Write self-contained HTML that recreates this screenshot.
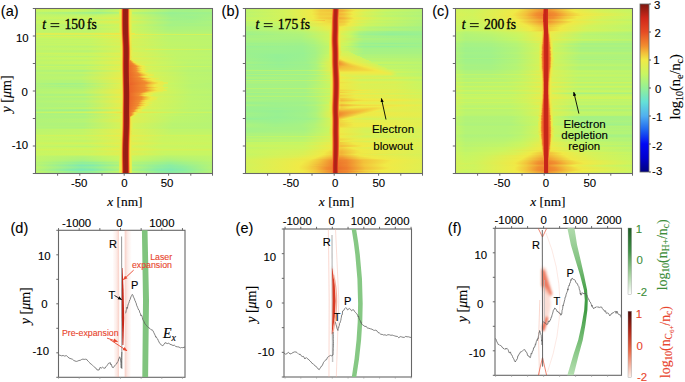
<!DOCTYPE html>
<html><head><meta charset="utf-8"><style>
html,body{margin:0;padding:0;background:#fff}
body{width:685px;height:382px;overflow:hidden;position:relative;font-family:"Liberation Sans",sans-serif}
.hm{position:absolute;width:178px;height:165px;overflow:hidden}
.hm i{position:absolute;left:0;width:178px;height:1px;display:block}
svg{position:absolute;left:0;top:0}
#cb{position:absolute;left:640px;top:4px;width:9px;height:168px;background:linear-gradient(180deg,#7d1810 0.0%,#a62015 4.2%,#d0281a 8.3%,#db3a1f 12.5%,#e64c24 16.7%,#ec6d2a 20.8%,#f18e30 25.0%,#f3c03a 29.2%,#f0ea46 33.3%,#dcf054 37.5%,#c8f662 41.7%,#aef37c 45.8%,#94f096 50.0%,#7ce8b6 54.2%,#64e1d7 58.3%,#5ac8e4 62.5%,#50aff0 66.7%,#378af0 70.8%,#1e64f0 75.0%,#0f36f2 79.2%,#0008f5 83.3%,#0004e1 87.5%,#0000cd 91.7%,#0000a6 95.8%,#000080 100.0%)}
</style></head><body>
<div class="hm" style="left:35px;top:8px"><i style="top:0px;background:linear-gradient(90deg,#c2f568 0,#bff56b 38.5px,#a5f285 66.5px,#bdf56d 83.5px,#e1ef51 84.5px,#eceb49 85.5px,#f3c23b 86.5px,#e54a23 87.5px,#9e1e14 88.5px,#961d13 90.5px,#9e1e14 92.5px,#e95d27 93.5px,#f2cf3e 94.5px,#eaec4a 95.5px,#c9f661 97.5px,#a4f286 137.5px,#aaf380 178px)"></i><i style="top:1px;background:linear-gradient(90deg,#d1f35c 0,#ccf55f 44.5px,#bcf56e 59.5px,#abf37f 60.5px,#a8f282 65.5px,#c0f56a 83.5px,#e1ef51 84.5px,#eceb48 85.5px,#f3c23a 86.5px,#e44a23 87.5px,#9d1e14 88.5px,#961d13 90.5px,#9e1e14 92.5px,#e95d27 93.5px,#f2cf3e 94.5px,#eaec4a 95.5px,#cbf560 97.5px,#a4f286 137.5px,#aaf380 178px)"></i><i style="top:2px;background:linear-gradient(90deg,#c8f662 0,#caf561 39.5px,#b6f474 66.5px,#cbf560 83.5px,#edeb48 85.5px,#f3c13a 86.5px,#e44923 87.5px,#9d1e14 88.5px,#961d13 90.5px,#9e1e14 92.5px,#e95e27 93.5px,#f2d03f 94.5px,#eaec4a 95.5px,#d2f35b 97.5px,#a5f285 138.5px,#a2f288 156.5px,#acf37e 178px)"></i><i style="top:3px;background:linear-gradient(90deg,#c4f666 0,#c4f666 37.5px,#b4f476 65.5px,#c7f663 83.5px,#e1ef51 84.5px,#edeb48 85.5px,#f3c03a 86.5px,#e44823 87.5px,#9d1e14 88.5px,#961d13 90.5px,#9e1e14 92.5px,#e95f27 93.5px,#f2d03f 94.5px,#eaec4a 95.5px,#cdf55f 97.5px,#a2f288 137.5px,#a9f281 178px)"></i><i style="top:4px;background:linear-gradient(90deg,#b9f471 0,#9df18d 63.5px,#b1f379 83.5px,#e1ee50 84.5px,#edeb48 85.5px,#f3c03a 86.5px,#e34823 87.5px,#9d1e14 88.5px,#961d13 90.5px,#9f1e14 92.5px,#e96028 93.5px,#f2d13f 94.5px,#eaec4b 95.5px,#dfef52 96.5px,#b8f472 97.5px,#99f191 134.5px,#a0f18a 178px)"></i><i style="top:5px;background:linear-gradient(90deg,#b9f471 0,#a4f286 61.5px,#b6f474 83.5px,#e1ee50 84.5px,#edeb48 85.5px,#f3bf3a 86.5px,#e34723 87.5px,#9d1e14 88.5px,#961d13 90.5px,#9f1f14 92.5px,#ea6128 93.5px,#f2d23f 94.5px,#e9ec4b 95.5px,#dfef52 96.5px,#b9f471 97.5px,#98f092 134.5px,#9ff18b 178px)"></i><i style="top:6px;background:linear-gradient(90deg,#bff56b 0,#b7f473 60.5px,#c7f663 83.5px,#e1ee50 84.5px,#edeb48 85.5px,#f3bf3a 86.5px,#e34723 87.5px,#9d1e14 88.5px,#961d13 90.5px,#a01f14 92.5px,#ea6228 93.5px,#f2d23f 94.5px,#e9ec4b 95.5px,#dfef52 96.5px,#c6f664 97.5px,#9cf18e 135.5px,#a3f287 178px)"></i><i style="top:7px;background:linear-gradient(90deg,#c1f569 0,#bff56b 57.5px,#cdf55f 83.5px,#edeb48 85.5px,#f3be3a 86.5px,#e34722 87.5px,#9d1e14 88.5px,#961d13 90.5px,#a01f14 92.5px,#ea6228 93.5px,#f2d23f 94.5px,#e9ec4b 95.5px,#caf561 97.5px,#9df18d 136.5px,#a4f286 178px)"></i><i style="top:8px;background:linear-gradient(90deg,#c3f567 0,#c4f666 55.5px,#d1f35c 83.5px,#edeb48 85.5px,#f3be3a 86.5px,#e34622 87.5px,#9d1e14 88.5px,#961d13 90.5px,#a11f14 92.5px,#ea6228 93.5px,#f2d23f 94.5px,#e9ec4b 95.5px,#cdf45e 97.5px,#9ff18b 136.5px,#9cf18e 155.5px,#a6f284 178px)"></i><i style="top:9px;background:linear-gradient(90deg,#c6f664 0,#cbf560 56.5px,#d7f258 83.5px,#edeb48 85.5px,#f3be3a 86.5px,#e24622 87.5px,#9d1e14 88.5px,#961d13 90.5px,#a11f14 92.5px,#ea6328 93.5px,#f2d33f 94.5px,#e9ec4b 95.5px,#d2f35b 97.5px,#a1f189 137.5px,#9ef18c 156.5px,#a8f282 178px)"></i><i style="top:10px;background:linear-gradient(90deg,#c8f662 0,#d1f35c 59.5px,#e1ee50 84.5px,#edeb48 85.5px,#f3be3a 86.5px,#e24622 87.5px,#9d1e14 88.5px,#961d13 90.5px,#a11f14 92.5px,#ea6328 93.5px,#f2d33f 94.5px,#e9ec4b 95.5px,#d6f258 97.5px,#a3f287 138.5px,#9ff18b 156.5px,#aaf380 178px)"></i><i style="top:11px;background:linear-gradient(90deg,#c1f569 0,#c0f56a 53.5px,#cef45d 83.5px,#edeb48 85.5px,#f3be3a 86.5px,#e24622 87.5px,#9d1e14 88.5px,#961d13 90.5px,#a11f14 92.5px,#ea6328 93.5px,#f2d33f 94.5px,#e9ec4b 95.5px,#cbf560 97.5px,#9ff18b 136.5px,#a5f285 178px)"></i><i style="top:12px;background:linear-gradient(90deg,#c3f567 0,#c4f666 53.5px,#d1f35b 83.5px,#edeb48 85.5px,#f3be3a 86.5px,#e34622 87.5px,#9d1e14 88.5px,#961d13 90.5px,#a11f14 92.5px,#ea6228 93.5px,#f2d23f 94.5px,#e9ec4b 95.5px,#cdf45e 97.5px,#a1f189 136.5px,#a7f283 178px)"></i><i style="top:13px;background:linear-gradient(90deg,#c9f661 0,#d3f35a 57.5px,#e1ee50 84.5px,#edeb48 85.5px,#f3be3a 86.5px,#e34723 87.5px,#9d1e14 88.5px,#961d13 90.5px,#a01f14 92.5px,#ea6228 93.5px,#f2d23f 94.5px,#e9ec4b 95.5px,#dfef52 96.5px,#b7f473 120.5px,#a7f283 136.5px,#a3f287 155.5px,#adf37d 178px)"></i><i style="top:14px;background:linear-gradient(90deg,#c8f662 0,#d0f45c 58.5px,#e1ee50 84.5px,#edeb48 85.5px,#f3bf3a 86.5px,#e34723 87.5px,#9d1e14 88.5px,#961d13 90.5px,#a01f14 92.5px,#ea6228 93.5px,#f2d23f 94.5px,#e9ec4b 95.5px,#d6f258 97.5px,#a6f284 138.5px,#a3f287 156.5px,#adf37d 178px)"></i><i style="top:15px;background:linear-gradient(90deg,#c5f665 0,#caf661 55.5px,#d6f258 83.5px,#edeb48 85.5px,#f3bf3a 86.5px,#e34723 87.5px,#9d1e14 88.5px,#961d13 90.5px,#9f1f14 92.5px,#ea6128 93.5px,#f2d23f 94.5px,#e9ec4b 95.5px,#d2f35b 97.5px,#a6f284 137.5px,#acf37e 178px)"></i><i style="top:16px;background:linear-gradient(90deg,#c0f56a 0,#bdf56d 53.5px,#cdf45e 83.5px,#edeb48 85.5px,#f3c03a 86.5px,#e44823 87.5px,#9d1e14 88.5px,#961d13 90.5px,#9e1e14 92.5px,#e95f28 93.5px,#f2d13f 94.5px,#eaec4a 95.5px,#cbf560 97.5px,#a5f285 134.5px,#aaf280 178px)"></i><i style="top:17px;background:linear-gradient(90deg,#bdf56d 0,#b5f475 53.5px,#c8f662 83.5px,#e1ef51 84.5px,#edeb48 85.5px,#f3c13a 86.5px,#e44923 87.5px,#9d1e14 88.5px,#961d13 90.5px,#9e1e14 92.5px,#e95e27 93.5px,#f2d03e 94.5px,#eaec4a 95.5px,#dfef52 96.5px,#c6f664 97.5px,#a4f286 133.5px,#a9f281 178px)"></i><i style="top:18px;background:linear-gradient(90deg,#c1f569 0,#c1f569 53.5px,#d0f45c 83.5px,#eceb49 85.5px,#f3c23b 86.5px,#e54a24 87.5px,#9e1e14 88.5px,#961d13 90.5px,#9e1e14 92.5px,#e95c27 93.5px,#f2ce3e 94.5px,#eaec4a 95.5px,#cef45e 97.5px,#a9f281 134.5px,#adf37d 178px)"></i><i style="top:19px;background:linear-gradient(90deg,#c2f568 0,#c1f569 53.5px,#d1f35c 83.5px,#eceb49 85.5px,#f3c43b 86.5px,#e64c24 87.5px,#9e1e14 88.5px,#961d13 90.5px,#9e1e14 92.5px,#e85a27 93.5px,#f2cd3e 94.5px,#eaec4a 95.5px,#cff45d 97.5px,#abf37f 134.5px,#aff37b 178px)"></i><i style="top:20px;background:linear-gradient(90deg,#bef56c 0,#b8f472 53.5px,#cbf560 83.5px,#eceb49 85.5px,#f3c53b 86.5px,#e64e24 87.5px,#9e1e14 88.5px,#961d13 90.5px,#9e1e14 92.5px,#e85826 93.5px,#f2cc3d 94.5px,#ebec4a 95.5px,#caf561 97.5px,#abf37f 132.5px,#aef37c 178px)"></i><i style="top:21px;background:linear-gradient(90deg,#bff56b 0,#bbf46f 53.5px,#cdf55f 83.5px,#ebeb49 85.5px,#f3c73c 86.5px,#e75025 87.5px,#9e1e14 88.5px,#961d13 90.5px,#9e1e14 92.5px,#e75526 93.5px,#f2ca3d 94.5px,#ebec4a 95.5px,#ccf55f 97.5px,#adf37d 132.5px,#b0f37a 178px)"></i><i style="top:22px;background:linear-gradient(90deg,#c1f569 0,#bff56b 53.5px,#d0f45d 83.5px,#ebeb49 85.5px,#f2c93c 86.5px,#e75325 87.5px,#9e1e14 88.5px,#961d13 90.5px,#9e1e14 92.5px,#e75225 93.5px,#f2c83c 94.5px,#ebeb49 95.5px,#cff45d 97.5px,#b0f37a 133.5px,#b2f378 178px)"></i><i style="top:23px;background:linear-gradient(90deg,#bff56b 0,#bcf56e 53.5px,#cef45e 83.5px,#ebec4a 85.5px,#f2cb3d 86.5px,#e85626 87.5px,#9e1e14 88.5px,#961d13 90.5px,#9e1e14 92.5px,#e74f25 93.5px,#f3c63c 94.5px,#eceb49 95.5px,#cdf45e 97.5px,#b1f379 132.5px,#b2f478 178px)"></i><i style="top:24px;background:linear-gradient(90deg,#c1f569 0,#c1f569 53.5px,#d2f35b 83.5px,#eaec4a 85.5px,#f2cd3e 86.5px,#e85a26 87.5px,#9e1e14 88.5px,#961d13 90.5px,#9e1e14 92.5px,#e64c24 93.5px,#f3c43b 94.5px,#eceb49 95.5px,#d1f35c 97.5px,#b4f476 133.5px,#b5f475 178px)"></i><i style="top:25px;background:linear-gradient(90deg,#e0ef51 0,#e1ee50 53.5px,#f0e645 85.5px,#f2cf3e 86.5px,#e95d27 87.5px,#9e1e14 88.5px,#961d13 90.5px,#9d1e14 92.5px,#e44923 93.5px,#f3c23a 94.5px,#f0e845 95.5px,#efea47 99.5px,#d2f35b 100.5px,#bcf56e 123.5px,#b4f476 147.5px,#b7f473 178px)"></i><i style="top:26px;background:linear-gradient(90deg,#dcf054 0,#ddf053 54.5px,#edeb48 85.5px,#f2d23f 86.5px,#ea6228 87.5px,#a01f14 88.5px,#961d13 90.5px,#9d1e14 92.5px,#e34723 93.5px,#f3bf3a 94.5px,#edeb48 95.5px,#d4f259 131.5px,#d4f35a 178px)"></i><i style="top:27px;background:linear-gradient(90deg,#c2f568 0,#c2f568 52.5px,#d4f35a 83.5px,#e9ec4b 85.5px,#f2d540 86.5px,#ea6629 87.5px,#a42015 88.5px,#961d13 90.5px,#9d1e14 92.5px,#e14422 93.5px,#f3bb39 94.5px,#eeeb48 95.5px,#d3f35a 97.5px,#b9f471 132.5px,#b9f471 178px)"></i><i style="top:28px;background:linear-gradient(90deg,#d6f258 0,#daf155 53.5px,#e8ec4b 85.5px,#f1d841 86.5px,#eb6b2a 87.5px,#a92015 88.5px,#971d13 90.5px,#9d1e14 92.5px,#df4121 93.5px,#f3b738 94.5px,#eeeb47 95.5px,#d9f156 97.5px,#bcf56e 134.5px,#bcf56e 178px)"></i><i style="top:29px;background:linear-gradient(90deg,#c7f663 0,#cdf45e 55.5px,#deef53 84.5px,#e8ec4c 85.5px,#f1da41 86.5px,#ec702b 87.5px,#ae2116 88.5px,#9b1e14 89.5px,#971d13 90.5px,#9d1e14 92.5px,#dd3e20 93.5px,#f2b337 94.5px,#efea47 95.5px,#e2ee50 96.5px,#c0f56a 132.5px,#bdf56d 178px)"></i><i style="top:30px;background:linear-gradient(90deg,#c4f666 0,#c9f661 57.5px,#ddf053 84.5px,#e7ed4c 85.5px,#f1db42 86.5px,#ed762c 87.5px,#b32216 88.5px,#9b1e14 89.5px,#971d13 90.5px,#9d1e14 92.5px,#db3b1f 93.5px,#f2af37 94.5px,#efea46 95.5px,#d8f157 97.5px,#bef56c 133.5px,#bcf56e 178px)"></i><i style="top:31px;background:linear-gradient(90deg,#c1f569 0,#c1f569 52.5px,#d4f35a 83.5px,#e7ed4c 85.5px,#f1dd42 86.5px,#ee7b2d 87.5px,#b82317 88.5px,#9b1e14 89.5px,#971d13 90.5px,#9d1e14 92.5px,#d9371e 93.5px,#f2ab36 94.5px,#f0ea46 95.5px,#d4f25a 97.5px,#bdf56d 131.5px,#bbf56f 178px)"></i><i style="top:32px;background:linear-gradient(90deg,#c4f666 0,#c7f663 54.5px,#dcf054 84.5px,#f1de43 86.5px,#ef812e 87.5px,#bd2418 88.5px,#9b1e14 89.5px,#971d13 90.5px,#9c1e14 92.5px,#d7341d 93.5px,#f2a735 94.5px,#f0e846 95.5px,#d8f157 97.5px,#bff56b 133.5px,#bdf56d 178px)"></i><i style="top:33px;background:linear-gradient(90deg,#c3f567 0,#c5f665 54.5px,#dcf054 84.5px,#f1e043 86.5px,#f0862f 87.5px,#c22518 88.5px,#9b1e14 89.5px,#971d13 90.5px,#9c1e14 92.5px,#d5311c 93.5px,#f2a334 94.5px,#f0e745 95.5px,#d7f157 97.5px,#bff56b 133.5px,#bdf56d 178px)"></i><i style="top:34px;background:linear-gradient(90deg,#c4f666 0,#c7f663 52.5px,#d9f156 84.5px,#f1e143 86.5px,#f18c30 87.5px,#c82619 88.5px,#9c1e14 89.5px,#981d13 90.5px,#9c1e14 92.5px,#d32d1b 93.5px,#f29f33 94.5px,#f0e645 95.5px,#d9f156 97.5px,#c1f569 134.5px,#bef56c 178px)"></i><i style="top:35px;background:linear-gradient(90deg,#c1f569 0,#c1f569 52.5px,#d5f259 84.5px,#f1e244 86.5px,#f19331 87.5px,#cd271a 88.5px,#9c1e14 89.5px,#981d13 90.5px,#9c1e14 92.5px,#d12a1b 93.5px,#f29b33 94.5px,#f0e444 95.5px,#d5f259 97.5px,#c0f56a 132.5px,#bcf56e 178px)"></i><i style="top:36px;background:linear-gradient(90deg,#c4f666 0,#c9f661 55.5px,#dbf055 84.5px,#f0e444 86.5px,#f19932 87.5px,#d0291a 88.5px,#9c1e14 89.5px,#981d13 91.5px,#9c1e14 92.5px,#cf281a 93.5px,#f19632 94.5px,#f1e344 95.5px,#daf055 97.5px,#c2f568 134.5px,#bff56b 178px)"></i><i style="top:37px;background:linear-gradient(90deg,#c2f568 0,#c3f567 52.5px,#d7f258 84.5px,#f0e544 86.5px,#f29c33 87.5px,#d22b1b 88.5px,#9c1e14 89.5px,#981d13 91.5px,#9c1e14 92.5px,#cb2719 93.5px,#f18f30 94.5px,#f1e244 95.5px,#d7f157 97.5px,#c1f569 133.5px,#bdf56d 178px)"></i><i style="top:38px;background:linear-gradient(90deg,#bef56c 0,#baf470 53.5px,#d0f45c 84.5px,#f0e645 86.5px,#f2a034 87.5px,#d42e1c 88.5px,#9c1e14 89.5px,#981d13 91.5px,#9c1e14 92.5px,#c72619 93.5px,#f08b2f 94.5px,#f1e143 95.5px,#d2f35b 97.5px,#bff56b 130.5px,#bbf46f 178px)"></i><i style="top:39px;background:linear-gradient(90deg,#c0f56a 0,#bff56b 52.5px,#d4f25a 84.5px,#f0e745 86.5px,#f2a234 87.5px,#d5301c 88.5px,#9c1e14 89.5px,#971d13 91.5px,#9b1e14 92.5px,#c32618 93.5px,#f0872f 94.5px,#f1e043 95.5px,#dcf054 97.5px,#d5f259 98.5px,#c2f568 128.5px,#bcf56e 178px)"></i><i style="top:40px;background:linear-gradient(90deg,#c3f567 0,#c5f665 52.5px,#d9f156 84.5px,#f0e745 86.5px,#f2a434 87.5px,#d6321d 88.5px,#9c1e14 89.5px,#971d13 91.5px,#9b1e14 92.5px,#c12518 93.5px,#ef842e 94.5px,#f1df43 95.5px,#dcf054 97.5px,#c3f567 132.5px,#bef56c 178px)"></i><i style="top:41px;background:linear-gradient(90deg,#c2f568 0,#c4f666 52.5px,#d8f157 84.5px,#f0e845 86.5px,#f2a635 87.5px,#d7331d 88.5px,#9c1e14 89.5px,#971d13 91.5px,#9b1e14 92.5px,#bf2518 93.5px,#ef822e 94.5px,#f1df43 95.5px,#dcf054 97.5px,#d1f35c 109.5px,#e0ef51 110.5px,#d2f35b 138.5px,#d0f45c 178px)"></i><i style="top:42px;background:linear-gradient(90deg,#bef56c 0,#baf470 52.5px,#d1f35b 84.5px,#f0e846 86.5px,#f2a735 87.5px,#d7341d 88.5px,#9c1e14 89.5px,#971d13 91.5px,#9b1e14 92.5px,#bd2418 93.5px,#ef802e 94.5px,#f1de43 95.5px,#e7ed4d 96.5px,#d3f35a 98.5px,#c0f56a 132.5px,#bbf46f 178px)"></i><i style="top:43px;background:linear-gradient(90deg,#bef56c 0,#b9f471 52.5px,#d1f35c 84.5px,#f0e946 86.5px,#f2a835 87.5px,#d8351e 88.5px,#9c1e14 89.5px,#971d13 91.5px,#9b1e14 92.5px,#bc2418 93.5px,#ee7f2d 94.5px,#f1de43 95.5px,#e7ed4d 96.5px,#d3f35b 98.5px,#c0f56a 132.5px,#baf470 178px)"></i><i style="top:44px;background:linear-gradient(90deg,#c1f569 0,#c2f568 52.5px,#d7f157 84.5px,#f0e946 86.5px,#f2a935 87.5px,#d8351e 88.5px,#9c1e14 89.5px,#971d13 91.5px,#9b1e14 92.5px,#bb2417 93.5px,#ee7f2d 94.5px,#f1de42 95.5px,#e7ed4d 96.5px,#ddf054 97.5px,#c3f567 132.5px,#bcf56e 178px)"></i><i style="top:45px;background:linear-gradient(90deg,#ccf55f 0,#cdf45e 54.5px,#e3ee4f 85.5px,#f0e946 86.5px,#f2a935 87.5px,#d8361e 88.5px,#9d1e14 89.5px,#971d13 91.5px,#9b1e14 92.5px,#bb2417 93.5px,#ee7e2d 94.5px,#f1de42 95.5px,#e7ed4d 96.5px,#ddf054 97.5px,#c2f568 134.5px,#bcf56e 178px)"></i><i style="top:46px;background:linear-gradient(90deg,#c3f567 0,#c9f661 57.5px,#dcf054 84.5px,#e3ee4f 85.5px,#f0e946 86.5px,#f2a935 87.5px,#d8351e 88.5px,#9c1e14 89.5px,#971d13 91.5px,#9b1e14 92.5px,#bb2417 93.5px,#ee7e2d 94.5px,#f1de42 95.5px,#e7ed4d 96.5px,#ddf054 97.5px,#c2f568 140.5px,#bef56c 178px)"></i><i style="top:47px;background:linear-gradient(90deg,#c3f567 0,#c7f663 54.5px,#dcf054 84.5px,#e3ee4f 85.5px,#f0e946 86.5px,#f2a835 87.5px,#d8351e 88.5px,#9c1e14 89.5px,#971d13 91.5px,#9b1e14 92.5px,#bc2418 93.5px,#ef7f2d 94.5px,#f1de43 95.5px,#e7ed4d 96.5px,#ddf054 97.5px,#c1f569 141.5px,#bdf56d 178px)"></i><i style="top:48px;background:linear-gradient(90deg,#bef56c 0,#baf470 51.5px,#d3f35a 84.5px,#f0e946 86.5px,#f2a835 87.5px,#d8351e 88.5px,#9c1e14 89.5px,#971d13 91.5px,#9b1e14 92.5px,#bc2418 93.5px,#ef802d 94.5px,#f1de43 95.5px,#ddf054 97.5px,#d5f259 98.5px,#c2f568 130.5px,#baf470 178px)"></i><i style="top:49px;background:linear-gradient(90deg,#c2f568 0,#c4f666 50.5px,#dbf054 84.5px,#f0e846 86.5px,#f2a735 87.5px,#d7341d 88.5px,#9c1e14 89.5px,#971d13 91.5px,#9b1e14 92.5px,#bd2418 93.5px,#ef812e 94.5px,#f1de43 95.5px,#ddf054 97.5px,#c0f56a 143.5px,#bcf56e 178px)"></i><i style="top:50px;background:linear-gradient(90deg,#c5f665 0,#cdf55f 54.5px,#e4ee4f 85.5px,#f0e845 86.5px,#f2a635 87.5px,#d7331d 88.5px,#9c1e14 89.5px,#971d13 91.5px,#9b1e14 92.5px,#be2518 93.5px,#ef822e 94.5px,#f1de43 95.5px,#e6ed4d 96.5px,#c3f567 142.5px,#bff56b 178px)"></i><i style="top:51px;background:linear-gradient(90deg,#c1f569 0,#c2f568 50.5px,#daf055 84.5px,#f0e845 86.5px,#f2a635 87.5px,#d7331d 88.5px,#9c1e14 89.5px,#971d13 91.5px,#9b1e14 92.5px,#bf2518 93.5px,#ef832e 94.5px,#f1dd42 95.5px,#dcf054 97.5px,#bff56b 144.5px,#bbf56f 178px)"></i><i style="top:52px;background:linear-gradient(90deg,#bff56b 0,#bef56c 50.5px,#d8f157 84.5px,#f0e845 86.5px,#f2a535 87.5px,#d6321d 88.5px,#9c1e14 89.5px,#971d13 91.5px,#9b1e14 92.5px,#c02518 93.5px,#ef812e 94.5px,#f29e33 95.5px,#f2ce3e 96.5px,#f0ea46 97.5px,#d9f156 99.5px,#bef56c 145.5px,#baf470 178px)"></i><i style="top:53px;background:linear-gradient(90deg,#c2f568 0,#c7f663 51.5px,#e4ee4f 85.5px,#f0e745 86.5px,#f2a434 87.5px,#d6321d 88.5px,#9c1e14 89.5px,#971d13 91.5px,#9b1e14 92.5px,#c12518 93.5px,#ee7a2c 94.5px,#f0862e 95.5px,#f0e545 98.5px,#ebeb49 99.5px,#deef52 101.5px,#cbf560 126.5px,#bdf56d 154.5px,#bdf56d 178px)"></i><i style="top:54px;background:linear-gradient(90deg,#c3f567 0,#caf661 53.5px,#e4ee4f 85.5px,#f0e745 86.5px,#f2a434 87.5px,#d6311d 88.5px,#9c1e14 89.5px,#971d13 91.5px,#9b1e14 92.5px,#c22518 93.5px,#ed782c 94.5px,#f18c30 96.5px,#f2d13f 98.5px,#f0e745 99.5px,#ebeb49 100.5px,#dfef52 102.5px,#c4f666 140.5px,#bdf56d 178px)"></i><i style="top:55px;background:linear-gradient(90deg,#c2f568 0,#c9f661 53.5px,#e4ee4e 85.5px,#f0e745 86.5px,#f2a334 87.5px,#d5311c 88.5px,#9c1e14 89.5px,#971d13 91.5px,#9b1e14 92.5px,#c22518 93.5px,#ed732b 94.5px,#f0882f 97.5px,#f2d440 100.5px,#f0e645 101.5px,#edeb48 102.5px,#def053 105.5px,#cdf55f 126.5px,#bdf56d 154.5px,#bdf56d 178px)"></i><i style="top:56px;background:linear-gradient(90deg,#bdf56d 0,#bcf56e 49.5px,#d9f156 84.5px,#f0e745 86.5px,#f2a334 87.5px,#d5311c 88.5px,#9c1e14 89.5px,#971d13 91.5px,#9b1e14 92.5px,#c22518 93.5px,#ec712b 94.5px,#f08a2f 98.5px,#f2d13f 101.5px,#efea47 103.5px,#d6f258 107.5px,#d0f45d 116.5px,#bbf56f 152.5px,#b9f471 178px)"></i><i style="top:57px;background:linear-gradient(90deg,#b9f471 0,#b3f477 49.5px,#d3f35a 84.5px,#f0e745 86.5px,#f2a334 87.5px,#d5311c 88.5px,#9c1e14 89.5px,#971d13 91.5px,#9b1e14 92.5px,#c22518 93.5px,#ec6e2a 94.5px,#ef802d 98.5px,#f19131 100.5px,#f3c13a 102.5px,#f0ea46 105.5px,#e1ef51 109.5px,#d0f45c 110.5px,#baf470 150.5px,#b7f473 178px)"></i><i style="top:58px;background:linear-gradient(90deg,#c8f662 0,#c5f665 48.5px,#e4ee4e 85.5px,#f0e745 86.5px,#f2a334 87.5px,#d6311d 88.5px,#9c1e14 89.5px,#971d13 91.5px,#9b1e14 92.5px,#c22518 93.5px,#eb6d2a 94.5px,#f18e30 101.5px,#f2ca3d 104.5px,#efea46 107.5px,#dcf054 112.5px,#d5f259 123.5px,#c5f665 178px)"></i><i style="top:59px;background:linear-gradient(90deg,#bdf56d 0,#bef56c 50.5px,#dcf054 84.5px,#e4ee4f 85.5px,#f0e745 86.5px,#f2a434 87.5px,#d6311d 88.5px,#9c1e14 89.5px,#971d13 91.5px,#9b1e14 92.5px,#c22518 93.5px,#ec6e2a 94.5px,#f18c30 100.5px,#f2ca3d 103.5px,#eeea47 106.5px,#e3ee4f 109.5px,#d7f258 110.5px,#d1f35b 117.5px,#bbf56f 153.5px,#b9f471 178px)"></i><i style="top:60px;background:linear-gradient(90deg,#bff56b 0,#c3f567 47.5px,#e4ee4f 85.5px,#f0e745 86.5px,#f2a434 87.5px,#d6321d 88.5px,#9c1e14 89.5px,#971d13 91.5px,#9b1e14 92.5px,#c12518 93.5px,#eb6d2a 94.5px,#f18f30 101.5px,#f2cb3d 104.5px,#efea47 107.5px,#d9f156 112.5px,#d0f45c 123.5px,#bcf56e 154.5px,#bbf56f 178px)"></i><i style="top:61px;background:linear-gradient(90deg,#bcf56e 0,#bcf56e 49.5px,#e4ee4f 85.5px,#f0e845 86.5px,#f2a535 87.5px,#d6331d 88.5px,#9c1e14 89.5px,#971d13 91.5px,#9b1e14 92.5px,#c02518 93.5px,#ec6d2a 94.5px,#f0892f 100.5px,#f1df43 105.5px,#eeeb48 107.5px,#d7f157 111.5px,#d1f35c 119.5px,#bbf56f 153.5px,#b9f471 178px)"></i><i style="top:62px;background:linear-gradient(90deg,#b5f475 0,#adf37d 48.5px,#d2f35b 84.5px,#f0e845 86.5px,#f2a635 87.5px,#d7341d 88.5px,#9c1e14 89.5px,#971d13 91.5px,#9b1e14 92.5px,#be2518 93.5px,#eb6c2a 94.5px,#f18c30 101.5px,#f1e043 106.5px,#eeeb48 108.5px,#e0ef51 112.5px,#cff45d 113.5px,#b9f471 152.5px,#b5f475 178px)"></i><i style="top:63px;background:linear-gradient(90deg,#b6f474 0,#b0f37a 47.5px,#d6f258 84.5px,#f0e946 86.5px,#f2a835 87.5px,#d8351e 88.5px,#9c1e14 89.5px,#971d13 91.5px,#9b1e14 92.5px,#bc2418 93.5px,#eb6d2a 94.5px,#f0882f 100.5px,#f19331 101.5px,#f3bf3a 103.5px,#f1dd42 105.5px,#eeeb47 107.5px,#e3ee4f 110.5px,#d3f35a 111.5px,#baf470 152.5px,#b6f474 178px)"></i><i style="top:64px;background:linear-gradient(90deg,#bdf56d 0,#bff56b 45.5px,#e3ee4f 85.5px,#f0e946 86.5px,#f2a935 87.5px,#d8361e 88.5px,#9d1e14 89.5px,#971d13 91.5px,#9b1e14 92.5px,#ba2417 93.5px,#eb6c2a 94.5px,#ee7d2d 99.5px,#f19131 102.5px,#f3ba39 104.5px,#f0e946 108.5px,#d9f156 114.5px,#d1f35c 124.5px,#bcf56e 155.5px,#bbf46f 178px)"></i><i style="top:65px;background:linear-gradient(90deg,#bcf56e 0,#bef56c 45.5px,#e4ee4e 85.5px,#f0ea46 86.5px,#f2ab36 87.5px,#d9371e 88.5px,#9d1e14 89.5px,#971d13 91.5px,#9b1e14 92.5px,#b82317 93.5px,#eb6a2a 94.5px,#f18e30 103.5px,#f3c43b 106.5px,#efea46 110.5px,#d8f157 116.5px,#d2f35b 124.5px,#bcf56e 155.5px,#bbf46f 178px)"></i><i style="top:66px;background:linear-gradient(90deg,#b8f472 0,#b6f474 48.5px,#e3ee4f 85.5px,#f0ea46 86.5px,#f2ad36 87.5px,#da391f 88.5px,#9d1e14 89.5px,#971d13 91.5px,#9b1e14 92.5px,#b62317 93.5px,#eb6929 94.5px,#f18c30 104.5px,#f3c73c 108.5px,#f0ea46 112.5px,#e0ef51 118.5px,#d3f35b 119.5px,#bbf46f 154.5px,#b8f472 178px)"></i><i style="top:67px;background:linear-gradient(90deg,#b8f472 0,#b7f473 46.5px,#e3ee4f 85.5px,#f0ea46 86.5px,#f2ae36 87.5px,#db3a1f 88.5px,#9d1e14 89.5px,#971d13 91.5px,#9b1e14 92.5px,#b42317 93.5px,#eb6929 94.5px,#f08a2f 104.5px,#f1d741 110.5px,#efea47 113.5px,#e2ee50 118.5px,#d4f25a 119.5px,#bbf56f 154.5px,#b9f471 178px)"></i><i style="top:68px;background:linear-gradient(90deg,#baf470 0,#baf470 44.5px,#e4ee4e 85.5px,#efea47 86.5px,#f2b037 87.5px,#dc3c1f 88.5px,#9d1e14 89.5px,#971d13 91.5px,#9b1e14 92.5px,#b22216 93.5px,#eb6b2a 94.5px,#f0892f 102.5px,#f1e043 108.5px,#eeea47 110.5px,#daf155 115.5px,#d0f45c 127.5px,#bbf56f 156.5px,#baf470 178px)"></i><i style="top:69px;background:linear-gradient(90deg,#baf470 0,#bcf56e 44.5px,#e6ed4d 85.5px,#efea47 86.5px,#f2b237 87.5px,#dd3d20 88.5px,#9d1e14 89.5px,#971d13 91.5px,#9b1e14 92.5px,#af2216 93.5px,#eb6929 94.5px,#f18d30 104.5px,#f3be3a 107.5px,#f1e043 110.5px,#efea47 112.5px,#d9f156 118.5px,#d0f35c 128.5px,#bcf56e 156.5px,#bbf46f 178px)"></i><i style="top:70px;background:linear-gradient(90deg,#baf470 0,#bef56c 46.5px,#efea47 86.5px,#f3b438 87.5px,#de3f20 88.5px,#9d1e14 89.5px,#971d13 91.5px,#9b1e14 92.5px,#ad2116 93.5px,#eb6829 94.5px,#f18d30 107.5px,#f3c23b 111.5px,#f0e946 116.5px,#e1ee50 123.5px,#d5f259 124.5px,#bdf56d 155.5px,#bbf56f 178px)"></i><i style="top:71px;background:linear-gradient(90deg,#b8f472 0,#b8f472 44.5px,#e4ee4e 85.5px,#eeea47 86.5px,#f3b638 87.5px,#df4021 88.5px,#9d1e14 89.5px,#971d13 91.5px,#aa2115 93.5px,#eb6829 94.5px,#f08a2f 105.5px,#f3bf3a 109.5px,#f0e946 114.5px,#e2ee50 120.5px,#d6f258 121.5px,#bcf56e 155.5px,#baf470 178px)"></i><i style="top:72px;background:linear-gradient(90deg,#b5f475 0,#b3f477 45.5px,#e2ee50 85.5px,#eeeb47 86.5px,#f3b838 87.5px,#e04221 88.5px,#9d1e14 89.5px,#971d13 91.5px,#a82015 93.5px,#eb6729 94.5px,#f08b2f 107.5px,#f3c43b 112.5px,#f0e946 117.5px,#e2ee50 124.5px,#d1f35c 125.5px,#bbf46f 155.5px,#b8f472 178px)"></i><i style="top:73px;background:linear-gradient(90deg,#b5f475 0,#b3f477 45.5px,#e2ee50 85.5px,#eeeb48 86.5px,#f3ba39 87.5px,#e14322 88.5px,#9d1e14 89.5px,#971d13 91.5px,#a52015 93.5px,#ea6729 94.5px,#f18d30 109.5px,#f3bd39 113.5px,#f0e846 119.5px,#e1ee50 127.5px,#cff45d 128.5px,#bbf46f 156.5px,#b9f471 178px)"></i><i style="top:74px;background:linear-gradient(90deg,#b5f475 0,#b4f476 45.5px,#e3ee4f 85.5px,#edeb48 86.5px,#f3bc39 87.5px,#e24522 88.5px,#9d1e14 89.5px,#961d13 91.5px,#a31f15 93.5px,#ea6528 94.5px,#f18b2f 111.5px,#f3c43b 117.5px,#f0e845 123.5px,#e1ee50 132.5px,#ccf55f 133.5px,#bbf46f 157.5px,#b9f471 178px)"></i><i style="top:75px;background:linear-gradient(90deg,#aef37c 0,#a2f288 26.5px,#a4f286 46.5px,#d5f259 84.5px,#edeb48 86.5px,#f3be3a 87.5px,#e34622 88.5px,#9d1e14 89.5px,#961d13 91.5px,#a11f14 93.5px,#ea6228 94.5px,#f18c30 111.5px,#f3be3a 116.5px,#f0e946 123.5px,#e1ef51 132.5px,#c7f663 133.5px,#b4f476 178px)"></i><i style="top:76px;background:linear-gradient(90deg,#b1f379 0,#a7f283 27.5px,#acf37e 47.5px,#e1ef51 85.5px,#edeb48 86.5px,#f3c03a 87.5px,#e44823 88.5px,#9d1e14 89.5px,#961d13 91.5px,#9e1e14 93.5px,#e96028 94.5px,#f08b2f 109.5px,#f3c03a 114.5px,#f0e946 120.5px,#e1ee50 128.5px,#cdf55f 129.5px,#b9f471 156.5px,#b6f474 178px)"></i><i style="top:77px;background:linear-gradient(90deg,#b2f378 0,#aef37c 46.5px,#e1ef51 85.5px,#eceb49 86.5px,#f3c23b 87.5px,#e54a23 88.5px,#9e1e14 89.5px,#961d13 91.5px,#9e1e14 93.5px,#e95d27 94.5px,#eb6929 95.5px,#f18e30 109.5px,#f3bf3a 113.5px,#f0ea46 119.5px,#e0ef51 127.5px,#cff45d 128.5px,#baf470 156.5px,#b7f473 178px)"></i><i style="top:78px;background:linear-gradient(90deg,#aff37b 0,#a5f285 27.5px,#a9f281 48.5px,#b8f472 62.5px,#e1ef51 85.5px,#eceb49 86.5px,#f3c43b 87.5px,#e64c24 88.5px,#9e1e14 89.5px,#961d13 91.5px,#9e1e14 93.5px,#e85a27 94.5px,#eb6929 95.5px,#f18e30 109.5px,#f3bf3a 113.5px,#f0e946 119.5px,#e0ef51 127.5px,#cdf55f 128.5px,#b9f471 156.5px,#b6f474 178px)"></i><i style="top:79px;background:linear-gradient(90deg,#b2f378 0,#aff37b 46.5px,#e0ef51 85.5px,#eceb49 86.5px,#f3c53c 87.5px,#e64e24 88.5px,#9e1e14 89.5px,#961d13 91.5px,#9e1e14 93.5px,#e85726 94.5px,#eb6829 95.5px,#f18c30 111.5px,#f3bf3a 116.5px,#f0ea46 123.5px,#e0ef51 132.5px,#ccf560 133.5px,#baf470 157.5px,#b8f472 178px)"></i><i style="top:80px;background:linear-gradient(90deg,#b2f378 0,#b0f37a 46.5px,#e1ee50 85.5px,#ebeb49 86.5px,#f2c73c 87.5px,#e75125 88.5px,#9e1e14 89.5px,#961d13 91.5px,#9e1e14 93.5px,#e75526 94.5px,#eb6829 95.5px,#f08b2f 109.5px,#f3c03a 114.5px,#f0e946 120.5px,#e1ee50 128.5px,#cff45d 129.5px,#bbf56f 156.5px,#b8f472 178px)"></i><i style="top:81px;background:linear-gradient(90deg,#b5f475 0,#b7f473 47.5px,#ebeb49 86.5px,#f2c93c 87.5px,#e75325 88.5px,#9e1e14 89.5px,#961d13 91.5px,#9e1e14 93.5px,#e75225 94.5px,#eb6829 95.5px,#f18c30 110.5px,#f3c13a 115.5px,#f0e946 121.5px,#e0ef51 130.5px,#d0f45d 131.5px,#bcf56e 157.5px,#baf470 178px)"></i><i style="top:82px;background:linear-gradient(90deg,#b4f476 0,#b7f473 48.5px,#ebec4a 86.5px,#f2ca3d 87.5px,#e85526 88.5px,#9e1e14 89.5px,#961d13 91.5px,#9e1e14 93.5px,#e75025 94.5px,#eb6829 95.5px,#f18d30 111.5px,#f3c23b 116.5px,#f0e846 122.5px,#e1ef51 131.5px,#cef45d 132.5px,#bcf56e 157.5px,#baf470 178px)"></i><i style="top:83px;background:linear-gradient(90deg,#b6f474 0,#bbf56f 47.5px,#ebec4a 86.5px,#f2cb3d 87.5px,#e85726 88.5px,#9e1e14 89.5px,#961d13 91.5px,#9e1e14 93.5px,#e64e24 94.5px,#eb6829 95.5px,#f18d30 109.5px,#f3be3a 113.5px,#f0e946 119.5px,#e0ef51 127.5px,#d3f35a 128.5px,#bef56c 156.5px,#bcf56e 178px)"></i><i style="top:84px;background:linear-gradient(90deg,#b8f472 0,#bff56b 46.5px,#edeb48 86.5px,#f2cc3e 87.5px,#e85926 88.5px,#9e1e14 89.5px,#961d13 91.5px,#9e1e14 93.5px,#e64c24 94.5px,#eb6a29 95.5px,#f08a2f 106.5px,#f3c73c 111.5px,#f1e244 114.5px,#efea47 116.5px,#d9f156 123.5px,#cef45e 136.5px,#bef56c 158.5px,#bdf56d 178px)"></i><i style="top:85px;background:linear-gradient(90deg,#b4f476 0,#b8f472 49.5px,#eaec4a 86.5px,#f2cd3e 87.5px,#e85a27 88.5px,#9e1e14 89.5px,#961d13 91.5px,#9e1e14 93.5px,#e64c24 94.5px,#eb6c2a 95.5px,#f18d30 104.5px,#f2ca3d 108.5px,#f1e143 110.5px,#efea47 112.5px,#daf155 118.5px,#d1f35c 129.5px,#bdf56d 157.5px,#bbf46f 178px)"></i><i style="top:86px;background:linear-gradient(90deg,#aef37c 0,#aaf380 49.5px,#dfef52 85.5px,#eaec4a 86.5px,#f2ce3e 87.5px,#e85b27 88.5px,#9e1e14 89.5px,#961d13 91.5px,#9e1e14 93.5px,#e54b24 94.5px,#eb6c2a 95.5px,#f18c30 104.5px,#f2c83c 108.5px,#efea47 112.5px,#e2ee50 117.5px,#d4f259 118.5px,#bbf46f 155.5px,#b7f473 178px)"></i><i style="top:87px;background:linear-gradient(90deg,#aef37c 0,#abf37f 49.5px,#dfef52 85.5px,#eaec4a 86.5px,#f2ce3e 87.5px,#e95b27 88.5px,#9e1e14 89.5px,#961d13 91.5px,#9e1e14 93.5px,#e54b24 94.5px,#eb6c2a 95.5px,#f18b30 103.5px,#f3bd39 106.5px,#f1e244 109.5px,#eeeb47 111.5px,#e3ee4f 115.5px,#d6f258 116.5px,#bcf56e 154.5px,#b7f473 178px)"></i><i style="top:88px;background:linear-gradient(90deg,#b6f474 0,#bdf56d 49.5px,#ebec4a 86.5px,#f2ce3e 87.5px,#e95b27 88.5px,#9e1e14 89.5px,#961d13 91.5px,#9e1e14 93.5px,#e54b24 94.5px,#eb6a2a 95.5px,#f18f30 106.5px,#f3bd39 109.5px,#f0e946 114.5px,#d9f156 121.5px,#d2f35b 130.5px,#bef56c 157.5px,#bdf56d 178px)"></i><i style="top:89px;background:linear-gradient(90deg,#b3f477 0,#b6f474 49.5px,#eaec4a 86.5px,#f2ce3e 87.5px,#e85b27 88.5px,#9e1e14 89.5px,#961d13 91.5px,#9e1e14 93.5px,#e54b24 94.5px,#eb6a29 95.5px,#f08a2f 106.5px,#f1da41 113.5px,#efea47 116.5px,#e1ee50 122.5px,#d5f259 123.5px,#bef56c 155.5px,#bbf46f 178px)"></i><i style="top:90px;background:linear-gradient(90deg,#b0f37a 0,#aff37b 49.5px,#dfef52 85.5px,#eaec4a 86.5px,#f2cd3e 87.5px,#e85a27 88.5px,#9e1e14 89.5px,#961d13 91.5px,#9e1e14 93.5px,#e64b24 94.5px,#eb6a29 95.5px,#f18c30 106.5px,#f3c13a 110.5px,#f0ea46 115.5px,#e2ee50 121.5px,#d3f35b 122.5px,#bdf56d 155.5px,#b9f471 178px)"></i><i style="top:91px;background:linear-gradient(90deg,#b1f379 0,#b3f477 49.5px,#e2ee50 85.5px,#eaec4a 86.5px,#f2cd3e 87.5px,#e85926 88.5px,#9e1e14 89.5px,#961d13 91.5px,#9e1e14 93.5px,#e64c24 94.5px,#eb6a29 95.5px,#f18d30 106.5px,#f3c33b 110.5px,#f1e143 113.5px,#efea46 115.5px,#e1ee50 121.5px,#d4f25a 122.5px,#bdf56d 155.5px,#baf470 178px)"></i><i style="top:92px;background:linear-gradient(90deg,#b2f378 0,#b6f474 49.5px,#ebec4a 86.5px,#f2cc3d 87.5px,#e85826 88.5px,#9e1e14 89.5px,#961d13 91.5px,#9e1e14 93.5px,#e64d24 94.5px,#eb6c2a 95.5px,#f18d30 104.5px,#f3bf3a 107.5px,#f1e244 110.5px,#eeea47 112.5px,#d5f259 121.5px,#bef56c 155.5px,#bbf56f 178px)"></i><i style="top:93px;background:linear-gradient(90deg,#b4f476 0,#bbf46f 49.5px,#ebec4a 86.5px,#f2cb3d 87.5px,#e85726 88.5px,#9e1e14 89.5px,#961d13 91.5px,#9e1e14 93.5px,#e64e24 94.5px,#eb6c2a 95.5px,#f18d30 104.5px,#f3c03a 107.5px,#f1e244 110.5px,#eeeb47 112.5px,#d9f156 118.5px,#d1f35b 128.5px,#bff56b 156.5px,#bdf56d 178px)"></i><i style="top:94px;background:linear-gradient(90deg,#b2f478 0,#b7f473 49.5px,#ebec4a 86.5px,#f2ca3d 87.5px,#e85526 88.5px,#9e1e14 89.5px,#961d13 91.5px,#9e1e14 93.5px,#e75025 94.5px,#ec6d2a 95.5px,#f18f30 103.5px,#f3c53c 106.5px,#f1df43 108.5px,#efea47 110.5px,#daf155 115.5px,#d3f35a 124.5px,#bff56b 155.5px,#bcf56e 178px)"></i><i style="top:95px;background:linear-gradient(90deg,#b0f37a 0,#b3f477 49.5px,#e1ef51 85.5px,#ebeb49 86.5px,#f2c93d 87.5px,#e75425 88.5px,#9e1e14 89.5px,#961d13 91.5px,#9e1e14 93.5px,#e75125 94.5px,#eb6c2a 95.5px,#f08a2f 103.5px,#f3c63c 107.5px,#efea47 111.5px,#e1ef51 116.5px,#d6f258 117.5px,#bef56c 154.5px,#bbf46f 178px)"></i><i style="top:96px;background:linear-gradient(90deg,#aff37b 0,#b0f37a 49.5px,#e0ef51 85.5px,#ebeb49 86.5px,#f2c83c 87.5px,#e75225 88.5px,#9e1e14 89.5px,#961d13 91.5px,#9e1e14 93.5px,#e75325 94.5px,#ec6e2a 95.5px,#f18b30 102.5px,#f3c13a 105.5px,#efea47 109.5px,#e3ee4f 113.5px,#d7f258 114.5px,#bef56c 153.5px,#baf470 178px)"></i><i style="top:97px;background:linear-gradient(90deg,#b0f37a 0,#b3f477 49.5px,#e0ef51 85.5px,#eceb49 86.5px,#f3c73c 87.5px,#e75025 88.5px,#9e1e14 89.5px,#961d13 91.5px,#9e1e14 93.5px,#e85526 94.5px,#eb6d2a 95.5px,#f18d30 103.5px,#f3c23a 106.5px,#f0ea46 110.5px,#d5f259 117.5px,#bff56b 153.5px,#bbf56f 178px)"></i><i style="top:98px;background:linear-gradient(90deg,#aff37b 0,#aff37b 49.5px,#e0ef51 85.5px,#eceb49 86.5px,#f3c63c 87.5px,#e64e24 88.5px,#9e1e14 89.5px,#961d13 91.5px,#9e1e14 93.5px,#e85726 94.5px,#ec6f2a 95.5px,#f18c30 101.5px,#f3c63c 104.5px,#f0ea46 107.5px,#e2ee50 111.5px,#d7f157 112.5px,#d5f259 114.5px,#bef56c 152.5px,#baf470 178px)"></i><i style="top:99px;background:linear-gradient(90deg,#b3f477 0,#bbf46f 49.5px,#eceb49 86.5px,#f3c43b 87.5px,#e64c24 88.5px,#9e1e14 89.5px,#961d13 91.5px,#9e1e14 93.5px,#e85926 94.5px,#ec702b 95.5px,#f0892f 100.5px,#f3c43b 103.5px,#f0ea46 106.5px,#ddf053 111.5px,#d1f35c 126.5px,#bff56b 155.5px,#bef56c 178px)"></i><i style="top:100px;background:linear-gradient(90deg,#b4f476 0,#bef56c 49.5px,#eceb49 86.5px,#f3c33b 87.5px,#e54b24 88.5px,#9e1e14 89.5px,#961d13 91.5px,#9e1e14 93.5px,#e85b27 94.5px,#ec702b 95.5px,#f0892f 100.5px,#f19632 101.5px,#f3c23b 103.5px,#f0e946 106.5px,#def053 111.5px,#d0f45d 128.5px,#bff56b 156.5px,#bef56c 178px)"></i><i style="top:101px;background:linear-gradient(90deg,#abf37f 0,#a6f284 49.5px,#d4f259 84.5px,#eceb49 86.5px,#f3c23b 87.5px,#e54a23 88.5px,#9e1e14 89.5px,#961d13 91.5px,#9e1e14 93.5px,#e95c27 94.5px,#ed732b 95.5px,#f18d30 99.5px,#f3c23b 101.5px,#f0e544 103.5px,#eeeb47 104.5px,#e1ef51 107.5px,#d3f35a 108.5px,#bcf56e 149.5px,#b8f472 178px)"></i><i style="top:102px;background:linear-gradient(90deg,#a8f282 0,#9ef18c 49.5px,#cff45d 84.5px,#edeb48 86.5px,#f3c13a 87.5px,#e44923 88.5px,#9d1e14 89.5px,#961d13 91.5px,#9e1e14 93.5px,#e95e27 94.5px,#ed752b 95.5px,#f0892f 98.5px,#f2d03f 101.5px,#efea47 103.5px,#e1ef51 106.5px,#cff45d 107.5px,#b5f475 178px)"></i><i style="top:103px;background:linear-gradient(90deg,#b2f478 0,#b9f471 49.5px,#e3ee4f 85.5px,#edeb48 86.5px,#f3c13a 87.5px,#e44923 88.5px,#9d1e14 89.5px,#961d13 91.5px,#9e1e14 93.5px,#e95f27 94.5px,#ed752b 95.5px,#f0892f 98.5px,#f2ce3e 101.5px,#efea47 103.5px,#ddf053 107.5px,#cef45e 125.5px,#bef56c 154.5px,#bdf56d 178px)"></i><i style="top:104px;background:linear-gradient(90deg,#c2f568 0,#cff45d 49.5px,#efea47 78.5px,#f1df43 86.5px,#f3c03a 87.5px,#e44823 88.5px,#9d1e14 89.5px,#961d13 91.5px,#9e1e14 93.5px,#e96028 94.5px,#ee7b2d 95.5px,#f29b33 97.5px,#f1da42 99.5px,#f0e545 100.5px,#cef45e 144.5px,#caf560 178px)"></i><i style="top:105px;background:linear-gradient(90deg,#aff37b 0,#b0f37a 49.5px,#e1ee50 85.5px,#edeb48 86.5px,#f3bf3a 87.5px,#e34723 88.5px,#9d1e14 89.5px,#961d13 91.5px,#9f1f14 93.5px,#ea6128 94.5px,#ee7c2d 95.5px,#f0872f 96.5px,#f1df43 99.5px,#eeeb47 100.5px,#daf155 103.5px,#cdf55f 120.5px,#bcf56e 151.5px,#baf470 178px)"></i><i style="top:106px;background:linear-gradient(90deg,#acf37e 0,#aaf380 49.5px,#d5f259 84.5px,#edeb48 86.5px,#f3bf3a 87.5px,#e34723 88.5px,#9d1e14 89.5px,#961d13 91.5px,#a01f14 93.5px,#ea6228 94.5px,#ee7d2d 95.5px,#f0882f 96.5px,#f1e244 99.5px,#edeb48 100.5px,#d5f259 103.5px,#cdf55f 115.5px,#bbf46f 149.5px,#b8f472 178px)"></i><i style="top:107px;background:linear-gradient(90deg,#b0f37a 0,#b3f477 49.5px,#e1ee50 85.5px,#edeb48 86.5px,#f3be3a 87.5px,#e34723 88.5px,#9d1e14 89.5px,#961d13 91.5px,#a01f14 93.5px,#ea6228 94.5px,#f19a32 96.5px,#f3c53c 97.5px,#f1e344 98.5px,#eceb49 99.5px,#dbf054 101.5px,#c5f665 132.5px,#baf470 178px)"></i><i style="top:108px;background:linear-gradient(90deg,#aef37c 0,#aef37c 49.5px,#d7f157 84.5px,#edeb48 86.5px,#f3be3a 87.5px,#e34622 88.5px,#9d1e14 89.5px,#961d13 91.5px,#a11f14 93.5px,#ea6228 94.5px,#f2ac36 95.5px,#f1db42 96.5px,#eceb49 97.5px,#d9f156 99.5px,#bcf56e 143.5px,#b9f471 178px)"></i><i style="top:109px;background:linear-gradient(90deg,#aef37c 0,#aef37c 49.5px,#d7f258 84.5px,#edeb48 86.5px,#f3be3a 87.5px,#e24622 88.5px,#9d1e14 89.5px,#961d13 91.5px,#a11f14 93.5px,#ea6328 94.5px,#f2d33f 95.5px,#e9ec4b 96.5px,#dfef52 97.5px,#bef56c 137.5px,#b8f472 178px)"></i><i style="top:110px;background:linear-gradient(90deg,#b0f37a 0,#b3f477 49.5px,#d9f156 84.5px,#e1ee50 85.5px,#edeb48 86.5px,#f3bd39 87.5px,#e24622 88.5px,#9d1e14 89.5px,#961d13 91.5px,#a11f14 93.5px,#ea6328 94.5px,#f2d33f 95.5px,#e9ec4b 96.5px,#dfef52 97.5px,#bef56c 139.5px,#b9f471 178px)"></i><i style="top:111px;background:linear-gradient(90deg,#b2f378 0,#b8f472 49.5px,#e1ee50 85.5px,#edeb48 86.5px,#f3bd39 87.5px,#e24622 88.5px,#9d1e14 89.5px,#961d13 91.5px,#a21f14 93.5px,#ea6428 94.5px,#f2d340 95.5px,#e9ec4b 96.5px,#dfef52 97.5px,#bdf56d 142.5px,#baf470 178px)"></i><i style="top:112px;background:linear-gradient(90deg,#b1f379 0,#b5f475 49.5px,#e1ee50 85.5px,#edeb48 86.5px,#f3bc39 87.5px,#e24522 88.5px,#9d1e14 89.5px,#961d13 91.5px,#a31f15 93.5px,#ea6528 94.5px,#f2d440 95.5px,#e9ec4b 96.5px,#dfef52 97.5px,#bdf56d 139.5px,#b9f471 178px)"></i><i style="top:113px;background:linear-gradient(90deg,#b2f378 0,#b7f473 49.5px,#e1ee50 85.5px,#eeeb48 86.5px,#f3bc39 87.5px,#e14422 88.5px,#9d1e14 89.5px,#961d13 91.5px,#a41f15 93.5px,#ea6629 94.5px,#f2d540 95.5px,#e9ec4b 96.5px,#dfef52 97.5px,#bcf56e 139.5px,#baf470 178px)"></i><i style="top:114px;background:linear-gradient(90deg,#b1f379 0,#b4f476 49.5px,#d8f157 84.5px,#eeeb48 86.5px,#f3bb39 87.5px,#e14422 88.5px,#9d1e14 89.5px,#961d13 91.5px,#a52015 93.5px,#ea6729 94.5px,#f1d540 95.5px,#e9ec4b 96.5px,#deef52 97.5px,#bcf56e 136.5px,#b8f472 178px)"></i><i style="top:115px;background:linear-gradient(90deg,#b0f37a 0,#aff37b 49.5px,#d4f25a 84.5px,#eeeb48 86.5px,#f3ba39 87.5px,#e14322 88.5px,#9d1e14 89.5px,#971d13 91.5px,#a62015 93.5px,#eb6829 94.5px,#f1d640 95.5px,#e9ec4b 96.5px,#d5f259 98.5px,#b9f471 138.5px,#b7f473 178px)"></i><i style="top:116px;background:linear-gradient(90deg,#b0f37a 0,#b0f37a 48.5px,#d4f259 84.5px,#eeeb47 86.5px,#f3b838 87.5px,#e04221 88.5px,#9d1e14 89.5px,#971d13 91.5px,#a82015 93.5px,#eb6a29 94.5px,#f1d741 95.5px,#e8ec4b 96.5px,#d5f259 98.5px,#b9f471 138.5px,#b7f473 178px)"></i><i style="top:117px;background:linear-gradient(90deg,#b1f379 0,#b0f37a 48.5px,#d3f35a 84.5px,#eeeb47 86.5px,#f3b738 87.5px,#df4121 88.5px,#9d1e14 89.5px,#971d13 91.5px,#aa2115 93.5px,#eb6c2a 94.5px,#f1d941 95.5px,#e8ec4c 96.5px,#d4f25a 98.5px,#b9f471 137.5px,#b7f473 178px)"></i><i style="top:118px;background:linear-gradient(90deg,#b3f477 0,#b3f477 47.5px,#d5f259 84.5px,#efea47 86.5px,#f3b538 87.5px,#de3f20 88.5px,#9d1e14 89.5px,#971d13 91.5px,#9b1e14 92.5px,#ac2116 93.5px,#ec6f2a 94.5px,#f1da41 95.5px,#e8ec4c 96.5px,#deef53 97.5px,#d6f258 98.5px,#bbf56f 133.5px,#b8f472 178px)"></i><i style="top:119px;background:linear-gradient(90deg,#b1f379 0,#aef37c 48.5px,#d1f35c 84.5px,#efea47 86.5px,#f2b237 87.5px,#dd3d20 88.5px,#9d1e14 89.5px,#971d13 91.5px,#9b1e14 92.5px,#af2216 93.5px,#ec722b 94.5px,#f1da42 95.5px,#e8ed4c 96.5px,#d2f35b 98.5px,#b8f472 136.5px,#b7f473 178px)"></i><i style="top:120px;background:linear-gradient(90deg,#b4f476 0,#b4f476 47.5px,#d5f259 84.5px,#efea46 86.5px,#f2b037 87.5px,#dc3b1f 88.5px,#9d1e14 89.5px,#971d13 91.5px,#9b1e14 92.5px,#b22216 93.5px,#ed752b 94.5px,#f1db42 95.5px,#e7ed4c 96.5px,#d5f259 98.5px,#baf470 137.5px,#b9f471 178px)"></i><i style="top:121px;background:linear-gradient(90deg,#bcf56e 0,#c2f568 42.5px,#e3ee4f 85.5px,#f0ea46 86.5px,#f2ad36 87.5px,#da391f 88.5px,#9d1e14 89.5px,#971d13 91.5px,#9b1e14 92.5px,#b62317 93.5px,#ed792c 94.5px,#f1dc42 95.5px,#e7ed4c 96.5px,#e0ef51 97.5px,#c0f56a 136.5px,#bff56b 178px)"></i><i style="top:122px;background:linear-gradient(90deg,#bcf56e 0,#c2f568 47.5px,#e3ee4f 85.5px,#f0ea46 86.5px,#f2ab36 87.5px,#d9371e 88.5px,#9d1e14 89.5px,#971d13 91.5px,#9b1e14 92.5px,#b92417 93.5px,#ee7c2d 94.5px,#f1dd42 95.5px,#e7ed4c 96.5px,#ddf053 97.5px,#bff56b 138.5px,#bff56b 178px)"></i><i style="top:123px;background:linear-gradient(90deg,#bdf56d 0,#c1f569 48.5px,#e3ee4f 85.5px,#f0e846 86.5px,#f2a735 87.5px,#d8341d 88.5px,#9c1e14 89.5px,#971d13 91.5px,#9b1e14 92.5px,#bd2418 93.5px,#ef802d 94.5px,#f1de43 95.5px,#ddf054 97.5px,#bff56b 138.5px,#c0f56a 178px)"></i><i style="top:124px;background:linear-gradient(90deg,#bff56b 0,#c4f666 47.5px,#e4ee4f 85.5px,#f0e745 86.5px,#f2a434 87.5px,#d6321d 88.5px,#9c1e14 89.5px,#971d13 91.5px,#9b1e14 92.5px,#c12518 93.5px,#ef852e 94.5px,#f1df43 95.5px,#e6ed4d 96.5px,#deef52 97.5px,#c3f567 134.5px,#c2f568 178px)"></i><i style="top:125px;background:linear-gradient(90deg,#bff56b 0,#c0f56a 44.5px,#dcf054 84.5px,#f0e645 86.5px,#f2a134 87.5px,#d42f1c 88.5px,#9c1e14 89.5px,#981d13 91.5px,#9b1e14 92.5px,#c52619 93.5px,#f0892f 94.5px,#f1e043 95.5px,#dcf054 97.5px,#c2f568 136.5px,#c2f568 178px)"></i><i style="top:126px;background:linear-gradient(90deg,#c1f569 0,#c4f666 49.5px,#ddf053 84.5px,#e4ed4e 85.5px,#f0e545 86.5px,#f29d33 87.5px,#d32c1b 88.5px,#9c1e14 89.5px,#981d13 91.5px,#9c1e14 92.5px,#c92719 93.5px,#f18d30 94.5px,#f1e144 95.5px,#ddf053 97.5px,#c4f666 136.5px,#c4f666 178px)"></i><i style="top:127px;background:linear-gradient(90deg,#cff45d 0,#d4f25a 49.5px,#eceb49 85.5px,#f0e444 86.5px,#f19a32 87.5px,#d1291a 88.5px,#9c1e14 89.5px,#981d13 91.5px,#9c1e14 92.5px,#ce281a 93.5px,#f19431 94.5px,#f1e344 95.5px,#ebeb49 96.5px,#d2f35b 132.5px,#d1f35c 178px)"></i><i style="top:128px;background:linear-gradient(90deg,#c6f664 0,#c9f661 50.5px,#e5ed4e 85.5px,#f1e344 86.5px,#f19431 87.5px,#cd281a 88.5px,#9c1e14 89.5px,#981d13 90.5px,#9c1e14 92.5px,#d12a1a 93.5px,#f19a32 94.5px,#f0e444 95.5px,#e5ed4e 96.5px,#caf561 129.5px,#c8f662 178px)"></i><i style="top:129px;background:linear-gradient(90deg,#c5f665 0,#c4f666 46.5px,#dcf054 84.5px,#f1e244 86.5px,#f18e30 87.5px,#c92719 88.5px,#9c1e14 89.5px,#981d13 90.5px,#9c1e14 92.5px,#d32c1b 93.5px,#f29d33 94.5px,#f0e545 95.5px,#e4ed4e 96.5px,#ddf054 97.5px,#caf560 126.5px,#c8f662 178px)"></i><i style="top:130px;background:linear-gradient(90deg,#c9f661 0,#cdf55f 50.5px,#e6ed4d 85.5px,#f1e043 86.5px,#f0892f 87.5px,#c52619 88.5px,#9b1e14 89.5px,#981d13 90.5px,#9c1e14 92.5px,#d42f1c 93.5px,#f2a134 94.5px,#f0e645 95.5px,#e4ee4e 96.5px,#ccf55f 130.5px,#cbf560 178px)"></i><i style="top:131px;background:linear-gradient(90deg,#c8f662 0,#c7f663 46.5px,#ddf053 84.5px,#f1df43 86.5px,#ef852e 87.5px,#c12518 88.5px,#9b1e14 89.5px,#971d13 90.5px,#9c1e14 92.5px,#d6321d 93.5px,#f2a434 94.5px,#f0e745 95.5px,#e4ee4f 96.5px,#ccf55f 126.5px,#caf561 178px)"></i><i style="top:132px;background:linear-gradient(90deg,#c6f664 0,#c1f569 49.5px,#ddf054 84.5px,#f1de43 86.5px,#ef802e 87.5px,#bd2418 88.5px,#9b1e14 89.5px,#971d13 90.5px,#9c1e14 92.5px,#d7341d 93.5px,#f2a735 94.5px,#f0e846 95.5px,#daf156 97.5px,#caf561 127.5px,#c9f661 178px)"></i><i style="top:133px;background:linear-gradient(90deg,#c7f663 0,#c3f567 49.5px,#ddf053 84.5px,#e7ed4c 85.5px,#f1dd42 86.5px,#ee7d2d 87.5px,#b92417 88.5px,#9b1e14 89.5px,#971d13 90.5px,#9d1e14 92.5px,#d9361e 93.5px,#f2aa36 94.5px,#f0e946 95.5px,#daf055 97.5px,#cbf560 127.5px,#caf661 178px)"></i><i style="top:134px;background:linear-gradient(90deg,#cbf560 0,#cdf45e 54.5px,#e0ef51 84.5px,#e7ed4c 85.5px,#f1dc42 86.5px,#ed792c 87.5px,#b62317 88.5px,#9b1e14 89.5px,#971d13 90.5px,#9d1e14 92.5px,#da391f 93.5px,#f2ad36 94.5px,#f0ea46 95.5px,#e3ee4f 96.5px,#cef45e 127.5px,#ccf55f 178px)"></i><i style="top:135px;background:linear-gradient(90deg,#cef45e 0,#d4f25a 51.5px,#e7ed4c 85.5px,#f1db42 86.5px,#ed752b 87.5px,#b22216 88.5px,#9b1e14 89.5px,#971d13 90.5px,#9d1e14 92.5px,#dc3b1f 93.5px,#f2b037 94.5px,#efea46 95.5px,#e7ed4d 96.5px,#d0f45c 130.5px,#cef45e 178px)"></i><i style="top:136px;background:linear-gradient(90deg,#c9f661 0,#c9f661 52.5px,#def053 84.5px,#e8ed4c 85.5px,#f1da42 86.5px,#ec722b 87.5px,#af2216 88.5px,#9b1e14 89.5px,#971d13 90.5px,#9d1e14 92.5px,#dd3d20 93.5px,#f2b337 94.5px,#efea47 95.5px,#e2ee50 96.5px,#cdf55f 125.5px,#cbf560 178px)"></i><i style="top:137px;background:linear-gradient(90deg,#c8f662 0,#c5f665 51.5px,#deef53 84.5px,#e8ec4c 85.5px,#f1da41 86.5px,#ec6f2a 87.5px,#ac2116 88.5px,#9b1e14 89.5px,#971d13 90.5px,#9d1e14 92.5px,#de3f20 93.5px,#f3b538 94.5px,#efea47 95.5px,#daf156 97.5px,#cbf560 127.5px,#caf661 178px)"></i><i style="top:138px;background:linear-gradient(90deg,#c4f566 0,#bbf56f 50.5px,#d1f35c 83.5px,#e8ec4c 85.5px,#f1d941 86.5px,#eb6c2a 87.5px,#aa2115 88.5px,#971d13 90.5px,#9d1e14 92.5px,#df4021 93.5px,#f3b738 94.5px,#eeeb47 95.5px,#d3f35a 97.5px,#c7f663 126.5px,#c7f663 178px)"></i><i style="top:139px;background:linear-gradient(90deg,#c8f662 0,#c8f662 54.5px,#deef52 84.5px,#e8ec4b 85.5px,#f1d741 86.5px,#eb6a29 87.5px,#a82015 88.5px,#971d13 90.5px,#9d1e14 92.5px,#e04221 93.5px,#f3b838 94.5px,#eeeb47 95.5px,#e2ee50 96.5px,#daf155 97.5px,#ccf560 123.5px,#c9f661 178px)"></i><i style="top:140px;background:linear-gradient(90deg,#caf560 0,#cff45d 53.5px,#e0ef51 84.5px,#e9ec4b 85.5px,#f1d640 86.5px,#eb6829 87.5px,#a62015 88.5px,#971d13 90.5px,#9d1e14 92.5px,#e14322 93.5px,#f3ba39 94.5px,#eeeb48 95.5px,#e2ee50 96.5px,#cdf55f 127.5px,#cbf560 178px)"></i><i style="top:141px;background:linear-gradient(90deg,#d3f35a 0,#d4f259 54.5px,#e9ec4b 85.5px,#f1d540 86.5px,#ea6729 87.5px,#a52015 88.5px,#961d13 90.5px,#9d1e14 92.5px,#e14422 93.5px,#f3bb39 94.5px,#eeeb48 95.5px,#e5ed4d 96.5px,#d5f259 127.5px,#d4f25a 178px)"></i><i style="top:142px;background:linear-gradient(90deg,#cdf45e 0,#ccf55f 53.5px,#dfef52 84.5px,#e9ec4b 85.5px,#f2d440 86.5px,#ea6529 87.5px,#a41f15 88.5px,#961d13 90.5px,#9d1e14 92.5px,#e14522 93.5px,#f3bc39 94.5px,#edeb48 95.5px,#e1ee50 96.5px,#cff45d 125.5px,#cef45e 178px)"></i><i style="top:143px;background:linear-gradient(90deg,#c7f663 0,#c9f661 56.5px,#d8f157 83.5px,#dfef52 84.5px,#e9ec4b 85.5px,#f2d440 86.5px,#ea6428 87.5px,#a21f15 88.5px,#961d13 90.5px,#9d1e14 92.5px,#e24522 93.5px,#f3bd39 94.5px,#edeb48 95.5px,#d8f157 97.5px,#c7f663 131.5px,#c7f663 178px)"></i><i style="top:144px;background:linear-gradient(90deg,#c8f662 0,#ccf55f 54.5px,#dfef52 84.5px,#e9ec4b 85.5px,#f2d33f 86.5px,#ea6328 87.5px,#a11f14 88.5px,#961d13 90.5px,#9d1e14 92.5px,#e24622 93.5px,#f3bd39 94.5px,#edeb48 95.5px,#e1ee50 96.5px,#daf055 97.5px,#c9f661 126.5px,#c8f662 178px)"></i><i style="top:145px;background:linear-gradient(90deg,#c9f661 0,#cef45e 53.5px,#dfef52 84.5px,#e9ec4b 85.5px,#f2d33f 86.5px,#ea6328 87.5px,#a11f14 88.5px,#961d13 90.5px,#9d1e14 92.5px,#e24622 93.5px,#f3bd39 94.5px,#edeb48 95.5px,#e1ee50 96.5px,#c7f663 131.5px,#c8f662 178px)"></i><i style="top:146px;background:linear-gradient(90deg,#caf561 0,#d0f45d 51.5px,#dfef52 84.5px,#e9ec4b 85.5px,#f2d33f 86.5px,#ea6328 87.5px,#a11f14 88.5px,#961d13 90.5px,#9d1e14 92.5px,#e24622 93.5px,#f3bd39 94.5px,#edeb48 95.5px,#e1ee50 96.5px,#c6f664 133.5px,#c8f662 178px)"></i><i style="top:147px;background:linear-gradient(90deg,#c5f665 0,#c2f568 48.5px,#d4f35a 83.5px,#e9ec4b 85.5px,#f2d33f 86.5px,#ea6328 87.5px,#a11f14 88.5px,#961d13 90.5px,#9d1e14 92.5px,#e24622 93.5px,#f3be3a 94.5px,#edeb48 95.5px,#d3f35a 97.5px,#bff56b 132.5px,#c4f666 178px)"></i><i style="top:148px;background:linear-gradient(90deg,#c0f56a 0,#b5f475 49.5px,#caf560 83.5px,#e9ec4b 85.5px,#f2d33f 86.5px,#ea6328 87.5px,#a11f14 88.5px,#961d13 90.5px,#9d1e14 92.5px,#e24622 93.5px,#f3be3a 94.5px,#edeb48 95.5px,#cbf560 97.5px,#b9f471 130.5px,#c0f56a 178px)"></i><i style="top:149px;background:linear-gradient(90deg,#c0f56a 0,#b2f378 48.5px,#c9f661 83.5px,#e9ec4b 85.5px,#f2d340 86.5px,#ea6428 87.5px,#a21f14 88.5px,#961d13 90.5px,#9d1e14 92.5px,#e24522 93.5px,#f3bd39 94.5px,#edeb48 95.5px,#caf561 97.5px,#b6f474 131.5px,#bff56b 178px)"></i><i style="top:150px;background:linear-gradient(90deg,#c0f56a 0,#b0f37a 48.5px,#c8f662 83.5px,#e9ec4b 85.5px,#f2d440 86.5px,#ea6528 87.5px,#a31f15 88.5px,#961d13 90.5px,#9d1e14 92.5px,#e24522 93.5px,#f3bc39 94.5px,#edeb48 95.5px,#e1ee50 96.5px,#c9f661 97.5px,#b2f378 132.5px,#bff56b 178px)"></i><i style="top:151px;background:linear-gradient(90deg,#c0f56a 0,#acf37e 47.5px,#c6f664 83.5px,#dfef52 84.5px,#e9ec4b 85.5px,#f2d540 86.5px,#ea6629 87.5px,#a41f15 88.5px,#961d13 90.5px,#9d1e14 92.5px,#e14422 93.5px,#f3bb39 94.5px,#eeeb48 95.5px,#e1ee50 96.5px,#c7f663 97.5px,#aef37c 133.5px,#bef56c 178px)"></i><i style="top:152px;background:linear-gradient(90deg,#bff56b 0,#a7f283 47.5px,#c3f567 83.5px,#deef52 84.5px,#e9ec4b 85.5px,#f1d540 86.5px,#eb6729 87.5px,#a52015 88.5px,#971d13 90.5px,#9d1e14 92.5px,#e14422 93.5px,#f3ba39 94.5px,#eeeb48 95.5px,#e2ee50 96.5px,#c3f567 97.5px,#a9f281 133.5px,#bcf56e 178px)"></i><i style="top:153px;background:linear-gradient(90deg,#bdf56d 0,#9df18d 47.5px,#bbf56f 83.5px,#deef52 84.5px,#e9ec4b 85.5px,#f1d640 86.5px,#eb6929 87.5px,#a62015 88.5px,#971d13 90.5px,#9d1e14 92.5px,#e04321 93.5px,#f3b939 94.5px,#eeeb47 95.5px,#e2ee50 96.5px,#bcf56e 97.5px,#a2f288 134.5px,#baf470 178px)"></i><i style="top:154px;background:linear-gradient(90deg,#b9f471 0,#90ef9b 47.5px,#95f095 59.5px,#b1f379 83.5px,#deef52 84.5px,#e8ec4b 85.5px,#f1d741 86.5px,#eb6a29 87.5px,#a82015 88.5px,#971d13 90.5px,#9d1e14 92.5px,#e04221 93.5px,#f3b838 94.5px,#eeeb47 95.5px,#e2ee50 96.5px,#b3f477 97.5px,#99f191 133.5px,#b6f474 178px)"></i><i style="top:155px;background:linear-gradient(90deg,#bcf56e 0,#94f096 46.5px,#99f191 58.5px,#b7f473 83.5px,#deef53 84.5px,#e8ec4b 85.5px,#f1d841 86.5px,#eb6c2a 87.5px,#a92115 88.5px,#971d13 90.5px,#9d1e14 92.5px,#df4121 93.5px,#f3b738 94.5px,#eeeb47 95.5px,#e2ee50 96.5px,#b8f472 97.5px,#97f093 134.5px,#b8f472 178px)"></i><i style="top:156px;background:linear-gradient(90deg,#b9f471 0,#89eda5 46.5px,#8fee9d 59.5px,#aef37c 83.5px,#deef53 84.5px,#e8ec4c 85.5px,#f1d941 86.5px,#ec6d2a 87.5px,#ab2116 88.5px,#9b1e14 89.5px,#971d13 90.5px,#9d1e14 92.5px,#df4021 93.5px,#f3b638 94.5px,#eeea47 95.5px,#e2ee50 96.5px,#b0f37a 97.5px,#90ef9c 134.5px,#b5f475 178px)"></i><i style="top:157px;background:linear-gradient(90deg,#b7f473 0,#81eab0 46.5px,#85ebab 57.5px,#a8f282 83.5px,#deef53 84.5px,#e8ec4c 85.5px,#f1da41 86.5px,#ec6f2a 87.5px,#ac2116 88.5px,#9b1e14 89.5px,#971d13 90.5px,#9d1e14 92.5px,#de3f20 93.5px,#f3b538 94.5px,#efea47 95.5px,#e2ee50 96.5px,#aaf380 97.5px,#8aeda4 134.5px,#b3f477 178px)"></i><i style="top:158px;background:linear-gradient(90deg,#bcf56e 0,#89eda5 46.5px,#90ef9b 59.5px,#b3f477 83.5px,#deef53 84.5px,#e8ec4c 85.5px,#f1da41 86.5px,#ec702b 87.5px,#ae2116 88.5px,#9b1e14 89.5px,#971d13 90.5px,#9d1e14 92.5px,#dd3e20 93.5px,#f3b438 94.5px,#efea47 95.5px,#e2ee50 96.5px,#b3f477 97.5px,#92ef99 121.5px,#8aeda3 135.5px,#92ef98 149.5px,#b6f474 178px)"></i><i style="top:159px;background:linear-gradient(90deg,#bff56b 0,#8deea0 46.5px,#94f096 58.5px,#b9f471 83.5px,#def053 84.5px,#e8ed4c 85.5px,#f1da42 86.5px,#ec722b 87.5px,#af2216 88.5px,#9b1e14 89.5px,#971d13 90.5px,#9d1e14 92.5px,#dd3d20 93.5px,#f2b237 94.5px,#efea47 95.5px,#e2ee50 96.5px,#b8f472 97.5px,#93f098 121.5px,#89eda5 135.5px,#92ef98 150.5px,#b7f473 178px)"></i><i style="top:160px;background:linear-gradient(90deg,#bcf56e 0,#85ebaa 46.5px,#8dee9f 59.5px,#b2f478 83.5px,#def053 84.5px,#e8ed4c 85.5px,#f1db42 86.5px,#ed732b 87.5px,#b12216 88.5px,#9b1e14 89.5px,#971d13 90.5px,#9d1e14 92.5px,#dc3c20 93.5px,#f2b137 94.5px,#efea47 95.5px,#e2ee4f 96.5px,#b2f378 97.5px,#8deea0 122.5px,#85ebaa 135.5px,#8eee9e 149.5px,#b5f475 178px)"></i><i style="top:161px;background:linear-gradient(90deg,#b9f471 0,#86eca8 34.5px,#7de9b5 46.5px,#82eaae 57.5px,#aaf380 83.5px,#ddf053 84.5px,#e7ed4c 85.5px,#f1db42 86.5px,#ed742b 87.5px,#b12216 88.5px,#9b1e14 89.5px,#971d13 90.5px,#9d1e14 92.5px,#dc3c20 93.5px,#f2b137 94.5px,#efea47 95.5px,#e3ee4f 96.5px,#abf37f 97.5px,#86eca9 124.5px,#81eaaf 135.5px,#8beda2 149.5px,#b2f378 178px)"></i><i style="top:162px;background:linear-gradient(90deg,#b9f471 0,#87eca7 34.5px,#7ee9b4 46.5px,#83ebad 57.5px,#acf37e 83.5px,#ddf053 84.5px,#e7ed4c 85.5px,#f1db42 86.5px,#ed742b 87.5px,#b22216 88.5px,#9b1e14 89.5px,#971d13 90.5px,#9d1e14 92.5px,#dc3c1f 93.5px,#f2b037 94.5px,#efea47 95.5px,#e3ee4f 96.5px,#acf37e 97.5px,#89eca5 122.5px,#82eaaf 135.5px,#8beda2 149.5px,#b3f477 178px)"></i><i style="top:163px;background:linear-gradient(90deg,#c2f568 0,#92ef98 46.5px,#99f191 57.5px,#c1f569 83.5px,#ddf053 84.5px,#e7ed4c 85.5px,#f1db42 86.5px,#ed752b 87.5px,#b22216 88.5px,#9b1e14 89.5px,#971d13 90.5px,#9d1e14 92.5px,#dc3b1f 93.5px,#f2b037 94.5px,#efea46 95.5px,#e3ee4f 96.5px,#bff56b 97.5px,#93f097 122.5px,#8aeda4 136.5px,#93f097 151.5px,#b9f471 178px)"></i><i style="top:164px;background:linear-gradient(90deg,#bef56c 0,#8beda2 46.5px,#93f097 59.5px,#b9f471 83.5px,#ddf053 84.5px,#e7ed4c 85.5px,#f1db42 86.5px,#ed752b 87.5px,#b22216 88.5px,#9b1e14 89.5px,#971d13 90.5px,#9d1e14 92.5px,#dc3b1f 93.5px,#f2b037 94.5px,#efea46 95.5px,#e3ee4f 96.5px,#b8f472 97.5px,#92ef99 121.5px,#89eca5 135.5px,#91ef9a 149.5px,#b6f474 178px)"></i></div><div class="hm" style="left:245px;top:8px"><i style="top:0px;background:linear-gradient(90deg,#bdf56d 0,#d1f35b 40.5px,#eeeb47 68.5px,#f2d540 75.5px,#f2cd3e 85.5px,#f2ca3d 86.5px,#f2aa36 87.5px,#e34723 88.5px,#b72317 89.5px,#b12216 90.5px,#b32217 91.5px,#d0291a 92.5px,#eb6b2a 93.5px,#f3b838 94.5px,#f0e946 107.5px,#cbf560 134.5px,#b7f473 178px)"></i><i style="top:1px;background:linear-gradient(90deg,#bcf56e 0,#d2f35b 40.5px,#edeb48 67.5px,#f2d440 75.5px,#f2ce3e 85.5px,#f2ca3d 86.5px,#f2a735 87.5px,#e24522 88.5px,#b72317 89.5px,#b12216 90.5px,#b32217 91.5px,#d12a1a 92.5px,#ec6e2a 93.5px,#f3b939 94.5px,#efea47 107.5px,#d8f157 120.5px,#c3f567 141.5px,#b5f475 178px)"></i><i style="top:2px;background:linear-gradient(90deg,#c2f568 0,#d3f35a 38.5px,#efea46 66.5px,#f2cb3d 75.5px,#f3c43b 85.5px,#f3c03a 86.5px,#f2a334 87.5px,#e04321 88.5px,#b72317 89.5px,#b02216 90.5px,#b42317 91.5px,#d22b1b 92.5px,#ec732b 93.5px,#f2ab36 94.5px,#f3b538 98.5px,#efea47 110.5px,#cdf45e 137.5px,#b9f471 178px)"></i><i style="top:3px;background:linear-gradient(90deg,#bff56b 0,#d3f35a 38.5px,#efea47 66.5px,#f2cd3e 75.5px,#f2c83c 85.5px,#f3c43b 86.5px,#f29f33 87.5px,#df4021 88.5px,#b62317 89.5px,#b02216 90.5px,#b42317 91.5px,#d32d1b 92.5px,#ed772c 93.5px,#f2b237 94.5px,#f3b738 97.5px,#f0ea46 108.5px,#d9f156 121.5px,#c4f666 142.5px,#b6f474 178px)"></i><i style="top:4px;background:linear-gradient(90deg,#bbf46f 0,#d4f259 41.5px,#efea47 67.5px,#f2d13f 75.5px,#f2cf3e 85.5px,#f2cc3d 86.5px,#f29b33 87.5px,#dd3e20 88.5px,#b62317 89.5px,#b02216 90.5px,#b42317 91.5px,#d42f1c 92.5px,#ee7d2d 93.5px,#f3bc39 94.5px,#efea47 106.5px,#d7f258 118.5px,#bef56c 140.5px,#b2f378 178px)"></i><i style="top:5px;background:linear-gradient(90deg,#bef56c 0,#d4f35a 39.5px,#efea47 66.5px,#f2ce3e 75.5px,#f2ca3d 85.5px,#f3c73c 86.5px,#f19531 87.5px,#db3b1f 88.5px,#b62317 89.5px,#af2216 90.5px,#b52317 91.5px,#d6321d 92.5px,#ef822e 93.5px,#f3b538 94.5px,#f3c33b 99.5px,#f0ea46 107.5px,#d9f156 119.5px,#c2f568 141.5px,#b4f476 178px)"></i><i style="top:6px;background:linear-gradient(90deg,#c0f56a 0,#d3f35a 38.5px,#efea47 66.5px,#f2cd3e 75.5px,#f2c83c 85.5px,#f3c53b 86.5px,#f18d30 87.5px,#da381e 88.5px,#b52317 89.5px,#af2216 90.5px,#b52317 91.5px,#d8351e 92.5px,#f0882f 93.5px,#f2b237 94.5px,#f3b838 97.5px,#efea47 108.5px,#d9f156 120.5px,#c3f567 142.5px,#b4f476 178px)"></i><i style="top:7px;background:linear-gradient(90deg,#bcf56e 0,#d4f25a 41.5px,#f0ea46 68.5px,#f2d23f 75.5px,#f2ce3e 85.5px,#f2cb3d 86.5px,#f0882f 87.5px,#d8351e 88.5px,#b52317 89.5px,#af2216 90.5px,#b52317 91.5px,#da381e 92.5px,#f18d30 93.5px,#f3ba39 94.5px,#f2c83c 99.5px,#f0ea46 106.5px,#d7f157 118.5px,#bff56b 140.5px,#b1f379 178px)"></i><i style="top:8px;background:linear-gradient(90deg,#bbf56f 0,#d2f35b 40.5px,#edeb48 67.5px,#f1d540 75.5px,#f2d03f 85.5px,#f2cd3e 86.5px,#ef822e 87.5px,#d6321d 88.5px,#b52317 89.5px,#af2216 90.5px,#b62317 91.5px,#db3a1f 92.5px,#f19431 93.5px,#f3bd39 94.5px,#f2ca3d 99.5px,#eeea47 106.5px,#d7f157 117.5px,#bff56b 139.5px,#b1f379 178px)"></i><i style="top:9px;background:linear-gradient(90deg,#c2f568 0,#d2f35b 39.5px,#f0ea46 68.5px,#f2d13f 75.5px,#f2c83c 85.5px,#f3c43b 86.5px,#ee7e2d 87.5px,#d5301c 88.5px,#b42317 89.5px,#b02216 90.5px,#b62317 91.5px,#dd3d20 92.5px,#f19a32 93.5px,#f2b037 94.5px,#f3b939 98.5px,#f0ea46 108.5px,#cdf45e 133.5px,#b5f475 178px)"></i><i style="top:10px;background:linear-gradient(90deg,#c5f665 0,#d1f35b 38.5px,#f0ea46 68.5px,#f2d13f 75.5px,#f3c53b 85.5px,#f3c13a 86.5px,#ee7a2c 87.5px,#d42e1c 88.5px,#b42317 89.5px,#b02216 90.5px,#b62317 91.5px,#de3f20 92.5px,#f29d33 93.5px,#f2ab36 94.5px,#f3b738 99.5px,#f0e946 109.5px,#d1f35c 133.5px,#b7f473 178px)"></i><i style="top:11px;background:linear-gradient(90deg,#bff56b 0,#cff45d 39.5px,#eaec4a 67.5px,#f2cf3e 85.5px,#f2cc3d 86.5px,#ed772c 87.5px,#d32c1b 88.5px,#b42317 89.5px,#b02216 90.5px,#b62317 91.5px,#df4121 92.5px,#f2a034 93.5px,#f3b939 94.5px,#f3c53b 99.5px,#efea47 107.5px,#ccf55f 131.5px,#b3f477 178px)"></i><i style="top:12px;background:linear-gradient(90deg,#caf560 0,#d7f157 36.5px,#f0ea46 65.5px,#f3c43b 79.5px,#f1dc42 80.5px,#f1d741 85.5px,#f2d13f 86.5px,#ed742b 87.5px,#d22b1b 88.5px,#b42317 89.5px,#b02216 90.5px,#b72317 91.5px,#e04221 92.5px,#f2a234 93.5px,#f3c33b 94.5px,#f2ce3e 99.5px,#efea47 105.5px,#d8f157 115.5px,#c1f569 137.5px,#b0f37a 178px)"></i><i style="top:13px;background:linear-gradient(90deg,#bef56c 0,#cbf560 37.5px,#e1ee50 64.5px,#f0e845 74.5px,#f1d540 85.5px,#f2d03e 86.5px,#ec722b 87.5px,#d22b1b 88.5px,#b42317 89.5px,#b02216 90.5px,#b72317 91.5px,#e04321 92.5px,#f2a434 93.5px,#f3bf3a 94.5px,#f2ca3d 99.5px,#efea47 106.5px,#dbf055 115.5px,#cdf55f 128.5px,#b2f378 178px)"></i><i style="top:14px;background:linear-gradient(90deg,#bef56c 0,#c5f665 29.5px,#dcf054 62.5px,#f0ea46 75.5px,#f1d841 85.5px,#f2cf3e 86.5px,#ec712b 87.5px,#d12a1b 88.5px,#b42317 89.5px,#b02216 90.5px,#b72317 91.5px,#e14422 92.5px,#f2a535 93.5px,#f3c23b 94.5px,#f2cc3d 99.5px,#f0ea46 105.5px,#cff45d 125.5px,#b2f378 178px)"></i><i style="top:15px;background:linear-gradient(90deg,#baf470 0,#ccf55f 47.5px,#f1e143 85.5px,#f2ce3e 86.5px,#ec702b 87.5px,#d12a1b 88.5px,#b42317 89.5px,#b02216 90.5px,#b72317 91.5px,#e14422 92.5px,#f2a535 93.5px,#f2cc3d 94.5px,#f1d640 99.5px,#f0ea46 103.5px,#d4f25a 115.5px,#c3f567 132.5px,#aff37b 178px)"></i><i style="top:16px;background:linear-gradient(90deg,#bbf46f 0,#cbf560 48.5px,#f1e344 85.5px,#f2ce3e 86.5px,#ec702a 87.5px,#d12a1b 88.5px,#b42317 89.5px,#b02216 90.5px,#b72317 91.5px,#e14422 92.5px,#f2a635 93.5px,#f2cd3e 94.5px,#f1d640 99.5px,#f0ea46 103.5px,#cdf55f 122.5px,#aff37b 178px)"></i><i style="top:17px;background:linear-gradient(90deg,#baf470 0,#c5f665 42.5px,#f0e745 85.5px,#f2cd3e 86.5px,#ec6f2a 87.5px,#d12a1a 88.5px,#b42317 89.5px,#b02216 90.5px,#b72317 91.5px,#e14522 92.5px,#f2a635 93.5px,#f2d03f 94.5px,#efea47 103.5px,#cdf55f 121.5px,#aff37b 178px)"></i><i style="top:18px;background:linear-gradient(90deg,#b3f477 0,#c3f567 46.5px,#eceb49 85.5px,#f2cd3e 86.5px,#ec6e2a 87.5px,#d12a1a 88.5px,#b32217 89.5px,#b12216 90.5px,#b72317 91.5px,#e24522 92.5px,#f2a735 93.5px,#f1e043 94.5px,#f0ea46 99.5px,#cbf560 114.5px,#bcf56e 127.5px,#a9f281 178px)"></i><i style="top:19px;background:linear-gradient(90deg,#aef37c 0,#c3f567 52.5px,#d1f35c 68.5px,#eceb49 85.5px,#f2cc3d 86.5px,#eb6d2a 87.5px,#d1291a 88.5px,#b32217 89.5px,#b12216 90.5px,#b72317 91.5px,#e24622 92.5px,#f2a835 93.5px,#f0e545 94.5px,#efea46 95.5px,#c2f568 115.5px,#b6f474 125.5px,#a9f281 148.5px,#a6f284 178px)"></i><i style="top:20px;background:linear-gradient(90deg,#b1f379 0,#c1f569 52.5px,#d1f35c 69.5px,#eceb49 85.5px,#f2cb3d 86.5px,#eb6b2a 87.5px,#d0291a 88.5px,#b32217 89.5px,#b12216 90.5px,#b72317 91.5px,#e34722 92.5px,#f2a935 93.5px,#f0e545 94.5px,#f0ea46 95.5px,#c4f566 115.5px,#baf470 123.5px,#a7f283 178px)"></i><i style="top:21px;background:linear-gradient(90deg,#b2f378 0,#bdf56d 49.5px,#e4ee4f 84.5px,#edeb48 85.5px,#f2c93d 86.5px,#eb6929 87.5px,#d0281a 88.5px,#b32217 89.5px,#b12216 90.5px,#b82317 91.5px,#e34823 92.5px,#f2ab36 93.5px,#f0e645 94.5px,#efea46 95.5px,#bcf56e 122.5px,#a8f282 178px)"></i><i style="top:22px;background:linear-gradient(90deg,#b0f37a 0,#bbf56f 51.5px,#e1ee50 84.5px,#edeb48 85.5px,#f2c73c 86.5px,#ea6729 87.5px,#cf281a 88.5px,#b32217 89.5px,#b12216 90.5px,#ba2417 91.5px,#e44923 92.5px,#f2ad36 93.5px,#f0e745 94.5px,#edeb48 95.5px,#c0f56a 115.5px,#b8f472 122.5px,#a6f284 178px)"></i><i style="top:23px;background:linear-gradient(90deg,#a7f283 0,#b8f472 55.5px,#d8f157 83.5px,#edeb48 85.5px,#f3c53b 86.5px,#ea6428 87.5px,#cd271a 88.5px,#b32216 89.5px,#b12216 90.5px,#bc2418 91.5px,#e54a24 92.5px,#f2b037 93.5px,#f0e845 94.5px,#e4ee4e 95.5px,#c8f662 107.5px,#b2f378 114.5px,#a9f281 122.5px,#9ef18c 146.5px,#9ff18b 178px)"></i><i style="top:24px;background:linear-gradient(90deg,#a4f286 0,#b5f475 57.5px,#d4f259 83.5px,#eeeb48 85.5px,#f3c33b 86.5px,#e96028 87.5px,#cb2719 88.5px,#b32216 89.5px,#b12216 90.5px,#be2518 91.5px,#e64c24 92.5px,#f2b237 93.5px,#f0e946 94.5px,#e4ee4e 95.5px,#c7f663 106.5px,#adf37d 114.5px,#a4f286 121.5px,#9af190 145.5px,#9df18d 178px)"></i><i style="top:25px;background:linear-gradient(90deg,#a2f288 0,#b3f477 58.5px,#d1f35c 83.5px,#eeeb47 85.5px,#f3c13a 86.5px,#e95d27 87.5px,#c92719 88.5px,#b22216 89.5px,#b22216 90.5px,#c02518 91.5px,#e74f25 92.5px,#f3b538 93.5px,#f0e946 94.5px,#dbf055 96.5px,#c9f661 104.5px,#a8f282 114.5px,#9ff18b 122.5px,#96f094 146.5px,#9bf18f 178px)"></i><i style="top:26px;background:linear-gradient(90deg,#9ff18b 0,#b0f37a 59.5px,#cef45e 83.5px,#efea47 85.5px,#f3be3a 86.5px,#e85a27 87.5px,#c72619 88.5px,#b22216 89.5px,#b22216 90.5px,#c22518 91.5px,#e75325 92.5px,#f3b838 93.5px,#f0ea46 94.5px,#d8f157 96.5px,#c9f661 103.5px,#a3f287 114.5px,#9bf18f 121.5px,#93f097 145.5px,#99f191 178px)"></i><i style="top:27px;background:linear-gradient(90deg,#a6f284 0,#aff37b 56.5px,#d1f35c 83.5px,#efea47 85.5px,#f3bc39 86.5px,#e85726 87.5px,#c52619 88.5px,#b22216 89.5px,#b22216 90.5px,#c42619 91.5px,#e85526 92.5px,#f3ba39 93.5px,#efea46 94.5px,#e3ee4f 95.5px,#c9f662 105.5px,#acf37e 114.5px,#a5f285 119.5px,#9cf18e 144.5px,#9ef18c 178px)"></i><i style="top:28px;background:linear-gradient(90deg,#a7f283 0,#adf37d 56.5px,#d0f35c 83.5px,#efea46 85.5px,#f3ba39 86.5px,#e85526 87.5px,#c42618 88.5px,#b22216 89.5px,#b22216 90.5px,#c52619 91.5px,#e85826 92.5px,#f3bc39 93.5px,#efea47 94.5px,#e3ee4f 95.5px,#caf661 105.5px,#adf37d 114.5px,#a8f282 119.5px,#9ff18b 178px)"></i><i style="top:29px;background:linear-gradient(90deg,#a5f285 0,#abf37f 56.5px,#cdf45e 83.5px,#f0ea46 85.5px,#f3b838 86.5px,#e75325 87.5px,#c22518 88.5px,#b22216 89.5px,#b22216 90.5px,#c62619 91.5px,#e85a26 92.5px,#f3be3a 93.5px,#efea47 94.5px,#daf155 96.5px,#c9f661 104.5px,#a9f281 114.5px,#a3f287 120.5px,#9ef18c 178px)"></i><i style="top:30px;background:linear-gradient(90deg,#abf37f 0,#aaf380 54.5px,#b4f476 67.5px,#d0f45c 83.5px,#f0ea46 85.5px,#f3b738 86.5px,#e75225 87.5px,#c22518 88.5px,#b22216 89.5px,#b22216 90.5px,#c72619 91.5px,#e85b27 92.5px,#f3bf3a 93.5px,#efea47 94.5px,#e3ee4f 95.5px,#adf37d 118.5px,#a2f288 178px)"></i><i style="top:31px;background:linear-gradient(90deg,#aaf380 0,#a8f282 54.5px,#b2f478 67.5px,#cff45d 83.5px,#f0ea46 85.5px,#f3b738 86.5px,#e75225 87.5px,#c12518 88.5px,#b22216 89.5px,#b22216 90.5px,#c72619 91.5px,#e85b27 92.5px,#f3bf3a 93.5px,#efea47 94.5px,#e3ee4f 95.5px,#acf37e 118.5px,#a3f287 178px)"></i><i style="top:32px;background:linear-gradient(90deg,#a8f282 0,#a6f284 55.5px,#b1f379 68.5px,#ccf55f 83.5px,#f0ea46 85.5px,#f3b838 86.5px,#e75225 87.5px,#c22518 88.5px,#b22216 89.5px,#b22216 90.5px,#c72619 91.5px,#e85a27 92.5px,#f3be3a 93.5px,#efea47 94.5px,#daf155 96.5px,#a7f283 119.5px,#a1f289 178px)"></i><i style="top:33px;background:linear-gradient(90deg,#a6f284 0,#a5f285 55.5px,#aff37b 68.5px,#caf560 83.5px,#e3ee4f 84.5px,#f0ea46 85.5px,#f3b939 86.5px,#e75425 87.5px,#c32518 88.5px,#b22216 89.5px,#b22216 90.5px,#c62619 91.5px,#e85926 92.5px,#f3bd39 93.5px,#efea47 94.5px,#d9f156 96.5px,#c9f661 104.5px,#abf37f 114.5px,#a6f284 119.5px,#a1f289 178px)"></i><i style="top:34px;background:linear-gradient(90deg,#a4f286 0,#a3f287 56.5px,#aef37c 69.5px,#c8f662 83.5px,#e3ee4f 84.5px,#efea46 85.5px,#f3ba39 86.5px,#e85626 87.5px,#c42619 88.5px,#b22216 89.5px,#b22216 90.5px,#c52619 91.5px,#e85726 92.5px,#f3bc39 93.5px,#efea47 94.5px,#d6f258 96.5px,#c9f661 103.5px,#a8f282 114.5px,#a3f287 119.5px,#a0f18a 178px)"></i><i style="top:35px;background:linear-gradient(90deg,#9df18d 0,#a0f18a 58.5px,#c2f568 83.5px,#e3ee4f 84.5px,#efea47 85.5px,#f3bd39 86.5px,#e85826 87.5px,#c62619 88.5px,#b22216 89.5px,#b22216 90.5px,#c32618 91.5px,#e75426 92.5px,#f3b939 93.5px,#f0ea46 94.5px,#d0f45c 96.5px,#c8f662 101.5px,#9ff18b 114.5px,#9af190 119.5px,#95f095 143.5px,#9cf18e 178px)"></i><i style="top:36px;background:linear-gradient(90deg,#a1f289 0,#a0f18a 56.5px,#aaf380 69.5px,#c5f665 83.5px,#e2ee4f 84.5px,#efea47 85.5px,#f3bf3a 86.5px,#e95c27 87.5px,#c82619 88.5px,#b22216 89.5px,#b22216 90.5px,#c12518 91.5px,#e75125 92.5px,#f3b738 93.5px,#f0ea46 94.5px,#d4f25a 96.5px,#caf661 102.5px,#a6f284 114.5px,#a1f289 119.5px,#a1f189 178px)"></i><i style="top:37px;background:linear-gradient(90deg,#a0f18a 0,#9ef18c 56.5px,#a9f281 69.5px,#c3f567 83.5px,#e2ee50 84.5px,#eeeb47 85.5px,#f3c23b 86.5px,#e95f28 87.5px,#ca2719 88.5px,#b32216 89.5px,#b12216 90.5px,#bf2518 91.5px,#e64d24 92.5px,#f2b337 93.5px,#f0e946 94.5px,#d3f35b 96.5px,#c8f662 102.5px,#a6f284 114.5px,#a1f189 119.5px,#a1f189 178px)"></i><i style="top:38px;background:linear-gradient(90deg,#98f092 0,#9cf18e 59.5px,#bdf56d 83.5px,#e2ee50 84.5px,#edeb48 85.5px,#f3c53b 86.5px,#ea6328 87.5px,#cd271a 88.5px,#b32216 89.5px,#b12216 90.5px,#bc2418 91.5px,#e54b24 92.5px,#f2b037 93.5px,#f0e845 94.5px,#e4ee4e 95.5px,#ccf55f 96.5px,#9cf18e 114.5px,#96f094 120.5px,#93f097 142.5px,#9df18d 178px)"></i><i style="top:39px;background:linear-gradient(90deg,#9cf18e 0,#9cf18e 57.5px,#a6f284 69.5px,#c0f56a 83.5px,#e1ee50 84.5px,#edeb48 85.5px,#f2c83c 86.5px,#eb6829 87.5px,#cf281a 88.5px,#b32217 89.5px,#b12216 90.5px,#b92417 91.5px,#e44823 92.5px,#f2ad36 93.5px,#f0e645 94.5px,#d0f45c 96.5px,#c8f662 101.5px,#a3f287 114.5px,#9ff18b 119.5px,#a1f289 178px)"></i><i style="top:40px;background:linear-gradient(90deg,#9ef18c 0,#9bf18f 56.5px,#a6f284 69.5px,#c2f568 83.5px,#e1ef51 84.5px,#eceb49 85.5px,#f2cb3d 86.5px,#eb6c2a 87.5px,#d1291a 88.5px,#b32217 89.5px,#b12216 90.5px,#b72317 91.5px,#e34622 92.5px,#f2a935 93.5px,#f0e545 94.5px,#d2f35b 96.5px,#a3f287 119.5px,#a4f286 178px)"></i><i style="top:41px;background:linear-gradient(90deg,#a0f18a 0,#9bf18f 56.5px,#a6f284 69.5px,#c3f567 83.5px,#e1ef51 84.5px,#eceb49 85.5px,#f2ce3e 86.5px,#ec6f2a 87.5px,#d12a1b 88.5px,#b42317 89.5px,#b02216 90.5px,#b72317 91.5px,#e14422 92.5px,#f2a635 93.5px,#f0e444 94.5px,#d3f35a 96.5px,#a7f283 119.5px,#a7f283 178px)"></i><i style="top:42px;background:linear-gradient(90deg,#9cf18e 0,#9af190 57.5px,#a4f286 69.5px,#c1f569 83.5px,#e0ef51 84.5px,#ebeb49 85.5px,#f2d03f 86.5px,#ec732b 87.5px,#d22b1b 88.5px,#b42317 89.5px,#b02216 90.5px,#b72317 91.5px,#e04321 92.5px,#f2a334 93.5px,#f0e344 94.5px,#d1f35c 96.5px,#a4f286 119.5px,#a6f284 178px)"></i><i style="top:43px;background:linear-gradient(90deg,#9cf18e 0,#9af190 57.5px,#a6f284 70.5px,#c2f568 83.5px,#e0ef51 84.5px,#ebec4a 85.5px,#f2d23f 86.5px,#ed762c 87.5px,#d22c1b 88.5px,#b42317 89.5px,#b02216 90.5px,#b62317 91.5px,#df4121 92.5px,#f2a134 93.5px,#f1e244 94.5px,#d1f35c 97.5px,#cef45e 103.5px,#c2f568 104.5px,#b5f475 109.5px,#a6f284 119.5px,#a7f283 178px)"></i><i style="top:44px;background:linear-gradient(90deg,#9cf18e 0,#99f191 57.5px,#a5f285 70.5px,#c3f567 83.5px,#e0ef51 84.5px,#ebec4a 85.5px,#f2d440 86.5px,#ed782c 87.5px,#d32d1b 88.5px,#b42317 89.5px,#b02216 90.5px,#b62317 91.5px,#df4021 92.5px,#f29f33 93.5px,#f1e244 94.5px,#d3f35a 97.5px,#cef45e 105.5px,#bef56c 106.5px,#a8f282 119.5px,#a9f281 178px)"></i><i style="top:45px;background:linear-gradient(90deg,#9af190 0,#98f192 58.5px,#a4f286 70.5px,#c2f568 83.5px,#e0ef51 84.5px,#eaec4a 85.5px,#f2d540 86.5px,#ee7a2c 87.5px,#d32e1c 88.5px,#b42317 89.5px,#b02216 90.5px,#b62317 91.5px,#de3f20 92.5px,#f29d33 93.5px,#f1e143 94.5px,#dcf054 96.5px,#cef45e 107.5px,#b7f473 108.5px,#a7f283 117.5px,#a9f281 178px)"></i><i style="top:46px;background:linear-gradient(90deg,#9df18d 0,#95f095 31.5px,#9af190 58.5px,#a6f284 70.5px,#c7f663 83.5px,#e0ef52 84.5px,#eaec4a 85.5px,#f1d640 86.5px,#ee7b2c 87.5px,#d42e1c 88.5px,#b42317 89.5px,#b02216 90.5px,#b62317 91.5px,#de3f20 92.5px,#f29c33 93.5px,#f1e143 94.5px,#dcf054 96.5px,#cef45e 109.5px,#b8f472 110.5px,#aef37c 117.5px,#adf37d 178px)"></i><i style="top:47px;background:linear-gradient(90deg,#9df18d 0,#95f095 31.5px,#99f191 58.5px,#a6f284 70.5px,#c9f662 83.5px,#dfef52 84.5px,#eaec4a 85.5px,#f1d640 86.5px,#ee7b2d 87.5px,#d42f1c 88.5px,#b42317 89.5px,#b02216 90.5px,#b62317 91.5px,#de3e20 92.5px,#f29c33 93.5px,#f1e143 94.5px,#deef53 96.5px,#cef45e 111.5px,#b6f474 112.5px,#b0f37a 117.5px,#aef37c 178px)"></i><i style="top:48px;background:linear-gradient(90deg,#9df18d 0,#95f095 32.5px,#9af190 59.5px,#a6f284 70.5px,#caf560 83.5px,#eaec4a 85.5px,#f1d640 86.5px,#ee7c2d 87.5px,#d42f1c 88.5px,#b42317 89.5px,#b02216 90.5px,#b62317 91.5px,#dd3e20 92.5px,#f29c33 93.5px,#f1e143 94.5px,#e7ed4d 95.5px,#cef45e 114.5px,#b3f477 115.5px,#b3f477 116.5px,#b0f37a 178px)"></i><i style="top:49px;background:linear-gradient(90deg,#9cf18e 0,#94f096 32.5px,#9af190 59.5px,#a6f284 70.5px,#ccf55f 83.5px,#eaec4a 85.5px,#f1d640 86.5px,#ee7c2d 87.5px,#d42f1c 88.5px,#b42317 89.5px,#b02216 90.5px,#b62317 91.5px,#dd3e20 92.5px,#f29b33 93.5px,#f1e143 94.5px,#eaec4a 95.5px,#cef45e 116.5px,#b2f378 117.5px,#b0f37a 178px)"></i><i style="top:50px;background:linear-gradient(90deg,#a1f189 0,#96f094 32.5px,#9bf18f 58.5px,#a9f281 70.5px,#d1f35c 83.5px,#eaec4a 85.5px,#f1d640 86.5px,#ee7c2d 87.5px,#d42f1c 88.5px,#b42317 89.5px,#b02216 90.5px,#b62317 91.5px,#dd3e20 92.5px,#f29b33 93.5px,#f1e043 94.5px,#efea47 95.5px,#cef45e 118.5px,#baf470 119.5px,#b5f475 178px)"></i><i style="top:51px;background:linear-gradient(90deg,#a0f18a 0,#96f094 32.5px,#9bf18f 59.5px,#a9f281 70.5px,#d3f35b 83.5px,#eaec4a 85.5px,#f1d740 86.5px,#ee7c2d 87.5px,#d42f1c 88.5px,#b42317 89.5px,#b02216 90.5px,#b62317 91.5px,#dd3e20 92.5px,#f29b33 93.5px,#f2d23f 94.5px,#f0ea46 97.5px,#cef45e 120.5px,#baf470 121.5px,#b6f474 178px)"></i><i style="top:52px;background:linear-gradient(90deg,#9ef18c 0,#95f095 33.5px,#9bf18f 60.5px,#aaf380 71.5px,#d3f35a 83.5px,#eaec4a 85.5px,#f1d741 86.5px,#ee7d2d 87.5px,#d52f1c 88.5px,#b42317 89.5px,#b02216 90.5px,#b62317 91.5px,#dd3d20 92.5px,#f29b33 93.5px,#f3bd39 94.5px,#f1e244 98.5px,#efea46 100.5px,#cef45e 123.5px,#b7f473 124.5px,#b5f475 178px)"></i><i style="top:53px;background:linear-gradient(90deg,#a1f289 0,#97f093 33.5px,#9df18d 60.5px,#aaf380 70.5px,#d7f157 83.5px,#eaec4a 85.5px,#f1d841 86.5px,#ee7e2d 87.5px,#d5301c 88.5px,#b42317 89.5px,#b02216 90.5px,#b62317 91.5px,#dd3d20 92.5px,#f19a32 93.5px,#f1de43 100.5px,#efea46 103.5px,#cef45e 125.5px,#bef56c 126.5px,#b9f471 178px)"></i><i style="top:54px;background:linear-gradient(90deg,#a6f284 0,#99f191 32.5px,#9ef18c 59.5px,#adf37d 70.5px,#dfef52 84.5px,#e9ec4b 85.5px,#f1d941 86.5px,#ef802d 87.5px,#d5311c 88.5px,#b52317 89.5px,#af2216 90.5px,#b62317 91.5px,#dc3c20 92.5px,#f19131 93.5px,#f1db42 102.5px,#f0ea46 106.5px,#c7f663 128.5px,#bdf56d 178px)"></i><i style="top:55px;background:linear-gradient(90deg,#a5f285 0,#99f191 33.5px,#9ff18b 60.5px,#acf37e 70.5px,#c8f662 77.5px,#dfef52 84.5px,#e9ec4b 85.5px,#f1da41 86.5px,#ef822e 87.5px,#d6321d 88.5px,#b52317 89.5px,#af2216 90.5px,#b62317 91.5px,#db3b1f 92.5px,#f18d30 93.5px,#f1d740 104.5px,#f0ea46 109.5px,#cef45e 129.5px,#c6f664 130.5px,#bdf56d 178px)"></i><i style="top:56px;background:linear-gradient(90deg,#9bf18f 0,#96f094 36.5px,#9df18d 63.5px,#adf37d 72.5px,#dfef52 84.5px,#e9ec4b 85.5px,#f1db42 86.5px,#ef842e 87.5px,#d7331d 88.5px,#b52317 89.5px,#af2216 90.5px,#b62317 91.5px,#db391f 92.5px,#f19131 93.5px,#f1d841 107.5px,#f0e946 112.5px,#cef45e 132.5px,#b8f472 133.5px,#b7f473 178px)"></i><i style="top:57px;background:linear-gradient(90deg,#a0f18a 0,#98f192 35.5px,#9ff18b 62.5px,#adf37d 71.5px,#cbf560 78.5px,#deef52 84.5px,#e8ec4b 85.5px,#f1dc42 86.5px,#f0882f 87.5px,#d8351e 88.5px,#b52317 89.5px,#af2216 90.5px,#b52317 91.5px,#da381e 92.5px,#f18d30 93.5px,#f2a334 94.5px,#f0e846 115.5px,#cef45e 134.5px,#c1f569 135.5px,#bbf56f 178px)"></i><i style="top:58px;background:linear-gradient(90deg,#a2f288 0,#99f191 34.5px,#9ff18b 61.5px,#aef37c 71.5px,#c7f663 77.5px,#deef53 84.5px,#e8ec4c 85.5px,#f1dd42 86.5px,#f18b30 87.5px,#d9371e 88.5px,#b52317 89.5px,#af2216 90.5px,#b52317 91.5px,#d8361e 92.5px,#f0892f 93.5px,#f2ae36 94.5px,#f3b939 97.5px,#f3c43b 106.5px,#f0ea46 119.5px,#cef45e 136.5px,#c4f666 137.5px,#bdf56d 178px)"></i><i style="top:59px;background:linear-gradient(90deg,#9ef18c 0,#99f191 36.5px,#a0f18a 63.5px,#acf37e 71.5px,#ddf053 84.5px,#f1de43 86.5px,#f19030 87.5px,#da391f 88.5px,#b62317 89.5px,#af2216 90.5px,#b52317 91.5px,#d7341d 92.5px,#ef852e 93.5px,#f3b438 94.5px,#f3bd39 97.5px,#f2d03e 112.5px,#eeeb47 123.5px,#cef45e 139.5px,#c0f56a 140.5px,#baf470 178px)"></i><i style="top:60px;background:linear-gradient(90deg,#9df18d 0,#9ff18b 63.5px,#aef37c 72.5px,#ddf053 84.5px,#f1df43 86.5px,#f19732 87.5px,#dc3b1f 88.5px,#b62317 89.5px,#af2216 90.5px,#b52317 91.5px,#d6311d 92.5px,#ef812e 93.5px,#f3bc39 94.5px,#f3c23a 96.5px,#f2d23f 115.5px,#f0e846 125.5px,#d3f35a 138.5px,#cef45e 141.5px,#c0f56a 142.5px,#baf470 178px)"></i><i style="top:61px;background:linear-gradient(90deg,#a2f288 0,#9bf18f 35.5px,#a1f289 62.5px,#aff37b 71.5px,#ddf054 84.5px,#f1e043 86.5px,#f29b33 87.5px,#dd3e20 88.5px,#b62317 89.5px,#b02216 90.5px,#b42317 91.5px,#d42f1c 92.5px,#ee7c2d 93.5px,#f3c63c 94.5px,#f2c83c 95.5px,#f1d640 119.5px,#f0ea46 129.5px,#c8f662 144.5px,#bef56c 178px)"></i><i style="top:62px;background:linear-gradient(90deg,#b5f475 0,#b6f474 61.5px,#c1f569 70.5px,#e6ed4d 85.5px,#f1e244 86.5px,#f29f33 87.5px,#df4021 88.5px,#b62317 89.5px,#b02216 90.5px,#b42317 91.5px,#d32d1b 92.5px,#ed782c 93.5px,#f2d03f 94.5px,#f1db42 123.5px,#f0ea46 132.5px,#cef45e 148.5px,#c4f566 149.5px,#bcf56e 178px)"></i><i style="top:63px;background:linear-gradient(90deg,#a4f286 0,#a2f288 61.5px,#aff37b 71.5px,#d8f157 84.5px,#f0e344 86.5px,#f2a334 87.5px,#e04221 88.5px,#b72317 89.5px,#b02216 90.5px,#b42317 91.5px,#d22b1b 92.5px,#ed732b 93.5px,#f2d03f 94.5px,#f1de43 95.5px,#f0e946 135.5px,#cbf560 151.5px,#c0f56a 178px)"></i><i style="top:64px;background:linear-gradient(90deg,#a6f284 0,#a3f287 60.5px,#aef37c 70.5px,#d7f157 84.5px,#f0e444 86.5px,#f2a635 87.5px,#e24522 88.5px,#b72317 89.5px,#b02216 90.5px,#b32317 91.5px,#d12a1a 92.5px,#ec6f2a 93.5px,#f2cd3e 94.5px,#f0ea46 95.5px,#efea46 138.5px,#e5ed4e 145.5px,#cef45e 151.5px,#c2f568 178px)"></i><i style="top:65px;background:linear-gradient(90deg,#9df18d 0,#a1f289 63.5px,#abf37f 71.5px,#cff45d 84.5px,#f0e645 86.5px,#f2aa36 87.5px,#e34723 88.5px,#b82317 89.5px,#b12216 90.5px,#b32217 91.5px,#d0281a 92.5px,#eb6a2a 93.5px,#f2ca3d 94.5px,#eceb48 95.5px,#eceb49 144.5px,#c3f567 152.5px,#bcf56e 178px)"></i><i style="top:66px;background:linear-gradient(90deg,#aff37b 0,#b4f476 62.5px,#bcf56e 70.5px,#dcf054 84.5px,#f0e745 86.5px,#f2ae36 87.5px,#e44923 88.5px,#ba2417 89.5px,#b12216 90.5px,#b32217 91.5px,#ce281a 92.5px,#ea6629 93.5px,#f3c73c 94.5px,#edeb48 95.5px,#e5ed4e 96.5px,#e5ed4e 145.5px,#c5f665 152.5px,#bcf56e 178px)"></i><i style="top:67px;background:linear-gradient(90deg,#9df18d 0,#a2f288 62.5px,#abf37f 71.5px,#cbf560 84.5px,#e4ee4e 85.5px,#f0e845 86.5px,#f2b137 87.5px,#e64b24 88.5px,#bd2418 89.5px,#b12216 90.5px,#b32216 91.5px,#cc2719 92.5px,#ea6228 93.5px,#f3c43b 94.5px,#eeeb48 95.5px,#e2ee50 96.5px,#d9f156 145.5px,#c7f663 151.5px,#bdf56d 178px)"></i><i style="top:68px;background:linear-gradient(90deg,#a5f285 0,#a4f286 60.5px,#aef37c 70.5px,#cff45d 84.5px,#f0e946 86.5px,#f3b438 87.5px,#e64f24 88.5px,#bf2518 89.5px,#b22216 90.5px,#b22216 91.5px,#c92719 92.5px,#e95e27 93.5px,#f3c13a 94.5px,#eeeb47 95.5px,#d8f156 109.5px,#c3f567 178px)"></i><i style="top:69px;background:linear-gradient(90deg,#aef37c 0,#a7f283 58.5px,#b1f379 69.5px,#d3f35a 84.5px,#f0ea46 86.5px,#f3b738 87.5px,#e75225 88.5px,#c22518 89.5px,#b22216 90.5px,#b22216 91.5px,#c72619 92.5px,#e85b27 93.5px,#f3bf3a 94.5px,#f0e845 95.5px,#deef52 115.5px,#daf055 149.5px,#c9f661 178px)"></i><i style="top:70px;background:linear-gradient(90deg,#adf37d 0,#a7f283 58.5px,#b1f379 69.5px,#d1f35c 84.5px,#efea46 86.5px,#f3ba39 87.5px,#e85526 88.5px,#c42619 89.5px,#b22216 90.5px,#b22216 91.5px,#c52619 92.5px,#e85726 93.5px,#f3bc39 94.5px,#f0e946 95.5px,#deef53 115.5px,#daf155 149.5px,#c9f661 178px)"></i><i style="top:71px;background:linear-gradient(90deg,#9ff18b 0,#a4f286 62.5px,#c7f663 84.5px,#e3ee4f 85.5px,#efea47 86.5px,#f3bc39 87.5px,#e85826 88.5px,#c52619 89.5px,#b22216 90.5px,#b22216 91.5px,#c32618 92.5px,#e75526 93.5px,#f3ba39 94.5px,#f0ea46 95.5px,#e6ed4d 96.5px,#cff45d 116.5px,#c0f56a 178px)"></i><i style="top:72px;background:linear-gradient(90deg,#b6f474 0,#b9f471 60.5px,#d7f157 84.5px,#efea47 86.5px,#f3be3a 87.5px,#e85a27 88.5px,#c72619 89.5px,#b22216 90.5px,#b22216 91.5px,#c22518 92.5px,#e75225 93.5px,#f3b838 94.5px,#f0ea46 95.5px,#d2f35b 115.5px,#d0f45d 149.5px,#c2f568 178px)"></i><i style="top:73px;background:linear-gradient(90deg,#aaf380 0,#a7f283 59.5px,#b1f379 70.5px,#ccf55f 84.5px,#eeea47 86.5px,#f3c03a 87.5px,#e95c27 88.5px,#c82619 89.5px,#b22216 90.5px,#b22216 91.5px,#c12518 92.5px,#e75125 93.5px,#f3b638 94.5px,#f0e946 95.5px,#ddf054 116.5px,#daf156 149.5px,#c9f661 178px)"></i><i style="top:74px;background:linear-gradient(90deg,#aef37c 0,#a8f282 57.5px,#b2f378 69.5px,#cff45d 84.5px,#eeeb47 86.5px,#f3c13a 87.5px,#e95d27 88.5px,#c92719 89.5px,#b22216 90.5px,#b22216 91.5px,#c02518 92.5px,#e75025 93.5px,#f3b538 94.5px,#f1e043 95.5px,#e6ed4d 110.5px,#dfef52 149.5px,#ccf55f 178px)"></i><i style="top:75px;background:linear-gradient(90deg,#a9f281 0,#a7f283 59.5px,#b1f379 70.5px,#cbf560 84.5px,#eeeb47 86.5px,#f3c13a 87.5px,#e95e27 88.5px,#c92719 89.5px,#b22216 90.5px,#b22216 91.5px,#c02518 92.5px,#e64f25 93.5px,#f3b538 94.5px,#f0e745 95.5px,#def053 116.5px,#dbf055 149.5px,#caf561 178px)"></i><i style="top:76px;background:linear-gradient(90deg,#a4f286 0,#a6f284 60.5px,#c7f663 84.5px,#e2ee50 85.5px,#eeeb47 86.5px,#f3c13a 87.5px,#e95e27 88.5px,#c92719 89.5px,#b22216 90.5px,#b22216 91.5px,#c02518 92.5px,#e64f25 93.5px,#f3b538 94.5px,#f0e946 95.5px,#d9f156 116.5px,#d6f258 149.5px,#c8f662 178px)"></i><i style="top:77px;background:linear-gradient(90deg,#a6f284 0,#a7f283 60.5px,#c8f662 84.5px,#e2ee50 85.5px,#eeeb47 86.5px,#f3c13a 87.5px,#e95e27 88.5px,#c92719 89.5px,#b22216 90.5px,#b22216 91.5px,#c02518 92.5px,#e74f25 93.5px,#f3b538 94.5px,#f0e946 95.5px,#dcf054 116.5px,#daf156 149.5px,#caf561 178px)"></i><i style="top:78px;background:linear-gradient(90deg,#a6f284 0,#a7f283 60.5px,#c8f662 84.5px,#e2ee50 85.5px,#eeea47 86.5px,#f3c13a 87.5px,#e95d27 88.5px,#c92719 89.5px,#b22216 90.5px,#b22216 91.5px,#c02518 92.5px,#e75025 93.5px,#f3b538 94.5px,#f0e745 95.5px,#ddf053 117.5px,#dbf055 149.5px,#cbf560 178px)"></i><i style="top:79px;background:linear-gradient(90deg,#a4f286 0,#a6f284 60.5px,#c6f664 84.5px,#e2ee4f 85.5px,#eeea47 86.5px,#f3c03a 87.5px,#e95c27 88.5px,#c82619 89.5px,#b22216 90.5px,#b22216 91.5px,#c12518 92.5px,#e75125 93.5px,#f3b638 94.5px,#f0e846 95.5px,#dcf054 117.5px,#daf156 149.5px,#cbf560 178px)"></i><i style="top:80px;background:linear-gradient(90deg,#b8f472 0,#baf470 59.5px,#d6f258 84.5px,#efea47 86.5px,#f3bf3a 87.5px,#e95b27 88.5px,#c72619 89.5px,#b22216 90.5px,#b22216 91.5px,#c12518 92.5px,#e75225 93.5px,#f3b738 94.5px,#f0e845 95.5px,#dcf054 117.5px,#daf156 149.5px,#cbf560 178px)"></i><i style="top:81px;background:linear-gradient(90deg,#a7f283 0,#a7f283 59.5px,#c9f662 84.5px,#e3ee4f 85.5px,#efea47 86.5px,#f3be3a 87.5px,#e85a27 88.5px,#c72619 89.5px,#b22216 90.5px,#b22216 91.5px,#c22518 92.5px,#e75325 93.5px,#f3b838 94.5px,#f1df43 95.5px,#e5ed4e 111.5px,#dfef52 149.5px,#cff45d 178px)"></i><i style="top:82px;background:linear-gradient(90deg,#a7f283 0,#a7f283 59.5px,#c9f661 84.5px,#e3ee4f 85.5px,#efea47 86.5px,#f3bd39 87.5px,#e85826 88.5px,#c62619 89.5px,#b22216 90.5px,#b22216 91.5px,#c32618 92.5px,#e75426 93.5px,#f3b939 94.5px,#f2d540 95.5px,#f0ea46 115.5px,#e1ef51 132.5px,#e1ef51 149.5px,#d0f45c 178px)"></i><i style="top:83px;background:linear-gradient(90deg,#a5f285 0,#a6f284 60.5px,#c7f663 84.5px,#e3ee4f 85.5px,#efea47 86.5px,#f3bb39 87.5px,#e85726 88.5px,#c52619 89.5px,#b22216 90.5px,#b22216 91.5px,#c42619 92.5px,#e85626 93.5px,#f3bb39 94.5px,#f1dd42 95.5px,#e5ed4d 111.5px,#dfef52 149.5px,#d0f45c 178px)"></i><i style="top:84px;background:linear-gradient(90deg,#aef37c 0,#b1f379 60.5px,#cff45d 84.5px,#f0ea46 86.5px,#f3ba39 87.5px,#e75526 88.5px,#c32618 89.5px,#b22216 90.5px,#b22216 91.5px,#c52619 92.5px,#e85826 93.5px,#f3bc39 94.5px,#f2cd3e 95.5px,#f0ea46 108.5px,#d9f156 178px)"></i><i style="top:85px;background:linear-gradient(90deg,#9ef18c 0,#a4f286 61.5px,#c2f568 84.5px,#e3ee4f 85.5px,#f0ea46 86.5px,#f3b838 87.5px,#e75325 88.5px,#c22518 89.5px,#b22216 90.5px,#b22216 91.5px,#c72619 92.5px,#e85a27 93.5px,#f3be3a 94.5px,#f0e545 95.5px,#dcf054 118.5px,#cff45d 178px)"></i><i style="top:86px;background:linear-gradient(90deg,#a2f288 0,#a5f285 60.5px,#c5f665 84.5px,#e4ee4f 85.5px,#f0ea46 86.5px,#f3b638 87.5px,#e75025 88.5px,#c02518 89.5px,#b22216 90.5px,#b22216 91.5px,#c82719 92.5px,#e95d27 93.5px,#f3c03a 94.5px,#f1dc42 95.5px,#e6ed4d 111.5px,#d3f35b 178px)"></i><i style="top:87px;background:linear-gradient(90deg,#a8f282 0,#a6f284 58.5px,#aff37b 69.5px,#caf560 84.5px,#e4ee4e 85.5px,#f0e946 86.5px,#f2b337 87.5px,#e64d24 88.5px,#bf2518 89.5px,#b12216 90.5px,#b32216 91.5px,#ca2719 92.5px,#e95f28 93.5px,#f3c23b 94.5px,#f2cf3e 95.5px,#efea46 109.5px,#e7ed4c 149.5px,#d7f157 178px)"></i><i style="top:88px;background:linear-gradient(90deg,#b5f475 0,#b6f474 58.5px,#d5f259 84.5px,#f0e845 86.5px,#f2b137 87.5px,#e54b24 88.5px,#bd2418 89.5px,#b12216 90.5px,#b32216 91.5px,#cc271a 92.5px,#ea6328 93.5px,#f3c43b 94.5px,#f1d741 95.5px,#ebec4a 109.5px,#d6f258 178px)"></i><i style="top:89px;background:linear-gradient(90deg,#9ff18b 0,#a3f287 60.5px,#c4f566 84.5px,#e5ed4e 85.5px,#f0e745 86.5px,#f2ae36 87.5px,#e44923 88.5px,#ba2417 89.5px,#b12216 90.5px,#b32217 91.5px,#ce281a 92.5px,#ea6629 93.5px,#f3c73c 94.5px,#f1dc42 95.5px,#e6ed4d 111.5px,#d5f259 178px)"></i><i style="top:90px;background:linear-gradient(90deg,#a7f283 0,#a4f286 57.5px,#aef37c 69.5px,#cbf560 84.5px,#e5ed4e 85.5px,#f0e645 86.5px,#f2aa36 87.5px,#e34723 88.5px,#b82317 89.5px,#b12216 90.5px,#b32217 91.5px,#d0281a 92.5px,#eb6a29 93.5px,#f2ca3d 94.5px,#f2c83c 97.5px,#f0ea46 111.5px,#dbf055 178px)"></i><i style="top:91px;background:linear-gradient(90deg,#aaf380 0,#a5f285 56.5px,#b0f37a 69.5px,#cdf45e 84.5px,#e5ed4e 85.5px,#f0e544 86.5px,#f2a735 87.5px,#e24522 88.5px,#b72317 89.5px,#b12216 90.5px,#b32217 91.5px,#d12a1a 92.5px,#ec6e2a 93.5px,#f2cd3e 94.5px,#f3c03a 96.5px,#f1e043 110.5px,#f0ea46 119.5px,#eeeb48 149.5px,#deef53 178px)"></i><i style="top:92px;background:linear-gradient(90deg,#acf37e 0,#a2f288 30.5px,#a5f285 55.5px,#aff37b 68.5px,#cff45d 84.5px,#f0e344 86.5px,#f2a334 87.5px,#e04321 88.5px,#b72317 89.5px,#b02216 90.5px,#b42317 91.5px,#d22b1b 92.5px,#ec722b 93.5px,#f2c83c 94.5px,#f3b939 96.5px,#f1e244 118.5px,#f0e946 150.5px,#e1ef51 178px)"></i><i style="top:93px;background:linear-gradient(90deg,#a4f286 0,#a2f288 57.5px,#acf37e 69.5px,#c9f661 83.5px,#f1e244 86.5px,#f2a034 87.5px,#df4121 88.5px,#b62317 89.5px,#b02216 90.5px,#b42317 91.5px,#d32c1b 92.5px,#ed772c 93.5px,#f2d33f 94.5px,#f3c73c 96.5px,#efea46 111.5px,#ddf053 178px)"></i><i style="top:94px;background:linear-gradient(90deg,#9df18d 0,#a1f189 60.5px,#abf37f 71.5px,#c5f665 83.5px,#ddf054 84.5px,#f1e143 86.5px,#f29c33 87.5px,#de3e20 88.5px,#b62317 89.5px,#b02216 90.5px,#b42317 91.5px,#d42e1c 92.5px,#ee7b2d 93.5px,#f1d640 94.5px,#eaec4a 109.5px,#dbf055 178px)"></i><i style="top:95px;background:linear-gradient(90deg,#9bf18f 0,#a0f18a 60.5px,#abf37f 71.5px,#c6f664 83.5px,#ddf053 84.5px,#f1e043 86.5px,#f19932 87.5px,#dc3c20 88.5px,#b62317 89.5px,#af2216 90.5px,#b42317 91.5px,#d5301c 92.5px,#ee7f2d 93.5px,#f1d841 94.5px,#f2d440 96.5px,#f0ea46 104.5px,#e8ed4c 111.5px,#dbf055 178px)"></i><i style="top:96px;background:linear-gradient(90deg,#a7f283 0,#9ef18c 30.5px,#a2f288 56.5px,#aef37c 69.5px,#d0f45d 83.5px,#e7ed4c 85.5px,#f1df43 86.5px,#f19431 87.5px,#db3a1f 88.5px,#b62317 89.5px,#af2216 90.5px,#b52317 91.5px,#d6321d 92.5px,#ef822e 93.5px,#f2ca3d 94.5px,#f3bc39 96.5px,#f1dd42 110.5px,#f0e845 120.5px,#e3ee4f 178px)"></i><i style="top:97px;background:linear-gradient(90deg,#abf37f 0,#9ff18b 30.5px,#a3f287 55.5px,#b1f379 69.5px,#d4f25a 83.5px,#e8ed4c 85.5px,#f1de42 86.5px,#f19030 87.5px,#da391f 88.5px,#b52317 89.5px,#af2216 90.5px,#b52317 91.5px,#d7341d 92.5px,#f0852e 93.5px,#f3c13a 94.5px,#f2b137 96.5px,#f2cf3e 108.5px,#f1db42 117.5px,#f0e946 155.5px,#e6ed4d 178px)"></i><i style="top:98px;background:linear-gradient(90deg,#9ef18c 0,#a0f18a 59.5px,#abf37f 70.5px,#cef45e 83.5px,#e8ec4c 85.5px,#f1dd42 86.5px,#f18d30 87.5px,#da381e 88.5px,#b52317 89.5px,#af2216 90.5px,#b52317 91.5px,#d8351e 92.5px,#f0882f 93.5px,#f1d640 94.5px,#f2ca3d 96.5px,#eeeb48 110.5px,#efea47 141.5px,#e0ef51 178px)"></i><i style="top:99px;background:linear-gradient(90deg,#9bf18f 0,#9ff18b 60.5px,#acf37e 71.5px,#cef45e 83.5px,#e8ec4c 85.5px,#f1dc42 86.5px,#f08b2f 87.5px,#d9371e 88.5px,#b52317 89.5px,#af2216 90.5px,#b52317 91.5px,#d9361e 92.5px,#f08a2f 93.5px,#f1da42 94.5px,#f2cf3e 96.5px,#f0e946 105.5px,#f1de43 130.5px,#f0ea46 141.5px,#e5ed4e 147.5px,#dfef52 178px)"></i><i style="top:100px;background:linear-gradient(90deg,#9ef18c 0,#99f191 31.5px,#a0f18a 60.5px,#acf37e 70.5px,#d2f35b 83.5px,#e8ec4c 85.5px,#f1dc42 86.5px,#f08a2f 87.5px,#d9361e 88.5px,#b52317 89.5px,#af2216 90.5px,#b52317 91.5px,#d9361e 92.5px,#f08a2f 93.5px,#f2d440 94.5px,#f2c93c 96.5px,#f1d841 102.5px,#f2d440 127.5px,#e8ed4c 142.5px,#e1ee50 178px)"></i><i style="top:101px;background:linear-gradient(90deg,#9bf18f 0,#9ff18b 61.5px,#acf37e 71.5px,#d1f35b 83.5px,#e8ec4c 85.5px,#f1dc42 86.5px,#f08a2f 87.5px,#d9361e 88.5px,#b52317 89.5px,#af2216 90.5px,#b52317 91.5px,#d9361e 92.5px,#f08a2f 93.5px,#f3c43b 94.5px,#f2c93d 121.5px,#f0e845 134.5px,#e3ee4f 140.5px,#e0ef51 178px)"></i><i style="top:102px;background:linear-gradient(90deg,#9bf18f 0,#97f093 32.5px,#9ff18b 61.5px,#acf37e 71.5px,#d3f35a 83.5px,#e8ec4c 85.5px,#f1dd42 86.5px,#f18b2f 87.5px,#d9371e 88.5px,#b52317 89.5px,#af2216 90.5px,#b52317 91.5px,#d9361e 92.5px,#f0892f 93.5px,#f2b037 94.5px,#f3c33b 118.5px,#f0ea46 131.5px,#e3ee4f 137.5px,#e0ef51 178px)"></i><i style="top:103px;background:linear-gradient(90deg,#9cf18e 0,#97f093 32.5px,#9ff18b 61.5px,#adf37d 71.5px,#d6f258 83.5px,#e8ec4c 85.5px,#f1dd42 86.5px,#f18d30 87.5px,#da381e 88.5px,#b52317 89.5px,#af2216 90.5px,#b52317 91.5px,#d8351e 92.5px,#f0882f 93.5px,#f29e33 94.5px,#f2a134 95.5px,#f3b939 113.5px,#eeeb47 128.5px,#e5ed4e 132.5px,#e1ee50 178px)"></i><i style="top:104px;background:linear-gradient(90deg,#a0f18a 0,#98f092 32.5px,#a1f189 61.5px,#b0f37a 71.5px,#def053 84.5px,#f1de42 86.5px,#f19030 87.5px,#da391f 88.5px,#b52317 89.5px,#af2216 90.5px,#b52317 91.5px,#d7341d 92.5px,#f0852e 93.5px,#f19131 94.5px,#f3b538 110.5px,#efea47 124.5px,#e3ee4f 178px)"></i><i style="top:105px;background:linear-gradient(90deg,#a3f287 0,#99f191 31.5px,#a1f189 59.5px,#aff37b 70.5px,#ddf053 84.5px,#f1df43 86.5px,#f19431 87.5px,#db3b1f 88.5px,#b62317 89.5px,#af2216 90.5px,#b52317 91.5px,#d6321d 92.5px,#ef822e 93.5px,#f18b2f 94.5px,#f3b438 107.5px,#f0ea46 120.5px,#e5ed4e 178px)"></i><i style="top:106px;background:linear-gradient(90deg,#a1f189 0,#99f191 32.5px,#a1f189 60.5px,#aef37c 70.5px,#ddf053 84.5px,#f1e043 86.5px,#f19932 87.5px,#dc3c20 88.5px,#b62317 89.5px,#b02216 90.5px,#b42317 91.5px,#d5301c 92.5px,#ee7f2d 93.5px,#f08a2f 94.5px,#f0e946 116.5px,#e4ee4e 178px)"></i><i style="top:107px;background:linear-gradient(90deg,#a1f289 0,#99f191 32.5px,#a1f289 60.5px,#aef37c 70.5px,#ddf054 84.5px,#f1e143 86.5px,#f29c33 87.5px,#de3e20 88.5px,#b62317 89.5px,#b02216 90.5px,#b42317 91.5px,#d42f1c 92.5px,#ee7b2d 93.5px,#f18f30 94.5px,#efea47 113.5px,#e4ee4e 178px)"></i><i style="top:108px;background:linear-gradient(90deg,#9ef18c 0,#98f092 32.5px,#a1f189 61.5px,#aff37b 71.5px,#dcf054 84.5px,#f1e244 86.5px,#f29f33 87.5px,#df4021 88.5px,#b62317 89.5px,#b02216 90.5px,#b42317 91.5px,#d32d1b 92.5px,#ed772c 93.5px,#f29b33 94.5px,#efea46 109.5px,#e5ed4e 121.5px,#e2ee50 178px)"></i><i style="top:109px;background:linear-gradient(90deg,#9cf18e 0,#97f093 32.5px,#a0f18a 61.5px,#adf37d 71.5px,#d6f258 84.5px,#f1e344 86.5px,#f2a234 87.5px,#e04221 88.5px,#b72317 89.5px,#b02216 90.5px,#b42317 91.5px,#d22b1b 92.5px,#ed742b 93.5px,#f2ab36 94.5px,#f0ea46 105.5px,#e1ee50 121.5px,#e0ef51 178px)"></i><i style="top:110px;background:linear-gradient(90deg,#94f097 0,#9ef18c 63.5px,#a8f282 71.5px,#cef45e 84.5px,#e6ed4d 85.5px,#f0e444 86.5px,#f2a434 87.5px,#e14322 88.5px,#b72317 89.5px,#b02216 90.5px,#b42317 91.5px,#d12a1b 92.5px,#ec712b 93.5px,#f3c03a 94.5px,#efea47 102.5px,#def053 110.5px,#d7f258 121.5px,#dbf055 178px)"></i><i style="top:111px;background:linear-gradient(90deg,#97f093 0,#9ff18b 62.5px,#aaf380 71.5px,#cff45d 84.5px,#f0e444 86.5px,#f2a635 87.5px,#e24522 88.5px,#b72317 89.5px,#b02216 90.5px,#b42317 91.5px,#d12a1a 92.5px,#ec6f2a 93.5px,#f2cd3e 94.5px,#f0e946 98.5px,#d9f156 121.5px,#dcf054 178px)"></i><i style="top:112px;background:linear-gradient(90deg,#a0f18a 0,#9af190 31.5px,#a1f289 59.5px,#adf37d 70.5px,#d3f35a 84.5px,#f0e545 86.5px,#f2a835 87.5px,#e24522 88.5px,#b72317 89.5px,#b12216 90.5px,#b32217 91.5px,#d1291a 92.5px,#ec6d2a 93.5px,#f2cc3d 94.5px,#f1d740 95.5px,#f0ea46 104.5px,#e9ec4b 110.5px,#e1ef51 178px)"></i><i style="top:113px;background:linear-gradient(90deg,#a0f18a 0,#9bf18f 31.5px,#a2f288 59.5px,#adf37d 70.5px,#d1f35c 84.5px,#f0e545 86.5px,#f2a835 87.5px,#e24622 88.5px,#b72317 89.5px,#b12216 90.5px,#b32217 91.5px,#d1291a 92.5px,#eb6d2a 93.5px,#f2cc3d 94.5px,#f1d941 95.5px,#f0ea46 103.5px,#e7ed4d 111.5px,#e0ef51 178px)"></i><i style="top:114px;background:linear-gradient(90deg,#a4f286 0,#9df18d 30.5px,#a3f287 58.5px,#b0f37a 70.5px,#d2f35b 84.5px,#f0e545 86.5px,#f2a835 87.5px,#e24622 88.5px,#b72317 89.5px,#b12216 90.5px,#b32217 91.5px,#d1291a 92.5px,#eb6d2a 93.5px,#f2cb3d 94.5px,#f1d540 95.5px,#ebeb49 109.5px,#e1ee50 178px)"></i><i style="top:115px;background:linear-gradient(90deg,#a7f283 0,#9ff18b 30.5px,#a4f286 56.5px,#b0f37a 69.5px,#d2f35b 84.5px,#f0e545 86.5px,#f2a835 87.5px,#e24622 88.5px,#b72317 89.5px,#b12216 90.5px,#b32217 91.5px,#d1291a 92.5px,#ec6d2a 93.5px,#f2cc3d 94.5px,#f2d23f 95.5px,#f0ea46 107.5px,#e2ee50 178px)"></i><i style="top:116px;background:linear-gradient(90deg,#abf37f 0,#a1f289 29.5px,#a5f285 55.5px,#b1f379 68.5px,#d3f35a 84.5px,#f0e444 86.5px,#f2a735 87.5px,#e24522 88.5px,#b72317 89.5px,#b12216 90.5px,#b32217 91.5px,#d12a1a 92.5px,#ec6e2a 93.5px,#f2cd3e 94.5px,#f0ea46 109.5px,#e3ee4f 178px)"></i><i style="top:117px;background:linear-gradient(90deg,#abf37f 0,#a2f288 29.5px,#a6f284 55.5px,#b1f379 68.5px,#d2f35b 84.5px,#f0e444 86.5px,#f2a535 87.5px,#e14422 88.5px,#b72317 89.5px,#b02216 90.5px,#b42317 91.5px,#d12a1b 92.5px,#ec702b 93.5px,#f2ce3e 94.5px,#f2d13f 95.5px,#f0ea46 108.5px,#e2ee50 178px)"></i><i style="top:118px;background:linear-gradient(90deg,#abf37f 0,#a2f288 30.5px,#a7f283 56.5px,#b3f477 69.5px,#d1f35c 84.5px,#f0e444 86.5px,#f2a434 87.5px,#e14322 88.5px,#b72317 89.5px,#b02216 90.5px,#b42317 91.5px,#d22b1b 92.5px,#ec722b 93.5px,#f2cf3e 94.5px,#f1d640 95.5px,#edeb48 108.5px,#e1ef51 178px)"></i><i style="top:119px;background:linear-gradient(90deg,#a6f284 0,#a7f283 57.5px,#b1f379 69.5px,#cdf45e 84.5px,#e6ed4d 85.5px,#f0e344 86.5px,#f2a334 87.5px,#e04221 88.5px,#b72317 89.5px,#b02216 90.5px,#b42317 91.5px,#d22b1b 92.5px,#ed732b 93.5px,#f2d03f 94.5px,#f1e143 95.5px,#dfef52 120.5px,#ddf053 178px)"></i><i style="top:120px;background:linear-gradient(90deg,#a3f287 0,#a7f283 59.5px,#c9f661 83.5px,#f1e344 86.5px,#f2a134 87.5px,#e04221 88.5px,#b72317 89.5px,#b02216 90.5px,#b42317 91.5px,#d22b1b 92.5px,#ed752b 93.5px,#f2d13f 94.5px,#f0ea46 95.5px,#d9f156 120.5px,#daf155 178px)"></i><i style="top:121px;background:linear-gradient(90deg,#a3f287 0,#a8f282 59.5px,#c9f661 83.5px,#f1e244 86.5px,#f2a034 87.5px,#df4121 88.5px,#b62317 89.5px,#b02216 90.5px,#b42317 91.5px,#d22c1b 92.5px,#ed762c 93.5px,#f2d23f 94.5px,#efea47 95.5px,#d8f157 120.5px,#d9f156 178px)"></i><i style="top:122px;background:linear-gradient(90deg,#a4f286 0,#aaf280 59.5px,#caf561 83.5px,#f1e244 86.5px,#f2a034 87.5px,#df4121 88.5px,#b62317 89.5px,#b02216 90.5px,#b42317 91.5px,#d32c1b 92.5px,#ed772c 93.5px,#f2d33f 94.5px,#efea47 95.5px,#d7f157 120.5px,#d9f156 178px)"></i><i style="top:123px;background:linear-gradient(90deg,#a4f286 0,#abf37f 60.5px,#c9f661 83.5px,#f1e244 86.5px,#f2a034 87.5px,#df4121 88.5px,#b62317 89.5px,#b02216 90.5px,#b42317 91.5px,#d32c1b 92.5px,#ed772c 93.5px,#f2d33f 94.5px,#edeb48 95.5px,#d5f259 121.5px,#d7f157 178px)"></i><i style="top:124px;background:linear-gradient(90deg,#a8f282 0,#adf37d 59.5px,#ccf55f 83.5px,#f1e244 86.5px,#f2a034 87.5px,#df4121 88.5px,#b62317 89.5px,#b02216 90.5px,#b42317 91.5px,#d22c1b 92.5px,#ed762c 93.5px,#f2d23f 94.5px,#efea47 95.5px,#d8f157 120.5px,#d8f157 178px)"></i><i style="top:125px;background:linear-gradient(90deg,#adf37d 0,#aff37b 58.5px,#cff45d 83.5px,#f1e244 86.5px,#f2a134 87.5px,#df4121 88.5px,#b62317 89.5px,#b02216 90.5px,#b42317 91.5px,#d22c1b 92.5px,#ed752c 93.5px,#f2d23f 94.5px,#f0e645 95.5px,#dbf054 120.5px,#daf156 178px)"></i><i style="top:126px;background:linear-gradient(90deg,#aff37b 0,#b1f379 58.5px,#d2f35b 84.5px,#f1e344 86.5px,#f2a234 87.5px,#e04221 88.5px,#b72317 89.5px,#b02216 90.5px,#b42317 91.5px,#d22b1b 92.5px,#ed742b 93.5px,#f2d13f 94.5px,#f0e444 95.5px,#ddf054 120.5px,#daf156 178px)"></i><i style="top:127px;background:linear-gradient(90deg,#acf37e 0,#b2f378 60.5px,#d0f45c 84.5px,#f0e344 86.5px,#f2a334 87.5px,#e04321 88.5px,#b72317 89.5px,#b02216 90.5px,#b42317 91.5px,#d22b1b 92.5px,#ec732b 93.5px,#f2d03e 94.5px,#efea47 95.5px,#d7f157 120.5px,#d7f258 178px)"></i><i style="top:128px;background:linear-gradient(90deg,#bbf56f 0,#c5f665 60.5px,#ddf054 84.5px,#f0e444 86.5px,#f2a535 87.5px,#e14422 88.5px,#b72317 89.5px,#b02216 90.5px,#b42317 91.5px,#d12a1b 92.5px,#ec712b 93.5px,#f2ce3e 94.5px,#eceb49 95.5px,#d1f35c 121.5px,#d4f25a 178px)"></i><i style="top:129px;background:linear-gradient(90deg,#b0f37a 0,#b6f474 59.5px,#d4f35a 84.5px,#f0e444 86.5px,#f2a635 87.5px,#e24522 88.5px,#b72317 89.5px,#b02216 90.5px,#b32317 91.5px,#d12a1a 92.5px,#ec6f2a 93.5px,#f2cd3e 94.5px,#f0e946 95.5px,#d9f156 120.5px,#d7f258 178px)"></i><i style="top:130px;background:linear-gradient(90deg,#b7f473 0,#b9f471 57.5px,#d9f156 84.5px,#f0e545 86.5px,#f2a835 87.5px,#e24622 88.5px,#b72317 89.5px,#b12216 90.5px,#b32217 91.5px,#d1291a 92.5px,#eb6d2a 93.5px,#f2cc3d 94.5px,#f1de43 95.5px,#e3ee4f 113.5px,#daf156 178px)"></i><i style="top:131px;background:linear-gradient(90deg,#bcf56e 0,#bcf56e 56.5px,#dcf054 84.5px,#f0e545 86.5px,#f2a935 87.5px,#e34722 88.5px,#b72317 89.5px,#b12216 90.5px,#b32217 91.5px,#d0291a 92.5px,#eb6b2a 93.5px,#f2cb3d 94.5px,#f1d741 95.5px,#eaec4a 109.5px,#dbf054 178px)"></i><i style="top:132px;background:linear-gradient(90deg,#baf470 0,#bdf56d 57.5px,#dcf054 84.5px,#f0e645 86.5px,#f2ab36 87.5px,#e34723 88.5px,#b82317 89.5px,#b12216 90.5px,#b32217 91.5px,#d0281a 92.5px,#eb6a29 93.5px,#f2ca3d 94.5px,#f1db42 95.5px,#efea47 103.5px,#e6ed4d 111.5px,#daf156 178px)"></i><i style="top:133px;background:linear-gradient(90deg,#b5f475 0,#bef56c 59.5px,#daf156 84.5px,#f0e645 86.5px,#f2ac36 87.5px,#e34823 88.5px,#b92317 89.5px,#b12216 90.5px,#b32217 91.5px,#d0281a 92.5px,#eb6929 93.5px,#f2c93d 94.5px,#f0e444 95.5px,#d9f156 121.5px,#d6f258 178px)"></i><i style="top:134px;background:linear-gradient(90deg,#c5f665 0,#ccf55f 60.5px,#e7ed4c 85.5px,#f0e645 86.5px,#f2ac36 87.5px,#e44823 88.5px,#b92417 89.5px,#b12216 90.5px,#b32217 91.5px,#d0281a 92.5px,#eb6829 93.5px,#f2c83c 94.5px,#f0e946 107.5px,#e5ed4e 124.5px,#e1ef51 178px)"></i><i style="top:135px;background:linear-gradient(90deg,#c4f666 0,#c5f665 55.5px,#e6ed4d 85.5px,#f0e645 86.5px,#f2ac36 87.5px,#e44823 88.5px,#b92417 89.5px,#b12216 90.5px,#b32217 91.5px,#d0281a 92.5px,#eb6829 93.5px,#f2c83c 94.5px,#f2cb3d 95.5px,#f0ea46 109.5px,#dcf054 178px)"></i><i style="top:136px;background:linear-gradient(90deg,#c6f664 0,#c7f663 54.5px,#d0f45d 68.5px,#e9ec4b 85.5px,#f0e645 86.5px,#f2ac36 87.5px,#e44823 88.5px,#b92417 89.5px,#b12216 90.5px,#b32217 91.5px,#d0281a 92.5px,#eb6829 93.5px,#f2c83c 94.5px,#efea46 111.5px,#ddf053 178px)"></i><i style="top:137px;background:linear-gradient(90deg,#caf561 0,#cbf560 57.5px,#edeb48 85.5px,#f0e645 86.5px,#f2ac36 87.5px,#e44823 88.5px,#b92417 89.5px,#b12216 90.5px,#b32217 91.5px,#d0281a 92.5px,#eb6829 93.5px,#f3c23b 94.5px,#f3be3a 96.5px,#f0ea46 117.5px,#dfef52 178px)"></i><i style="top:138px;background:linear-gradient(90deg,#caf561 0,#cdf55f 57.5px,#eeeb47 85.5px,#f0e645 86.5px,#f2ab36 87.5px,#e34823 88.5px,#b82317 89.5px,#b12216 90.5px,#b32217 91.5px,#d0281a 92.5px,#eb6929 93.5px,#f3c23b 94.5px,#f3be3a 96.5px,#f0ea46 116.5px,#deef53 178px)"></i><i style="top:139px;background:linear-gradient(90deg,#c1f569 0,#cdf55f 60.5px,#e9ec4b 85.5px,#f0e645 86.5px,#f2aa36 87.5px,#e34723 88.5px,#b82317 89.5px,#b12216 90.5px,#b32217 91.5px,#d0291a 92.5px,#eb6a2a 93.5px,#f2ca3d 94.5px,#f0e845 105.5px,#e2ee50 123.5px,#d8f157 178px)"></i><i style="top:140px;background:linear-gradient(90deg,#c3f567 0,#cff45d 60.5px,#eceb49 85.5px,#f0e545 86.5px,#f2a935 87.5px,#e24622 88.5px,#b72317 89.5px,#b12216 90.5px,#b32217 91.5px,#d1291a 92.5px,#eb6c2a 93.5px,#f2cb3d 94.5px,#f2cb3d 97.5px,#efea47 108.5px,#e3ee4f 124.5px,#d9f156 178px)"></i><i style="top:141px;background:linear-gradient(90deg,#c7f663 0,#d2f35b 59.5px,#f0e946 85.5px,#f0e544 86.5px,#f2a835 87.5px,#e24522 88.5px,#b72317 89.5px,#b12216 90.5px,#b32217 91.5px,#d1291a 92.5px,#ec6d2a 93.5px,#f3c33b 94.5px,#f3c33b 97.5px,#f0ea46 111.5px,#daf155 178px)"></i><i style="top:142px;background:linear-gradient(90deg,#c9f661 0,#d4f25a 58.5px,#f0ea46 82.5px,#f1de43 86.5px,#f2a635 87.5px,#e14422 88.5px,#b72317 89.5px,#b02216 90.5px,#b42317 91.5px,#d12a1b 92.5px,#ec6f2a 93.5px,#f3bd39 94.5px,#f3ba39 96.5px,#efea46 114.5px,#dbf055 178px)"></i><i style="top:143px;background:linear-gradient(90deg,#caf661 0,#d6f258 57.5px,#f0e845 81.5px,#f1d841 86.5px,#f2a434 87.5px,#e14322 88.5px,#b72317 89.5px,#b02216 90.5px,#b42317 91.5px,#d12a1b 92.5px,#ec712b 93.5px,#f3b838 94.5px,#f3b538 96.5px,#f1e244 111.5px,#efea47 116.5px,#dbf055 178px)"></i><i style="top:144px;background:linear-gradient(90deg,#caf661 0,#d7f157 56.5px,#f0ea46 79.5px,#f2d440 86.5px,#f2a234 87.5px,#e04221 88.5px,#b72317 89.5px,#b02216 90.5px,#b42317 91.5px,#d22b1b 92.5px,#ed742b 93.5px,#f3b538 94.5px,#f2b337 96.5px,#f0e344 112.5px,#eeeb47 118.5px,#dbf055 178px)"></i><i style="top:145px;background:linear-gradient(90deg,#c8f662 0,#d9f156 57.5px,#efea46 78.5px,#f2d33f 86.5px,#f2a034 87.5px,#df4121 88.5px,#b62317 89.5px,#b02216 90.5px,#b42317 91.5px,#d22c1b 92.5px,#ed762c 93.5px,#f3b538 94.5px,#f2b337 96.5px,#f0e645 112.5px,#daf156 178px)"></i><i style="top:146px;background:linear-gradient(90deg,#c5f665 0,#dbf054 59.5px,#f0ea46 78.5px,#f2d440 86.5px,#f29e33 87.5px,#de3f20 88.5px,#b62317 89.5px,#b02216 90.5px,#b42317 91.5px,#d32d1c 92.5px,#ed792c 93.5px,#f3b939 94.5px,#f3b838 96.5px,#f0e845 110.5px,#dfef52 135.5px,#d7f157 178px)"></i><i style="top:147px;background:linear-gradient(90deg,#c8f662 0,#ddf054 55.5px,#f0ea46 75.5px,#f2c93d 86.5px,#f29b33 87.5px,#dd3e20 88.5px,#b62317 89.5px,#b02216 90.5px,#b42317 91.5px,#d42f1c 92.5px,#ee7c2d 93.5px,#f2ac36 94.5px,#f2ac36 96.5px,#f0e745 114.5px,#d9f156 178px)"></i><i style="top:148px;background:linear-gradient(90deg,#caf560 0,#deef53 52.5px,#f0ea46 73.5px,#f3c13a 86.5px,#f19932 87.5px,#dc3c20 88.5px,#b62317 89.5px,#af2216 90.5px,#b52317 91.5px,#d5311c 92.5px,#ef7f2d 93.5px,#f2a334 94.5px,#f2a535 97.5px,#f1e043 114.5px,#f0ea46 119.5px,#dbf055 178px)"></i><i style="top:149px;background:linear-gradient(90deg,#cdf45e 0,#dcf054 44.5px,#f0ea46 70.5px,#f3b438 86.5px,#f19431 87.5px,#db3a1f 88.5px,#b62317 89.5px,#af2216 90.5px,#b52317 91.5px,#d6331d 92.5px,#ef832e 93.5px,#f19732 94.5px,#f19932 97.5px,#f1d640 114.5px,#f0ea46 126.5px,#ddf054 178px)"></i><i style="top:150px;background:linear-gradient(90deg,#cff45d 0,#f0e946 68.5px,#f2ab36 86.5px,#f18e30 87.5px,#da381f 88.5px,#b52317 89.5px,#af2216 90.5px,#b52317 91.5px,#d8341d 92.5px,#f0862f 93.5px,#f18e30 94.5px,#f19131 97.5px,#f2d23f 115.5px,#f0ea46 130.5px,#deef53 178px)"></i><i style="top:151px;background:linear-gradient(90deg,#d3f35a 0,#f0e745 65.5px,#f29c33 86.5px,#f08a2f 87.5px,#d9361e 88.5px,#b52317 89.5px,#af2216 90.5px,#b52317 91.5px,#d9361e 92.5px,#ef842e 93.5px,#f18f30 101.5px,#f3c33b 115.5px,#f0ea46 141.5px,#e1ef51 178px)"></i><i style="top:152px;background:linear-gradient(90deg,#d5f259 0,#eceb49 56.5px,#f1e344 64.5px,#f3c43b 74.5px,#f19131 86.5px,#f0862f 87.5px,#d8341d 88.5px,#b52317 89.5px,#af2216 90.5px,#b52317 91.5px,#da381f 92.5px,#ee7d2d 93.5px,#f0872f 101.5px,#f3c13a 118.5px,#f0ea46 147.5px,#e2ee4f 178px)"></i><i style="top:153px;background:linear-gradient(90deg,#d5f259 0,#efea47 58.5px,#f1e144 63.5px,#f3c43b 73.5px,#f18d30 86.5px,#ef822e 87.5px,#d6321d 88.5px,#b52317 89.5px,#af2216 90.5px,#b62317 91.5px,#db3b1f 92.5px,#ee7c2d 93.5px,#f0862f 101.5px,#f3c13a 118.5px,#f0ea46 145.5px,#e2ee50 178px)"></i><i style="top:154px;background:linear-gradient(90deg,#d5f259 0,#f0ea46 57.5px,#f1de43 63.5px,#f3c03a 73.5px,#f08b2f 86.5px,#ee7e2d 87.5px,#d5301c 88.5px,#b42317 89.5px,#b02216 90.5px,#b62317 91.5px,#dd3d20 92.5px,#ee792c 93.5px,#ef842e 101.5px,#f3c03a 118.5px,#f0ea46 144.5px,#e2ee50 178px)"></i><i style="top:155px;background:linear-gradient(90deg,#d4f25a 0,#f0ea46 56.5px,#f1dc42 63.5px,#f3c13a 72.5px,#f0892f 86.5px,#ee7b2c 87.5px,#d42e1c 88.5px,#b42317 89.5px,#b02216 90.5px,#b62317 91.5px,#de3e20 92.5px,#ed782c 93.5px,#ef842e 101.5px,#f3c23a 118.5px,#f0ea46 142.5px,#e1ee50 178px)"></i><i style="top:156px;background:linear-gradient(90deg,#d2f35b 0,#f0ea46 55.5px,#f1db42 63.5px,#f0892f 86.5px,#ed772c 87.5px,#d32d1b 88.5px,#b42317 89.5px,#b02216 90.5px,#b62317 91.5px,#df4021 92.5px,#ed792c 93.5px,#f0882f 102.5px,#f3c53b 118.5px,#f0ea46 139.5px,#e0ef51 178px)"></i><i style="top:157px;background:linear-gradient(90deg,#d3f35b 0,#f0ea46 54.5px,#f1db42 62.5px,#f3c13a 71.5px,#f0872f 86.5px,#ed752b 87.5px,#d22b1b 88.5px,#b42317 89.5px,#b02216 90.5px,#b72317 91.5px,#e04221 92.5px,#ed772c 93.5px,#ef842e 101.5px,#f3c63c 119.5px,#f0ea46 139.5px,#e0ef51 178px)"></i><i style="top:158px;background:linear-gradient(90deg,#d3f35a 0,#efea46 53.5px,#f1d941 62.5px,#ef852e 86.5px,#ec732b 87.5px,#d22b1b 88.5px,#b42317 89.5px,#b02216 90.5px,#b72317 91.5px,#e04321 92.5px,#ed752b 93.5px,#ef822e 101.5px,#f3c43b 119.5px,#f0ea46 140.5px,#e0ef51 178px)"></i><i style="top:159px;background:linear-gradient(90deg,#d5f259 0,#f0ea46 53.5px,#f1d941 61.5px,#f3c03a 70.5px,#f18d30 81.5px,#ef812e 86.5px,#ec712b 87.5px,#d22a1b 88.5px,#b42317 89.5px,#b02216 90.5px,#b72317 91.5px,#e14322 92.5px,#ec712b 93.5px,#ee7d2d 101.5px,#f3c03a 120.5px,#f0ea46 144.5px,#e1ef51 178px)"></i><i style="top:160px;background:linear-gradient(90deg,#d5f259 0,#f0ea46 53.5px,#f1dc42 60.5px,#f3c03a 70.5px,#f18d30 81.5px,#ef802d 86.5px,#ec712b 87.5px,#d12a1b 88.5px,#b42317 89.5px,#b02216 90.5px,#b72317 91.5px,#e14322 92.5px,#ec702b 93.5px,#ee7d2d 101.5px,#f3c03a 120.5px,#f0ea46 144.5px,#e0ef51 178px)"></i><i style="top:161px;background:linear-gradient(90deg,#d3f35a 0,#f0ea46 54.5px,#f1de43 60.5px,#f3c23b 70.5px,#f18f30 81.5px,#ef822e 86.5px,#ec722b 87.5px,#d22b1b 88.5px,#b42317 89.5px,#b02216 90.5px,#b72317 91.5px,#e14322 92.5px,#ec732b 93.5px,#ef7f2d 101.5px,#f3c43b 120.5px,#f0ea46 141.5px,#dfef52 178px)"></i><i style="top:162px;background:linear-gradient(90deg,#cff45d 0,#efea46 56.5px,#f1df43 62.5px,#f3c13a 72.5px,#f0892f 86.5px,#ed742b 87.5px,#d22b1b 88.5px,#b42317 89.5px,#b02216 90.5px,#b72317 91.5px,#e04221 92.5px,#ee7b2c 93.5px,#f18b30 102.5px,#f3bc39 113.5px,#f2d13f 120.5px,#f0ea46 133.5px,#dcf054 178px)"></i><i style="top:163px;background:linear-gradient(90deg,#d1f35c 0,#f0ea46 57.5px,#f1e144 61.5px,#f3c43b 71.5px,#f0872f 86.5px,#ed762c 87.5px,#d22c1b 88.5px,#b42317 89.5px,#b02216 90.5px,#b62317 91.5px,#df4121 92.5px,#ed782c 93.5px,#f0872f 102.5px,#f2ca3d 120.5px,#f0ea46 137.5px,#ddf054 178px)"></i><i style="top:164px;background:linear-gradient(90deg,#cdf55f 0,#f0e645 62.5px,#f2c83c 72.5px,#f18f30 86.5px,#ee7a2c 87.5px,#d32e1c 88.5px,#b42317 89.5px,#b02216 90.5px,#b62317 91.5px,#de3f20 92.5px,#ef802e 93.5px,#f18e30 101.5px,#f3c13a 112.5px,#f1d741 120.5px,#efea47 130.5px,#d9f156 178px)"></i></div><div class="hm" style="left:455px;top:8px"><i style="top:0px;background:linear-gradient(90deg,#d6f258 0,#cdf45e 10.5px,#d1f35c 21.5px,#f0e946 62.5px,#f18e30 87.5px,#eb6829 88.5px,#c72619 89.5px,#c42619 90.5px,#cf281a 92.5px,#f18c30 93.5px,#f19732 98.5px,#f2c83c 110.5px,#f0e845 121.5px,#cdf55f 178px)"></i><i style="top:1px;background:linear-gradient(90deg,#d4f25a 0,#d0f45d 19.5px,#f0e946 62.5px,#f19030 87.5px,#e96028 88.5px,#c72619 89.5px,#c42618 90.5px,#d0291a 92.5px,#f18f30 93.5px,#f0ea46 119.5px,#d7f157 146.5px,#c9f661 178px)"></i><i style="top:2px;background:linear-gradient(90deg,#d2f35b 0,#cef45e 17.5px,#f0e946 62.5px,#f19331 87.5px,#e85726 88.5px,#c62619 89.5px,#c32618 90.5px,#d12a1b 92.5px,#f19331 93.5px,#f0e846 116.5px,#d4f259 144.5px,#c5f665 178px)"></i><i style="top:3px;background:linear-gradient(90deg,#d4f35a 0,#cff45d 17.5px,#f0ea46 60.5px,#f18c30 87.5px,#e75025 88.5px,#c62619 89.5px,#c32618 90.5px,#d22b1b 92.5px,#f18c30 93.5px,#f19832 98.5px,#f0ea46 119.5px,#d6f258 146.5px,#c8f662 178px)"></i><i style="top:4px;background:linear-gradient(90deg,#d5f259 0,#d0f45c 17.5px,#f0e946 59.5px,#f3c33b 71.5px,#f18f30 83.5px,#f0882f 87.5px,#e54a23 88.5px,#c62619 89.5px,#c32618 90.5px,#d22c1b 92.5px,#f0872f 93.5px,#f19030 98.5px,#f3c53b 110.5px,#f0e946 121.5px,#d8f157 148.5px,#caf561 178px)"></i><i style="top:5px;background:linear-gradient(90deg,#d7f258 0,#d1f35b 17.5px,#f0ea46 57.5px,#f3c23b 70.5px,#f18f30 81.5px,#ef822e 87.5px,#e34622 88.5px,#c62619 89.5px,#c32618 90.5px,#d32d1b 92.5px,#ef812e 93.5px,#f18e30 100.5px,#f3c33b 112.5px,#f0e946 125.5px,#cdf45e 178px)"></i><i style="top:6px;background:linear-gradient(90deg,#d7f258 0,#d2f35b 17.5px,#f0e946 57.5px,#f3c13a 70.5px,#f18d30 81.5px,#ef812e 87.5px,#d6331d 88.5px,#c62619 89.5px,#c32518 90.5px,#d32d1b 92.5px,#ef802d 93.5px,#f18c30 100.5px,#f3c23a 112.5px,#f0e745 125.5px,#cef45e 178px)"></i><i style="top:7px;background:linear-gradient(90deg,#d8f157 0,#d2f35b 17.5px,#f0e845 57.5px,#f3c33b 69.5px,#f18f30 80.5px,#ee7f2d 87.5px,#d6321d 88.5px,#c62619 89.5px,#c32518 90.5px,#d42e1c 92.5px,#ee7d2d 93.5px,#f18d30 101.5px,#f3c13a 113.5px,#f1e143 124.5px,#f0ea46 128.5px,#cff45d 178px)"></i><i style="top:8px;background:linear-gradient(90deg,#d4f259 0,#d0f45d 16.5px,#f0e846 59.5px,#f3c33b 71.5px,#f18f30 83.5px,#f0882f 87.5px,#d6321d 88.5px,#c62619 89.5px,#c32518 90.5px,#d42e1c 92.5px,#f0872f 93.5px,#f19030 98.5px,#f3c63c 110.5px,#f0ea46 121.5px,#d7f157 147.5px,#c9f661 178px)"></i><i style="top:9px;background:linear-gradient(90deg,#d5f259 0,#d0f45c 17.5px,#f0e846 59.5px,#f3c23b 71.5px,#f18e30 83.5px,#f0872f 87.5px,#d6311d 88.5px,#c62619 89.5px,#c32518 90.5px,#d42e1c 92.5px,#f0862f 93.5px,#f18e30 98.5px,#f3c43b 110.5px,#f0ea46 122.5px,#d8f157 148.5px,#cbf560 178px)"></i><i style="top:10px;background:linear-gradient(90deg,#d5f259 0,#d0f45d 17.5px,#f0e845 60.5px,#f0892f 87.5px,#d6311d 88.5px,#c62619 89.5px,#c32518 90.5px,#d42e1c 92.5px,#f0892f 93.5px,#f19231 98.5px,#f3c73c 110.5px,#f0ea46 121.5px,#d8f157 147.5px,#caf561 178px)"></i><i style="top:11px;background:linear-gradient(90deg,#d1f35c 0,#cdf45e 17.5px,#f0e846 63.5px,#f19732 87.5px,#d6321d 88.5px,#c62619 89.5px,#c32518 90.5px,#d42e1c 92.5px,#f19832 93.5px,#f0ea46 115.5px,#d3f35b 142.5px,#c2f568 178px)"></i><i style="top:12px;background:linear-gradient(90deg,#d0f45c 0,#cdf45e 19.5px,#f0e946 64.5px,#f29d33 87.5px,#d6321d 88.5px,#c62619 89.5px,#c32518 90.5px,#d42e1c 92.5px,#f29d33 93.5px,#f0e845 113.5px,#d2f35b 141.5px,#c1f569 178px)"></i><i style="top:13px;background:linear-gradient(90deg,#d4f25a 0,#cbf560 10.5px,#d0f45c 22.5px,#f0e845 63.5px,#f19231 87.5px,#d6321d 88.5px,#c62619 89.5px,#c32518 90.5px,#d32d1b 92.5px,#f19131 93.5px,#f0e845 118.5px,#d8f157 146.5px,#caf560 178px)"></i><i style="top:14px;background:linear-gradient(90deg,#d3f35a 0,#cbf560 10.5px,#d0f45c 24.5px,#f0ea46 64.5px,#f19932 87.5px,#e34723 88.5px,#c62619 89.5px,#c32618 90.5px,#d32d1b 92.5px,#f19732 93.5px,#f0e946 117.5px,#d7f157 145.5px,#caf661 178px)"></i><i style="top:15px;background:linear-gradient(90deg,#d1f35c 0,#c9f662 10.5px,#cff45d 26.5px,#f0e846 67.5px,#f2a535 87.5px,#e54a23 88.5px,#c62619 89.5px,#c32618 90.5px,#d22c1b 92.5px,#f2a434 93.5px,#f0e946 113.5px,#d5f259 141.5px,#c6f664 178px)"></i><i style="top:16px;background:linear-gradient(90deg,#d0f45d 0,#c7f663 10.5px,#cff45d 29.5px,#f0e845 69.5px,#f2ad36 87.5px,#e75125 88.5px,#c62619 89.5px,#c32618 90.5px,#d22b1b 92.5px,#f2ad36 93.5px,#f0e946 111.5px,#d4f25a 139.5px,#c4f666 178px)"></i><i style="top:17px;background:linear-gradient(90deg,#cdf45e 0,#c4f666 10.5px,#cff45d 34.5px,#f0ea46 71.5px,#f3ba39 87.5px,#e95b27 88.5px,#c72619 89.5px,#c32618 90.5px,#d1291a 92.5px,#f3ba39 93.5px,#f0ea46 108.5px,#d1f35b 135.5px,#c0f56a 178px)"></i><i style="top:18px;background:linear-gradient(90deg,#cdf55f 0,#c3f567 10.5px,#cdf45e 34.5px,#f0e845 73.5px,#f3c03a 87.5px,#ea6529 88.5px,#c72619 89.5px,#c42619 90.5px,#d0281a 92.5px,#f3ba39 93.5px,#f0ea46 107.5px,#d1f35b 134.5px,#c0f56a 178px)"></i><i style="top:19px;background:linear-gradient(90deg,#cbf560 0,#c1f569 10.5px,#ccf55f 35.5px,#f0e946 75.5px,#f2c93d 87.5px,#ec6f2a 88.5px,#c72619 89.5px,#c42619 90.5px,#cd271a 92.5px,#f3b738 93.5px,#f2ca3d 94.5px,#f0e845 104.5px,#d0f45c 131.5px,#bdf56d 178px)"></i><i style="top:20px;background:linear-gradient(90deg,#ccf55f 0,#c1f569 10.5px,#cbf560 35.5px,#dbf054 60.5px,#efea46 75.5px,#f2cb3d 87.5px,#ed792c 88.5px,#c72619 89.5px,#c42619 90.5px,#ca2719 92.5px,#f2b137 93.5px,#f2cb3d 94.5px,#f0ea46 105.5px,#d2f35b 131.5px,#c0f56a 178px)"></i><i style="top:21px;background:linear-gradient(90deg,#ccf55f 0,#c1f569 10.5px,#caf661 35.5px,#daf156 60.5px,#f0ea46 76.5px,#f2cd3e 87.5px,#ef842e 88.5px,#c72619 89.5px,#c42619 90.5px,#c82619 92.5px,#f2a935 93.5px,#f2cd3e 94.5px,#f0e846 104.5px,#d4f25a 130.5px,#c2f568 178px)"></i><i style="top:22px;background:linear-gradient(90deg,#d0f45d 0,#c6f664 10.5px,#cdf45e 35.5px,#dcf054 60.5px,#f0ea46 75.5px,#f2cb3d 87.5px,#f19131 88.5px,#c72619 89.5px,#c42619 90.5px,#c82619 92.5px,#f2a234 93.5px,#f2cc3d 94.5px,#f0ea46 105.5px,#d4f35a 131.5px,#c6f664 178px)"></i><i style="top:23px;background:linear-gradient(90deg,#c8f662 0,#bcf56e 10.5px,#c3f567 34.5px,#ddf053 69.5px,#f1e043 86.5px,#f1d741 87.5px,#f19a32 88.5px,#c72619 89.5px,#c42619 90.5px,#c72619 92.5px,#f19a32 93.5px,#f1d740 94.5px,#f1e143 95.5px,#f0ea46 99.5px,#cef45e 127.5px,#bdf56d 178px)"></i><i style="top:24px;background:linear-gradient(90deg,#c3f567 0,#b7f473 10.5px,#c0f56a 35.5px,#d1f35c 63.5px,#edeb48 86.5px,#f1d640 87.5px,#f19a32 88.5px,#c82619 89.5px,#c42619 91.5px,#c72619 92.5px,#f19231 93.5px,#f2d440 94.5px,#eceb49 95.5px,#c0f56a 132.5px,#b5f475 178px)"></i><i style="top:25px;background:linear-gradient(90deg,#c1f569 0,#b5f475 10.5px,#bdf56d 35.5px,#cff45d 64.5px,#ebec4a 86.5px,#f1d640 87.5px,#f19932 88.5px,#c82619 89.5px,#c42619 91.5px,#c72619 92.5px,#ef822e 93.5px,#f2d13f 94.5px,#eceb49 95.5px,#bdf56d 129.5px,#b2f378 178px)"></i><i style="top:26px;background:linear-gradient(90deg,#bef56c 0,#b2f378 10.5px,#baf470 35.5px,#cdf55f 65.5px,#ebeb49 86.5px,#f2d440 87.5px,#f19131 88.5px,#c82619 89.5px,#c42619 91.5px,#c72619 92.5px,#eb6c2a 93.5px,#f2c93d 94.5px,#eeeb47 95.5px,#e5ed4e 96.5px,#b8f472 129.5px,#aff37b 178px)"></i><i style="top:27px;background:linear-gradient(90deg,#bff56b 0,#b2f478 10.5px,#b9f471 35.5px,#ccf55f 65.5px,#eceb49 86.5px,#f2d23f 87.5px,#f0882f 88.5px,#ca2719 89.5px,#c42619 91.5px,#c72619 92.5px,#ea6228 93.5px,#f3c33b 94.5px,#f0ea46 95.5px,#e6ed4d 96.5px,#bcf56e 129.5px,#b3f477 178px)"></i><i style="top:28px;background:linear-gradient(90deg,#bff56b 0,#b2f378 10.5px,#b7f473 35.5px,#ccf55f 66.5px,#eceb49 86.5px,#f2d13f 87.5px,#ef832e 88.5px,#cb2719 89.5px,#c42619 91.5px,#c72619 92.5px,#e95d27 93.5px,#f3c03a 94.5px,#f0e946 95.5px,#e6ed4d 96.5px,#bef56c 128.5px,#b5f475 178px)"></i><i style="top:29px;background:linear-gradient(90deg,#bdf56d 0,#b0f37a 10.5px,#b5f475 35.5px,#c5f665 61.5px,#e5ed4e 85.5px,#edeb48 86.5px,#f2cd3e 87.5px,#ee7a2c 88.5px,#cc271a 89.5px,#c42619 91.5px,#c72619 92.5px,#e85726 93.5px,#f3b838 94.5px,#f0e545 95.5px,#e7ed4c 96.5px,#cff45d 108.5px,#bcf56e 126.5px,#b3f477 178px)"></i><i style="top:30px;background:linear-gradient(90deg,#bdf56d 0,#aff37b 10.5px,#b3f477 35.5px,#c3f567 61.5px,#e5ed4e 85.5px,#eeea47 86.5px,#f2c83c 87.5px,#ed732b 88.5px,#cd271a 89.5px,#c42619 91.5px,#c72619 92.5px,#e75325 93.5px,#f2b037 94.5px,#f1e144 95.5px,#e0ef51 97.5px,#bcf56e 128.5px,#b4f476 178px)"></i><i style="top:31px;background:linear-gradient(90deg,#c0f56a 0,#b1f379 10.5px,#b3f477 35.5px,#c4f666 60.5px,#e6ed4d 85.5px,#f0ea46 86.5px,#f3c33b 87.5px,#ec6e2a 88.5px,#cd281a 89.5px,#c42619 91.5px,#c72619 92.5px,#e75025 93.5px,#f2aa36 94.5px,#f1de43 95.5px,#e9ec4b 96.5px,#c7f663 125.5px,#bcf56e 178px)"></i><i style="top:32px;background:linear-gradient(90deg,#bef56c 0,#aff37b 10.5px,#b1f379 35.5px,#c2f568 61.5px,#e6ed4d 85.5px,#f0e845 86.5px,#f3be3a 87.5px,#eb6a29 88.5px,#ce281a 89.5px,#c42619 91.5px,#c72619 92.5px,#e64e24 93.5px,#f2a434 94.5px,#f1db42 95.5px,#eaec4b 96.5px,#e2ee50 97.5px,#d2f35b 108.5px,#c4f566 124.5px,#baf470 178px)"></i><i style="top:33px;background:linear-gradient(90deg,#b8f472 0,#aaf380 10.5px,#adf37d 35.5px,#bcf56e 61.5px,#daf156 84.5px,#f0e745 86.5px,#f3bd39 87.5px,#eb6929 88.5px,#ce281a 89.5px,#c42619 91.5px,#c72619 92.5px,#e64e24 93.5px,#f2a034 94.5px,#f1db42 95.5px,#eaec4a 96.5px,#d7f157 98.5px,#b3f477 128.5px,#aff37b 178px)"></i><i style="top:34px;background:linear-gradient(90deg,#b8f472 0,#a9f281 10.5px,#acf37e 35.5px,#bcf56e 62.5px,#e0ef51 84.5px,#f1e244 86.5px,#f2b037 87.5px,#ea6328 88.5px,#ce281a 89.5px,#c42619 91.5px,#c72619 92.5px,#e64c24 93.5px,#f0892f 94.5px,#f2d440 95.5px,#ebeb49 96.5px,#d7f157 98.5px,#b5f475 127.5px,#b1f379 178px)"></i><i style="top:35px;background:linear-gradient(90deg,#b1f379 0,#a4f286 10.5px,#a8f282 35.5px,#b6f474 61.5px,#d3f35a 84.5px,#f0e444 86.5px,#f3b538 87.5px,#ea6529 88.5px,#ce281a 89.5px,#c42619 91.5px,#c72619 92.5px,#e64c24 93.5px,#f1d740 95.5px,#ebec4a 96.5px,#cff45d 98.5px,#a8f282 127.5px,#a7f283 178px)"></i><i style="top:36px;background:linear-gradient(90deg,#b1f379 0,#a4f286 10.5px,#a7f283 35.5px,#b5f475 61.5px,#d2f35b 83.5px,#e9ec4b 85.5px,#f1dd42 86.5px,#e95e27 88.5px,#ce281a 89.5px,#c42619 91.5px,#c72619 92.5px,#e54b24 93.5px,#ef802d 94.5px,#f2d03e 95.5px,#eceb49 96.5px,#e4ee4e 97.5px,#cff45d 98.5px,#b3f477 114.5px,#a8f282 127.5px,#a8f282 178px)"></i><i style="top:37px;background:linear-gradient(90deg,#b3f477 0,#a5f285 10.5px,#a7f283 35.5px,#b6f474 61.5px,#d4f25a 83.5px,#eaec4a 85.5px,#f1db42 86.5px,#f19531 87.5px,#e95d27 88.5px,#cd271a 89.5px,#c42619 91.5px,#c72619 92.5px,#e54b24 93.5px,#ee7d2d 94.5px,#f2cc3e 95.5px,#edeb48 96.5px,#d2f35b 98.5px,#aef37c 127.5px,#acf37e 178px)"></i><i style="top:38px;background:linear-gradient(90deg,#b2f378 0,#a4f286 10.5px,#a6f284 35.5px,#b5f475 61.5px,#d3f35a 83.5px,#eaec4a 85.5px,#f1d841 86.5px,#f18c30 87.5px,#e85b27 88.5px,#cd271a 89.5px,#c42619 91.5px,#c72619 92.5px,#e54a24 93.5px,#ed792c 94.5px,#f2c73c 95.5px,#efea47 96.5px,#d1f35b 98.5px,#aef37c 126.5px,#adf37d 178px)"></i><i style="top:39px;background:linear-gradient(90deg,#aff37b 0,#a1f289 10.5px,#a3f287 35.5px,#b2f378 61.5px,#d0f45d 83.5px,#ebeb49 85.5px,#f2d440 86.5px,#f0852e 87.5px,#e85826 88.5px,#cd271a 89.5px,#c42619 91.5px,#c72619 92.5px,#e54a23 93.5px,#ed742b 94.5px,#f0e946 96.5px,#e6ed4d 97.5px,#cdf55f 98.5px,#b2f378 114.5px,#a7f283 127.5px,#a7f283 178px)"></i><i style="top:40px;background:linear-gradient(90deg,#aef37c 0,#a1f189 10.5px,#a3f287 35.5px,#b2f378 61.5px,#d0f45d 83.5px,#eceb49 85.5px,#f2d33f 86.5px,#ef842e 87.5px,#e85826 88.5px,#cd271a 89.5px,#c42619 91.5px,#c72619 92.5px,#e54a23 93.5px,#ed732b 94.5px,#f0e845 96.5px,#e7ed4d 97.5px,#cdf45e 98.5px,#a8f282 126.5px,#a8f282 178px)"></i><i style="top:41px;background:linear-gradient(90deg,#b0f37a 0,#a1f289 10.5px,#a3f287 35.5px,#b2f478 61.5px,#d1f35c 83.5px,#eaec4a 85.5px,#f1d741 86.5px,#f18c30 87.5px,#e85b27 88.5px,#cd271a 89.5px,#c42619 91.5px,#c72619 92.5px,#e54a24 93.5px,#ed792c 94.5px,#f3c73c 95.5px,#efea47 96.5px,#e5ed4d 97.5px,#cff45d 98.5px,#acf37e 126.5px,#acf37e 178px)"></i><i style="top:42px;background:linear-gradient(90deg,#aef37c 0,#a0f18a 10.5px,#a1f289 35.5px,#b1f379 61.5px,#cff45d 83.5px,#eaec4a 85.5px,#f1d741 86.5px,#f18c30 87.5px,#e85b27 88.5px,#cd281a 89.5px,#c42619 91.5px,#c72619 92.5px,#e54a24 93.5px,#ed782c 94.5px,#f3c63c 95.5px,#efea47 96.5px,#e5ed4d 97.5px,#cdf45e 98.5px,#a9f281 126.5px,#a9f281 178px)"></i><i style="top:43px;background:linear-gradient(90deg,#aef37c 0,#a0f18a 10.5px,#a1f289 35.5px,#b1f379 61.5px,#d0f45d 83.5px,#e4ed4e 84.5px,#edeb48 85.5px,#f2ce3e 86.5px,#ef7f2d 87.5px,#e85726 88.5px,#ce281a 89.5px,#c42619 91.5px,#c72619 92.5px,#e44923 93.5px,#ec6f2a 94.5px,#f2a334 95.5px,#f0e444 96.5px,#e7ed4c 97.5px,#cef45e 98.5px,#abf37f 126.5px,#abf37f 178px)"></i><i style="top:44px;background:linear-gradient(90deg,#b2f378 0,#a3f287 10.5px,#a3f287 35.5px,#b4f476 61.5px,#d4f25a 83.5px,#eceb49 85.5px,#f2d33f 86.5px,#ef842e 87.5px,#e85826 88.5px,#ce281a 89.5px,#c42619 91.5px,#c72619 92.5px,#e54a23 93.5px,#ec722b 94.5px,#f0e745 96.5px,#d4f35a 98.5px,#b5f475 125.5px,#b2f378 178px)"></i><i style="top:45px;background:linear-gradient(90deg,#b3f477 0,#a3f287 10.5px,#a3f287 35.5px,#b5f475 61.5px,#d5f259 83.5px,#edeb48 85.5px,#f2cd3e 86.5px,#ee7e2d 87.5px,#e85726 88.5px,#cf281a 89.5px,#c42619 91.5px,#c72619 92.5px,#e44923 93.5px,#ec6e2a 94.5px,#f29f33 95.5px,#f1e244 96.5px,#d5f259 98.5px,#b8f472 125.5px,#b5f475 178px)"></i><i style="top:46px;background:linear-gradient(90deg,#b0f37a 0,#a1f289 10.5px,#a2f288 35.5px,#b2f378 61.5px,#d2f35b 83.5px,#efea47 85.5px,#ee7a2c 87.5px,#e85526 88.5px,#cf281a 89.5px,#c42619 91.5px,#c72619 92.5px,#e44923 93.5px,#eb6b2a 94.5px,#f19431 95.5px,#f1de43 96.5px,#e9ec4b 97.5px,#d0f45c 99.5px,#b2f378 125.5px,#b0f37a 178px)"></i><i style="top:47px;background:linear-gradient(90deg,#aff37b 0,#a1f189 10.5px,#a1f289 35.5px,#b1f379 61.5px,#d1f35c 83.5px,#eceb49 85.5px,#f2d03f 86.5px,#ef802e 87.5px,#e85826 88.5px,#cf281a 89.5px,#c42619 91.5px,#c72619 92.5px,#e44923 93.5px,#ec6f2a 94.5px,#f2a334 95.5px,#f0e344 96.5px,#e8ed4c 97.5px,#d0f45c 98.5px,#b0f37a 125.5px,#aff37b 178px)"></i><i style="top:48px;background:linear-gradient(90deg,#aff37b 0,#a0f18a 10.5px,#a1f189 35.5px,#b1f379 61.5px,#d1f35c 83.5px,#eceb49 85.5px,#f2d23f 86.5px,#ef822e 87.5px,#e85926 88.5px,#d0281a 89.5px,#c42619 91.5px,#c72619 92.5px,#e44923 93.5px,#ec6f2a 94.5px,#f0e444 96.5px,#e7ed4c 97.5px,#cff45d 98.5px,#aef37c 125.5px,#aef37c 178px)"></i><i style="top:49px;background:linear-gradient(90deg,#aef37c 0,#9ff18b 10.5px,#a0f18a 35.5px,#b0f37a 61.5px,#cff45d 83.5px,#e5ed4e 84.5px,#efea47 85.5px,#ee7b2d 87.5px,#e85626 88.5px,#d0281a 89.5px,#c42618 91.5px,#c72619 92.5px,#e44823 93.5px,#eb6a29 94.5px,#f19331 95.5px,#f1dd42 96.5px,#e9ec4b 97.5px,#e1ee50 98.5px,#ccf55f 99.5px,#abf37f 125.5px,#acf37e 178px)"></i><i style="top:50px;background:linear-gradient(90deg,#b5f475 0,#a7f283 10.5px,#a8f282 35.5px,#b7f473 61.5px,#d4f259 83.5px,#eeeb48 85.5px,#f2cb3d 86.5px,#ee7d2d 87.5px,#e85726 88.5px,#d0291a 89.5px,#c42618 91.5px,#c72619 92.5px,#e44823 93.5px,#eb6a29 94.5px,#f19531 95.5px,#f1de43 96.5px,#e9ec4b 97.5px,#d1f35c 99.5px,#b1f379 126.5px,#b2f378 178px)"></i><i style="top:51px;background:linear-gradient(90deg,#adf37d 0,#9ff18b 10.5px,#a0f18a 35.5px,#b0f37a 62.5px,#cef45e 83.5px,#e4ed4e 84.5px,#edeb48 85.5px,#f2ce3e 86.5px,#ee7f2d 87.5px,#e85826 88.5px,#d1291a 89.5px,#c32618 91.5px,#c72619 92.5px,#e34823 93.5px,#eb6b2a 94.5px,#f19832 95.5px,#f1df43 96.5px,#e1ef51 98.5px,#cbf560 99.5px,#a9f281 125.5px,#aaf380 178px)"></i><i style="top:52px;background:linear-gradient(90deg,#b1f379 0,#a2f288 10.5px,#a2f288 35.5px,#b2f478 61.5px,#d2f35b 83.5px,#edeb48 85.5px,#f2ce3e 86.5px,#ee7f2d 87.5px,#e85826 88.5px,#d1291a 89.5px,#c32618 91.5px,#c72619 92.5px,#e34823 93.5px,#eb6a2a 94.5px,#f19732 95.5px,#f1df43 96.5px,#e9ec4b 97.5px,#d0f45c 99.5px,#b3f477 125.5px,#b2f378 178px)"></i><i style="top:53px;background:linear-gradient(90deg,#b1f379 0,#a2f288 10.5px,#a3f287 35.5px,#b2f478 61.5px,#d2f35b 83.5px,#eceb49 85.5px,#f2d23f 86.5px,#ef832e 87.5px,#e85a27 88.5px,#d1291a 89.5px,#c32618 91.5px,#c72619 92.5px,#e34823 93.5px,#ec6d2a 94.5px,#f2a034 95.5px,#f1e244 96.5px,#d0f45d 99.5px,#b2f378 125.5px,#b1f379 178px)"></i><i style="top:54px;background:linear-gradient(90deg,#b1f379 0,#a3f287 10.5px,#a3f287 35.5px,#b2f378 61.5px,#d1f35b 83.5px,#ebec4a 85.5px,#f1d540 86.5px,#f0872f 87.5px,#e95b27 88.5px,#d1291a 89.5px,#c32618 91.5px,#c72619 92.5px,#e34823 93.5px,#ec6f2a 94.5px,#f0e544 96.5px,#e7ed4c 97.5px,#d1f35c 98.5px,#b2f378 124.5px,#b1f379 178px)"></i><i style="top:55px;background:linear-gradient(90deg,#b3f477 0,#a4f286 10.5px,#a4f286 35.5px,#b4f476 61.5px,#d3f35a 83.5px,#eceb49 85.5px,#f2d23f 86.5px,#ef822e 87.5px,#e85a26 88.5px,#d1291a 89.5px,#c32618 91.5px,#c72619 92.5px,#e34823 93.5px,#eb6d2a 94.5px,#f29f33 95.5px,#f1e244 96.5px,#d1f35b 99.5px,#b5f475 124.5px,#b4f476 178px)"></i><i style="top:56px;background:linear-gradient(90deg,#b6f474 0,#a7f283 10.5px,#a6f284 35.5px,#b6f474 61.5px,#d6f258 83.5px,#ebeb49 85.5px,#f2d440 86.5px,#f0862f 87.5px,#e85b27 88.5px,#d0291a 89.5px,#c32618 91.5px,#c72619 92.5px,#e44823 93.5px,#ec702a 94.5px,#f0e545 96.5px,#d6f258 98.5px,#bbf56f 124.5px,#b8f472 178px)"></i><i style="top:57px;background:linear-gradient(90deg,#b8f472 0,#a9f281 10.5px,#a8f282 35.5px,#b6f474 60.5px,#d7f157 83.5px,#ebec4a 85.5px,#f1d640 86.5px,#f0892f 87.5px,#e95b27 88.5px,#d0281a 89.5px,#c42618 91.5px,#c72619 92.5px,#e44923 93.5px,#ec732b 94.5px,#f0e845 96.5px,#d8f157 98.5px,#bff56b 123.5px,#bbf56f 178px)"></i><i style="top:58px;background:linear-gradient(90deg,#b5f475 0,#a6f284 10.5px,#a6f284 35.5px,#b5f475 61.5px,#d3f35a 83.5px,#eceb49 85.5px,#f2d23f 86.5px,#ef822e 87.5px,#e85926 88.5px,#d0281a 89.5px,#c42619 91.5px,#c72619 92.5px,#e44923 93.5px,#ec6f2a 94.5px,#f0e444 96.5px,#d2f35b 98.5px,#b5f475 124.5px,#b4f476 178px)"></i><i style="top:59px;background:linear-gradient(90deg,#b5f475 0,#a6f284 10.5px,#a7f283 35.5px,#b4f476 61.5px,#d2f35b 83.5px,#ebec4a 85.5px,#f1d640 86.5px,#f0892f 87.5px,#e85a27 88.5px,#cf281a 89.5px,#c42619 91.5px,#c72619 92.5px,#e44a23 93.5px,#ed752b 94.5px,#f3b638 95.5px,#f0e946 96.5px,#d1f35c 98.5px,#b2f378 124.5px,#b2f378 178px)"></i><i style="top:60px;background:linear-gradient(90deg,#b6f474 0,#a7f283 10.5px,#a8f282 35.5px,#b5f475 61.5px,#d3f35b 83.5px,#ebec4a 85.5px,#f1d741 86.5px,#f18b2f 87.5px,#e85b27 88.5px,#ce281a 89.5px,#c42619 91.5px,#c72619 92.5px,#e54a23 93.5px,#ed772c 94.5px,#f3c53b 95.5px,#efea47 96.5px,#d2f35b 98.5px,#b4f476 124.5px,#b3f477 178px)"></i><i style="top:61px;background:linear-gradient(90deg,#b7f473 0,#a8f282 10.5px,#a9f281 35.5px,#b6f474 61.5px,#d3f35a 83.5px,#e9ec4b 85.5px,#f1dc42 86.5px,#e95e27 88.5px,#cd271a 89.5px,#c42619 91.5px,#c72619 92.5px,#e64b24 93.5px,#ef812e 94.5px,#f2d13f 95.5px,#eceb49 96.5px,#d2f35b 98.5px,#b4f476 124.5px,#b4f476 178px)"></i><i style="top:62px;background:linear-gradient(90deg,#bdf56d 0,#adf37d 10.5px,#acf37e 35.5px,#baf470 61.5px,#d8f157 83.5px,#e9ec4b 85.5px,#f1de43 86.5px,#e95e27 88.5px,#cb2719 89.5px,#c42619 91.5px,#c72619 92.5px,#e64d24 93.5px,#f0862f 94.5px,#f2d340 95.5px,#ebeb49 96.5px,#d9f156 98.5px,#c1f569 123.5px,#bdf56d 178px)"></i><i style="top:63px;background:linear-gradient(90deg,#bff56b 0,#aff37b 10.5px,#b0f37a 41.5px,#bef56c 63.5px,#e0ef51 84.5px,#f1e143 86.5px,#f2af37 87.5px,#e96028 88.5px,#ca2719 89.5px,#c42619 91.5px,#c72619 92.5px,#e64f25 93.5px,#f1d741 95.5px,#eaec4a 96.5px,#dbf055 98.5px,#c5f665 120.5px,#c0f56a 178px)"></i><i style="top:64px;background:linear-gradient(90deg,#bff56b 0,#aff37b 10.5px,#aef37c 35.5px,#bbf46f 61.5px,#d9f156 84.5px,#f1e344 86.5px,#f3b438 87.5px,#ea6228 88.5px,#c92719 89.5px,#c42619 91.5px,#c72619 92.5px,#e75125 93.5px,#f29d33 94.5px,#f1db42 95.5px,#eaec4a 96.5px,#d9f156 98.5px,#c0f56a 123.5px,#bdf56d 178px)"></i><i style="top:65px;background:linear-gradient(90deg,#bef56c 0,#aff37b 10.5px,#aff37b 35.5px,#baf470 61.5px,#d8f157 84.5px,#f0e444 86.5px,#f3b538 87.5px,#ea6228 88.5px,#c92719 89.5px,#c42619 91.5px,#c72619 92.5px,#e75325 93.5px,#f2a434 94.5px,#f1dc42 95.5px,#e9ec4b 96.5px,#d7f258 98.5px,#bdf56d 123.5px,#bbf46f 178px)"></i><i style="top:66px;background:linear-gradient(90deg,#ccf55f 0,#bef56c 10.5px,#bef56c 35.5px,#cbf560 64.5px,#e7ed4d 85.5px,#f0e745 86.5px,#f3bd39 87.5px,#ea6629 88.5px,#c82619 89.5px,#c42619 91.5px,#c72619 92.5px,#e85626 93.5px,#f2af37 94.5px,#f1e043 95.5px,#e8ec4b 96.5px,#daf155 98.5px,#c4f566 120.5px,#bff56b 178px)"></i><i style="top:67px;background:linear-gradient(90deg,#c4f666 0,#b4f476 10.5px,#b3f477 35.5px,#bef56c 61.5px,#dcf054 84.5px,#f0e745 86.5px,#f3bd39 87.5px,#ea6629 88.5px,#c82619 89.5px,#c42619 91.5px,#c72619 92.5px,#e85826 93.5px,#f2b037 94.5px,#f1e144 95.5px,#e8ec4c 96.5px,#dcf054 98.5px,#c7f663 120.5px,#c2f568 178px)"></i><i style="top:68px;background:linear-gradient(90deg,#c3f567 0,#b4f476 10.5px,#b4f476 37.5px,#bef56c 61.5px,#daf155 84.5px,#f0e946 86.5px,#f3c03a 87.5px,#eb6829 88.5px,#c82619 89.5px,#c42619 91.5px,#c72619 92.5px,#e95b27 93.5px,#f3b638 94.5px,#f0e444 95.5px,#dbf055 97.5px,#c2f568 123.5px,#bff56b 178px)"></i><i style="top:69px;background:linear-gradient(90deg,#c0f56a 0,#b2f378 10.5px,#b5f475 46.5px,#bdf56d 63.5px,#d6f258 84.5px,#f0e946 86.5px,#f3c03a 87.5px,#eb6829 88.5px,#c82619 89.5px,#c42619 91.5px,#c72619 92.5px,#e95c27 93.5px,#f3b738 94.5px,#f0e544 95.5px,#d5f259 97.5px,#b8f472 123.5px,#b8f472 178px)"></i><i style="top:70px;background:linear-gradient(90deg,#cbf560 0,#bef56c 10.5px,#c3f567 54.5px,#cef45e 70.5px,#e5ed4e 85.5px,#eeeb47 86.5px,#f2ca3d 87.5px,#ec732b 88.5px,#c82619 89.5px,#c42619 91.5px,#c72619 92.5px,#ea6629 93.5px,#f3c33b 94.5px,#f0ea46 95.5px,#dcf054 97.5px,#bff56b 125.5px,#c1f569 178px)"></i><i style="top:71px;background:linear-gradient(90deg,#c5f665 0,#b6f474 10.5px,#b8f472 45.5px,#c0f56a 63.5px,#daf155 84.5px,#eeeb47 86.5px,#f2c93c 87.5px,#ec712b 88.5px,#c82619 89.5px,#c42619 91.5px,#c72619 92.5px,#eb6829 93.5px,#f3c43b 94.5px,#f0ea46 95.5px,#daf155 97.5px,#c0f56a 123.5px,#bef56c 178px)"></i><i style="top:72px;background:linear-gradient(90deg,#c5f665 0,#b6f474 10.5px,#b9f471 48.5px,#c1f569 64.5px,#d9f156 84.5px,#edeb48 86.5px,#f2cd3e 87.5px,#ed792c 88.5px,#c72619 89.5px,#c42619 91.5px,#c72619 92.5px,#ec702b 93.5px,#f2ca3d 94.5px,#eeeb47 95.5px,#d8f157 97.5px,#bdf56d 123.5px,#bcf56e 178px)"></i><i style="top:73px;background:linear-gradient(90deg,#c5f665 0,#b7f473 10.5px,#baf470 50.5px,#d8f157 84.5px,#eceb49 86.5px,#f2d03f 87.5px,#ef802d 88.5px,#c72619 89.5px,#c42619 91.5px,#c72619 92.5px,#ed782c 93.5px,#f2cd3e 94.5px,#edeb48 95.5px,#d7f157 97.5px,#bbf56f 123.5px,#bbf46f 178px)"></i><i style="top:74px;background:linear-gradient(90deg,#d3f35a 0,#c7f663 10.5px,#cbf560 54.5px,#d3f35b 68.5px,#eceb49 86.5px,#f2d23f 87.5px,#f18b30 88.5px,#c72619 89.5px,#c42619 91.5px,#c72619 92.5px,#f0852e 93.5px,#f2d23f 94.5px,#eceb49 95.5px,#d1f35c 120.5px,#cef45e 178px)"></i><i style="top:75px;background:linear-gradient(90deg,#c9f661 0,#bbf46f 10.5px,#bdf56d 49.5px,#c4f666 64.5px,#dcf054 84.5px,#eceb49 86.5px,#f2d23f 87.5px,#f0872f 88.5px,#c72619 89.5px,#c42619 91.5px,#c72619 92.5px,#f0862f 93.5px,#f2d23f 94.5px,#eceb49 95.5px,#dcf054 97.5px,#c2f568 123.5px,#c0f56a 178px)"></i><i style="top:76px;background:linear-gradient(90deg,#c6f664 0,#b9f471 10.5px,#bcf56e 52.5px,#d7f157 84.5px,#eceb49 86.5px,#f2d13f 87.5px,#ef832e 88.5px,#c72619 89.5px,#c42619 90.5px,#c72619 92.5px,#f0862f 93.5px,#f2d23f 94.5px,#eceb49 95.5px,#d6f258 97.5px,#b8f472 124.5px,#b9f471 178px)"></i><i style="top:77px;background:linear-gradient(90deg,#c9f661 0,#bbf46f 10.5px,#bef56c 52.5px,#daf156 84.5px,#eceb49 86.5px,#f2d23f 87.5px,#f0872f 88.5px,#c72619 89.5px,#c42619 90.5px,#c72619 92.5px,#f18f30 93.5px,#f2d33f 94.5px,#eceb49 95.5px,#d9f156 97.5px,#bdf56d 123.5px,#bdf56d 178px)"></i><i style="top:78px;background:linear-gradient(90deg,#d3f35a 0,#c8f662 10.5px,#cbf560 57.5px,#d4f259 71.5px,#eceb49 86.5px,#f2d23f 87.5px,#f0892f 88.5px,#c72619 89.5px,#c42619 90.5px,#c72619 92.5px,#f19331 93.5px,#f2d340 94.5px,#ebeb49 95.5px,#cdf55f 120.5px,#cbf560 178px)"></i><i style="top:79px;background:linear-gradient(90deg,#ccf55f 0,#bff56b 10.5px,#c2f568 54.5px,#ccf55f 70.5px,#e4ee4f 85.5px,#eceb49 86.5px,#f2d23f 87.5px,#f08b2f 88.5px,#c72619 89.5px,#c42619 90.5px,#c72619 92.5px,#f19531 93.5px,#f2d440 94.5px,#ebeb49 95.5px,#e3ee4f 96.5px,#c5f665 122.5px,#c3f567 178px)"></i><i style="top:80px;background:linear-gradient(90deg,#c9f662 0,#bbf56f 10.5px,#bef56c 54.5px,#d7f157 84.5px,#eceb49 86.5px,#f2d23f 87.5px,#f0862f 88.5px,#c72619 89.5px,#c42619 90.5px,#c82619 92.5px,#f19531 93.5px,#f2d440 94.5px,#ebeb49 95.5px,#d6f258 97.5px,#b7f473 124.5px,#b9f471 178px)"></i><i style="top:81px;background:linear-gradient(90deg,#cbf560 0,#bdf56d 10.5px,#c0f56a 53.5px,#daf156 84.5px,#eceb49 86.5px,#f2d23f 87.5px,#f18c30 88.5px,#c72619 89.5px,#c42619 90.5px,#c82619 92.5px,#f19832 93.5px,#f1d640 94.5px,#ebec4a 95.5px,#d8f157 97.5px,#bcf56e 124.5px,#bcf56e 178px)"></i><i style="top:82px;background:linear-gradient(90deg,#d7f157 0,#ccf55f 10.5px,#cdf45e 51.5px,#e3ee4f 85.5px,#ebeb49 86.5px,#f2d33f 87.5px,#f18e30 88.5px,#c72619 89.5px,#c42619 90.5px,#c82619 92.5px,#f19a32 93.5px,#f1d740 94.5px,#ebec4a 95.5px,#e3ee4f 96.5px,#c6f664 122.5px,#c3f567 178px)"></i><i style="top:83px;background:linear-gradient(90deg,#d0f45c 0,#c3f567 10.5px,#c4f666 53.5px,#cef45e 69.5px,#e4ee4e 85.5px,#eceb49 86.5px,#f2d13f 87.5px,#ef842e 88.5px,#c72619 89.5px,#c42619 90.5px,#c82619 92.5px,#f19832 93.5px,#f1d540 94.5px,#ebec4a 95.5px,#e3ee4f 96.5px,#cbf560 121.5px,#c8f662 178px)"></i><i style="top:84px;background:linear-gradient(90deg,#caf560 0,#bdf56d 10.5px,#c0f56a 55.5px,#d8f157 84.5px,#eceb49 86.5px,#f2d13f 87.5px,#ef832e 88.5px,#c72619 89.5px,#c42619 90.5px,#c82619 92.5px,#f19832 93.5px,#f1d540 94.5px,#ebec4a 95.5px,#d6f258 97.5px,#b8f472 124.5px,#b9f471 178px)"></i><i style="top:85px;background:linear-gradient(90deg,#c5f665 0,#b9f471 10.5px,#bcf56e 58.5px,#d1f35c 84.5px,#eceb49 86.5px,#f2d13f 87.5px,#ef842e 88.5px,#c72619 89.5px,#c42619 90.5px,#c82619 92.5px,#f19832 93.5px,#f1d540 94.5px,#ebec4a 95.5px,#e3ee4f 96.5px,#cdf45e 97.5px,#b2f378 113.5px,#a8f282 125.5px,#aef37c 178px)"></i><i style="top:86px;background:linear-gradient(90deg,#d3f35b 0,#c8f662 10.5px,#cbf560 59.5px,#e5ed4e 85.5px,#edeb48 86.5px,#f2cd3e 87.5px,#ed752b 88.5px,#c72619 89.5px,#c42619 90.5px,#c82619 92.5px,#f18e30 93.5px,#f2d33f 94.5px,#ebeb49 95.5px,#e3ee4f 96.5px,#c0f56a 123.5px,#c2f568 178px)"></i><i style="top:87px;background:linear-gradient(90deg,#cff45d 0,#c2f568 10.5px,#c3f567 53.5px,#ddf053 84.5px,#eeeb47 86.5px,#f2c93d 87.5px,#ec6e2a 88.5px,#c72619 89.5px,#c42619 90.5px,#c82619 92.5px,#ef812e 93.5px,#f2d13f 94.5px,#eceb49 95.5px,#e4ee4e 96.5px,#c4f666 122.5px,#c2f568 178px)"></i><i style="top:88px;background:linear-gradient(90deg,#d2f35b 0,#c5f665 10.5px,#c5f665 52.5px,#cef45e 68.5px,#e5ed4e 85.5px,#eeeb47 86.5px,#f2c93d 87.5px,#ec6e2a 88.5px,#c72619 89.5px,#c42619 90.5px,#c82619 92.5px,#ef822e 93.5px,#f2d13f 94.5px,#eceb49 95.5px,#e4ee4e 96.5px,#cdf45e 121.5px,#caf561 178px)"></i><i style="top:89px;background:linear-gradient(90deg,#d3f35a 0,#c6f664 10.5px,#c6f664 51.5px,#cef45e 67.5px,#e5ed4e 85.5px,#eeeb47 86.5px,#f2c93d 87.5px,#ec6e2a 88.5px,#c72619 89.5px,#c42619 90.5px,#c82619 92.5px,#ef832e 93.5px,#f2d13f 94.5px,#eceb49 95.5px,#d1f35c 119.5px,#ccf55f 178px)"></i><i style="top:90px;background:linear-gradient(90deg,#daf156 0,#cef45e 10.5px,#cff45d 57.5px,#d8f157 71.5px,#efea47 86.5px,#f3c63c 87.5px,#eb6829 88.5px,#c72619 89.5px,#c42619 90.5px,#c82619 92.5px,#ee7d2d 93.5px,#f2cf3e 94.5px,#eceb48 95.5px,#d2f35b 121.5px,#d0f45d 178px)"></i><i style="top:91px;background:linear-gradient(90deg,#cdf45e 0,#c0f56a 10.5px,#c2f568 54.5px,#dbf055 84.5px,#f0e745 86.5px,#f3bd39 87.5px,#e95f27 88.5px,#c72619 89.5px,#c42619 90.5px,#c82619 92.5px,#ec712b 93.5px,#f2c83c 94.5px,#eeea47 95.5px,#dbf055 97.5px,#c0f56a 124.5px,#bff56b 178px)"></i><i style="top:92px;background:linear-gradient(90deg,#cff45d 0,#c2f568 10.5px,#c3f567 53.5px,#def053 84.5px,#f0e645 86.5px,#f3ba39 87.5px,#e95c27 88.5px,#c72619 89.5px,#c42619 90.5px,#c82619 92.5px,#ec6f2a 93.5px,#f3c63c 94.5px,#efea47 95.5px,#e5ed4d 96.5px,#deef53 97.5px,#c7f663 121.5px,#c3f567 178px)"></i><i style="top:93px;background:linear-gradient(90deg,#cef45e 0,#c1f569 10.5px,#c2f568 53.5px,#dcf054 84.5px,#f0e344 86.5px,#f3b538 87.5px,#e85a26 88.5px,#c72619 89.5px,#c42619 90.5px,#c82619 92.5px,#eb6b2a 93.5px,#f3c23b 94.5px,#f0ea46 95.5px,#dcf054 97.5px,#c3f567 123.5px,#c1f569 178px)"></i><i style="top:94px;background:linear-gradient(90deg,#d5f259 0,#c9f661 10.5px,#cbf560 57.5px,#d3f35a 71.5px,#e8ec4c 85.5px,#f1e143 86.5px,#f2b037 87.5px,#e85726 88.5px,#c72619 89.5px,#c42619 90.5px,#c82619 92.5px,#eb6829 93.5px,#f3be3a 94.5px,#f0e845 95.5px,#daf155 97.5px,#bff56b 124.5px,#bef56c 178px)"></i><i style="top:95px;background:linear-gradient(90deg,#cef45e 0,#c0f56a 10.5px,#c1f569 55.5px,#ccf55f 71.5px,#e1ef51 84.5px,#f1de43 86.5px,#f2aa36 87.5px,#e75426 88.5px,#c72619 89.5px,#c42619 90.5px,#c82719 92.5px,#ea6528 93.5px,#f3ba39 94.5px,#f0e645 95.5px,#dcf054 97.5px,#c2f568 123.5px,#c0f56a 178px)"></i><i style="top:96px;background:linear-gradient(90deg,#cff45d 0,#c1f569 10.5px,#c1f569 54.5px,#cbf560 70.5px,#e2ee50 84.5px,#eaec4a 85.5px,#f1db42 86.5px,#f29d33 87.5px,#e75225 88.5px,#c72619 89.5px,#c42619 90.5px,#c92719 92.5px,#e96128 93.5px,#f2b237 94.5px,#f1e244 95.5px,#def053 97.5px,#c5f665 123.5px,#c2f568 178px)"></i><i style="top:97px;background:linear-gradient(90deg,#caf561 0,#bcf56e 10.5px,#bdf56d 54.5px,#d6f258 83.5px,#eaec4a 85.5px,#f1d941 86.5px,#e75125 88.5px,#c72619 89.5px,#c42619 90.5px,#c92719 92.5px,#e95f27 93.5px,#f2ae36 94.5px,#f1e043 95.5px,#e8ec4b 96.5px,#d5f259 98.5px,#b8f472 124.5px,#b8f472 178px)"></i><i style="top:98px;background:linear-gradient(90deg,#c8f662 0,#baf470 10.5px,#bcf56e 55.5px,#d4f35a 83.5px,#ebec4a 85.5px,#f1d741 86.5px,#e75025 88.5px,#c72619 89.5px,#c42619 90.5px,#c92719 92.5px,#e95e27 93.5px,#f2a635 94.5px,#f1df43 95.5px,#e9ec4b 96.5px,#d2f35b 98.5px,#b3f477 124.5px,#b4f476 178px)"></i><i style="top:99px;background:linear-gradient(90deg,#caf561 0,#bcf56e 10.5px,#bdf56d 54.5px,#d6f258 83.5px,#ebec4a 85.5px,#f1d741 86.5px,#e75025 88.5px,#c72619 89.5px,#c42619 90.5px,#c92719 92.5px,#e95e27 93.5px,#f2a735 94.5px,#f1df43 95.5px,#e9ec4b 96.5px,#d5f259 98.5px,#b9f471 124.5px,#b8f472 178px)"></i><i style="top:100px;background:linear-gradient(90deg,#d2f35b 0,#c6f664 10.5px,#c7f663 56.5px,#cff45d 71.5px,#e4ee4f 84.5px,#eceb49 85.5px,#f2d13f 86.5px,#ef822e 87.5px,#e64e24 88.5px,#c72619 89.5px,#c42619 90.5px,#c92719 92.5px,#e85a27 93.5px,#f19331 94.5px,#f1d941 95.5px,#eaec4a 96.5px,#e2ee50 97.5px,#c3f567 123.5px,#c2f568 178px)"></i><i style="top:101px;background:linear-gradient(90deg,#c7f663 0,#b9f471 10.5px,#baf470 55.5px,#d3f35b 83.5px,#eceb49 85.5px,#f2d23f 86.5px,#ef832e 87.5px,#e64e24 88.5px,#c72619 89.5px,#c42619 90.5px,#c92719 92.5px,#e85a27 93.5px,#f1da41 95.5px,#eaec4a 96.5px,#d1f35c 98.5px,#b2f378 124.5px,#b3f477 178px)"></i><i style="top:102px;background:linear-gradient(90deg,#c7f663 0,#b9f471 10.5px,#baf470 55.5px,#d3f35b 83.5px,#eeeb47 85.5px,#f2c83c 86.5px,#ee7a2c 87.5px,#e64c24 88.5px,#c72619 89.5px,#c42619 90.5px,#c92719 92.5px,#e85726 93.5px,#f0872f 94.5px,#f2d440 95.5px,#ebeb49 96.5px,#d1f35c 98.5px,#b2f378 124.5px,#b3f477 178px)"></i><i style="top:103px;background:linear-gradient(90deg,#caf560 0,#bcf56e 10.5px,#bbf56f 52.5px,#c1f569 65.5px,#d7f258 83.5px,#edeb48 85.5px,#f2ce3e 86.5px,#ee7f2d 87.5px,#e64c24 88.5px,#c72619 89.5px,#c42619 90.5px,#ca2719 92.5px,#e85926 93.5px,#f18e30 94.5px,#f1d841 95.5px,#eaec4a 96.5px,#d7f157 98.5px,#bdf56d 124.5px,#bbf46f 178px)"></i><i style="top:104px;background:linear-gradient(90deg,#cdf55f 0,#bef56c 10.5px,#bdf56d 51.5px,#c3f567 65.5px,#daf155 83.5px,#efea47 85.5px,#f3c63c 86.5px,#ed782c 87.5px,#e64b24 88.5px,#c72619 89.5px,#c42619 90.5px,#ca2719 92.5px,#e85726 93.5px,#f0852e 94.5px,#f2d440 95.5px,#ebeb49 96.5px,#e3ee4f 97.5px,#dcf054 98.5px,#c5f665 121.5px,#c0f56a 178px)"></i><i style="top:105px;background:linear-gradient(90deg,#cbf560 0,#bcf56e 10.5px,#bcf56e 51.5px,#c2f568 65.5px,#d9f156 83.5px,#f0ea46 85.5px,#ed762c 87.5px,#e54b24 88.5px,#c72619 89.5px,#c42619 90.5px,#ca2719 92.5px,#e85626 93.5px,#ef822e 94.5px,#f2d13f 95.5px,#eceb49 96.5px,#daf155 98.5px,#c2f568 123.5px,#bef56c 178px)"></i><i style="top:106px;background:linear-gradient(90deg,#cbf560 0,#bbf56f 10.5px,#bbf46f 51.5px,#c1f569 65.5px,#d8f157 83.5px,#efea46 85.5px,#f3c43b 86.5px,#ed772c 87.5px,#e64b24 88.5px,#c72619 89.5px,#c42619 90.5px,#ca2719 92.5px,#e85726 93.5px,#ef842e 94.5px,#f2d33f 95.5px,#eceb49 96.5px,#d9f156 98.5px,#c0f56a 124.5px,#bdf56d 178px)"></i><i style="top:107px;background:linear-gradient(90deg,#c9f661 0,#b9f471 10.5px,#b9f471 51.5px,#bff56b 65.5px,#d5f259 82.5px,#f1e143 85.5px,#f29b33 86.5px,#ec6e2a 87.5px,#e54a23 88.5px,#c72619 89.5px,#c42619 90.5px,#ca2719 92.5px,#e75325 93.5px,#ed782c 94.5px,#f0ea46 96.5px,#d6f258 98.5px,#bbf56f 124.5px,#b9f471 178px)"></i><i style="top:108px;background:linear-gradient(90deg,#c0f56a 0,#b2f478 10.5px,#b3f477 56.5px,#cbf560 82.5px,#e0ef51 83.5px,#f1e043 85.5px,#f19732 86.5px,#eb6d2a 87.5px,#e54a23 88.5px,#c72619 89.5px,#c42619 90.5px,#ca2719 92.5px,#e75225 93.5px,#ed772c 94.5px,#f2a935 95.5px,#f0e946 96.5px,#e6ed4d 97.5px,#caf661 98.5px,#b0f37a 113.5px,#a6f284 125.5px,#a9f281 178px)"></i><i style="top:109px;background:linear-gradient(90deg,#bef56c 0,#b1f379 10.5px,#b2f378 57.5px,#cbf560 83.5px,#e8ed4c 84.5px,#f0e344 85.5px,#f2a134 86.5px,#e54a24 88.5px,#c72619 89.5px,#c42619 90.5px,#ca2719 92.5px,#e75325 93.5px,#ee7a2c 94.5px,#efea47 96.5px,#e5ed4d 97.5px,#c7f663 98.5px,#acf37e 113.5px,#a2f288 125.5px,#a6f284 178px)"></i><i style="top:110px;background:linear-gradient(90deg,#c0f56a 0,#b2f378 10.5px,#b3f477 55.5px,#ccf560 82.5px,#e1ef51 83.5px,#e9ec4b 84.5px,#f1de42 85.5px,#f19231 86.5px,#eb6b2a 87.5px,#e54a23 88.5px,#c72619 89.5px,#c42619 90.5px,#ca2719 92.5px,#e75225 93.5px,#f2a434 95.5px,#f0e745 96.5px,#e7ed4c 97.5px,#caf560 98.5px,#a7f283 125.5px,#a9f281 178px)"></i><i style="top:111px;background:linear-gradient(90deg,#bff56b 0,#b1f379 10.5px,#b2f378 56.5px,#cbf560 82.5px,#e1ee50 83.5px,#e9ec4b 84.5px,#f1dd42 85.5px,#f19030 86.5px,#eb6b2a 87.5px,#e54a23 88.5px,#c72619 89.5px,#c42619 90.5px,#ca2719 92.5px,#e75125 93.5px,#f2a234 95.5px,#f0e645 96.5px,#e7ed4c 97.5px,#caf661 98.5px,#a6f284 125.5px,#a8f282 178px)"></i><i style="top:112px;background:linear-gradient(90deg,#c0f56a 0,#b2f378 10.5px,#b3f477 55.5px,#cdf55f 83.5px,#e7ed4c 84.5px,#f0e545 85.5px,#ec712b 87.5px,#e54a24 88.5px,#c72619 89.5px,#c42619 90.5px,#ca2719 92.5px,#e75426 93.5px,#ee7c2d 94.5px,#f2ca3d 95.5px,#eeeb48 96.5px,#e5ed4e 97.5px,#cbf560 98.5px,#a8f282 125.5px,#aaf380 178px)"></i><i style="top:113px;background:linear-gradient(90deg,#c2f568 0,#b3f477 10.5px,#b3f477 54.5px,#cef45e 82.5px,#e9ec4b 84.5px,#f1dc42 85.5px,#f18e30 86.5px,#e54a23 88.5px,#c72619 89.5px,#c42619 90.5px,#cb2719 92.5px,#e75125 93.5px,#f2a034 95.5px,#f0e545 96.5px,#e7ed4c 97.5px,#cdf45e 98.5px,#acf37e 125.5px,#adf37d 178px)"></i><i style="top:114px;background:linear-gradient(90deg,#bff56b 0,#b1f379 10.5px,#b2f378 55.5px,#cbf560 82.5px,#e1ee50 83.5px,#e9ec4b 84.5px,#f1dc42 85.5px,#f19030 86.5px,#eb6a29 87.5px,#e54a23 88.5px,#c72619 89.5px,#c42619 90.5px,#ca2719 92.5px,#e75125 93.5px,#f2a134 95.5px,#f0e645 96.5px,#e7ed4c 97.5px,#caf560 98.5px,#a7f283 125.5px,#a9f281 178px)"></i><i style="top:115px;background:linear-gradient(90deg,#bef56c 0,#b0f37a 10.5px,#b1f379 55.5px,#caf560 82.5px,#e1ee50 83.5px,#e9ec4b 84.5px,#f1dc42 85.5px,#f18e30 86.5px,#e54a23 88.5px,#c72619 89.5px,#c42619 90.5px,#ca2719 92.5px,#e75125 93.5px,#f29f33 95.5px,#f0e545 96.5px,#e7ed4c 97.5px,#c9f661 98.5px,#a5f285 125.5px,#a7f283 178px)"></i><i style="top:116px;background:linear-gradient(90deg,#bbf56f 0,#aef37c 10.5px,#aff37b 56.5px,#c7f663 82.5px,#e0ef51 83.5px,#f1e043 85.5px,#f19732 86.5px,#eb6d2a 87.5px,#e54a23 88.5px,#c72619 89.5px,#c42619 90.5px,#c92719 92.5px,#e75225 93.5px,#ed762c 94.5px,#f2a735 95.5px,#f0e845 96.5px,#e6ed4d 97.5px,#c5f665 98.5px,#a9f281 113.5px,#9ef18c 126.5px,#a2f288 178px)"></i><i style="top:117px;background:linear-gradient(90deg,#bff56b 0,#b0f37a 10.5px,#b1f379 54.5px,#b7f473 67.5px,#cbf560 82.5px,#e1ee50 83.5px,#e9ec4b 84.5px,#f1dd42 85.5px,#f19131 86.5px,#eb6b2a 87.5px,#e54a23 88.5px,#c72619 89.5px,#c42619 90.5px,#c92719 92.5px,#e75025 93.5px,#f29f33 95.5px,#f0e545 96.5px,#e7ed4c 97.5px,#cbf560 98.5px,#a8f282 125.5px,#a9f281 178px)"></i><i style="top:118px;background:linear-gradient(90deg,#c5f665 0,#b5f475 10.5px,#b4f476 51.5px,#bbf46f 65.5px,#d2f35b 82.5px,#e9ec4b 84.5px,#f1dd42 85.5px,#f19030 86.5px,#eb6b2a 87.5px,#e54a24 88.5px,#c72619 89.5px,#c42619 90.5px,#c82619 92.5px,#e75025 93.5px,#f29d33 95.5px,#f0e444 96.5px,#d3f35a 98.5px,#b6f474 125.5px,#b4f476 178px)"></i><i style="top:119px;background:linear-gradient(90deg,#c2f568 0,#b3f477 10.5px,#b3f477 52.5px,#baf470 66.5px,#cff45d 82.5px,#eaec4a 84.5px,#f1d941 85.5px,#f08a2f 86.5px,#e54a24 88.5px,#c72619 89.5px,#c42619 90.5px,#c82619 92.5px,#e64e24 93.5px,#f19231 95.5px,#f1de43 96.5px,#e9ec4b 97.5px,#cff45d 99.5px,#b1f379 125.5px,#b0f37a 178px)"></i><i style="top:120px;background:linear-gradient(90deg,#c3f567 0,#b4f476 10.5px,#b3f477 51.5px,#b9f471 65.5px,#d1f35c 82.5px,#e9ec4b 84.5px,#f1dc42 85.5px,#f18e30 86.5px,#e54b24 88.5px,#c72619 89.5px,#c42619 90.5px,#c82619 92.5px,#e64e24 93.5px,#f19632 95.5px,#f1e043 96.5px,#d1f35c 99.5px,#b4f476 125.5px,#b2f378 178px)"></i><i style="top:121px;background:linear-gradient(90deg,#c4f666 0,#b4f476 10.5px,#b3f477 50.5px,#baf470 65.5px,#d2f35b 82.5px,#e9ec4b 84.5px,#f1dd42 85.5px,#f19131 86.5px,#eb6c2a 87.5px,#e64b24 88.5px,#c72619 89.5px,#c42619 90.5px,#c82619 92.5px,#e64e24 93.5px,#f19732 95.5px,#f1e143 96.5px,#d2f35b 99.5px,#b6f474 125.5px,#b3f477 178px)"></i><i style="top:122px;background:linear-gradient(90deg,#c2f568 0,#b2f478 10.5px,#b3f477 52.5px,#baf470 66.5px,#d0f45d 82.5px,#eaec4a 84.5px,#f1d941 85.5px,#f0892f 86.5px,#e54b24 88.5px,#c72619 89.5px,#c42619 90.5px,#c72619 92.5px,#e64c24 93.5px,#f18b30 95.5px,#f1db42 96.5px,#eaec4a 97.5px,#cff45d 99.5px,#b1f379 125.5px,#aff37b 178px)"></i><i style="top:123px;background:linear-gradient(90deg,#c4f566 0,#b4f476 10.5px,#b3f477 50.5px,#baf470 65.5px,#d2f35b 82.5px,#f1e043 85.5px,#f19632 86.5px,#ec6e2a 87.5px,#e64c24 88.5px,#c72619 89.5px,#c42619 90.5px,#c72619 92.5px,#e64d24 93.5px,#f19732 95.5px,#f1e143 96.5px,#d2f35b 99.5px,#b5f475 125.5px,#b2f478 178px)"></i><i style="top:124px;background:linear-gradient(90deg,#c4f666 0,#b4f476 10.5px,#b4f476 50.5px,#bbf56f 65.5px,#d3f35b 82.5px,#f1e143 85.5px,#f19832 86.5px,#e64d24 88.5px,#c72619 89.5px,#c42619 91.5px,#c72619 92.5px,#e64c24 93.5px,#ec6e2a 94.5px,#f19632 95.5px,#f1e043 96.5px,#e8ec4b 97.5px,#d3f35a 99.5px,#b7f473 125.5px,#b3f477 178px)"></i><i style="top:125px;background:linear-gradient(90deg,#c4f666 0,#b4f476 10.5px,#b4f476 50.5px,#bbf56f 65.5px,#d4f25a 83.5px,#f0e845 85.5px,#ed752b 87.5px,#e74f25 88.5px,#c72619 89.5px,#c42619 91.5px,#c72619 92.5px,#e64d24 93.5px,#ec722b 94.5px,#f2a434 95.5px,#f0e545 96.5px,#d4f259 98.5px,#b6f474 125.5px,#b3f477 178px)"></i><i style="top:126px;background:linear-gradient(90deg,#c0f56a 0,#b1f379 10.5px,#b2f478 52.5px,#b9f471 66.5px,#cff45d 82.5px,#e1ef51 83.5px,#f1df43 85.5px,#f19431 86.5px,#e64e24 88.5px,#c82619 89.5px,#c42619 91.5px,#c72619 92.5px,#e54b24 93.5px,#f18d30 95.5px,#f1dc42 96.5px,#e9ec4b 97.5px,#cef45e 99.5px,#acf37e 126.5px,#abf37f 178px)"></i><i style="top:127px;background:linear-gradient(90deg,#bdf56d 0,#aff37b 10.5px,#b1f379 55.5px,#cdf45e 83.5px,#e8ed4c 84.5px,#f0e444 85.5px,#f29d33 86.5px,#e74f25 88.5px,#c82619 89.5px,#c42619 91.5px,#c72619 92.5px,#e54b24 93.5px,#eb6d2a 94.5px,#f19431 95.5px,#f1df43 96.5px,#e1ef51 98.5px,#caf561 99.5px,#aff37b 114.5px,#a5f285 127.5px,#a6f284 178px)"></i><i style="top:128px;background:linear-gradient(90deg,#bef56c 0,#b0f37a 10.5px,#b3f477 54.5px,#cff45d 83.5px,#e7ed4c 84.5px,#f0e645 85.5px,#f2a334 86.5px,#e75025 88.5px,#c82619 89.5px,#c42619 91.5px,#c72619 92.5px,#e54b24 93.5px,#ec6e2a 94.5px,#f19832 95.5px,#f1e043 96.5px,#e0ef51 98.5px,#ccf55f 99.5px,#b3f477 114.5px,#a8f282 127.5px,#a8f282 178px)"></i><i style="top:129px;background:linear-gradient(90deg,#c1f569 0,#b2f378 10.5px,#b5f475 52.5px,#bcf56e 66.5px,#d3f35a 83.5px,#f0e946 85.5px,#ed762c 87.5px,#e75125 88.5px,#c82619 89.5px,#c42619 91.5px,#c72619 92.5px,#e54b24 93.5px,#ec6f2a 94.5px,#f29d33 95.5px,#f1e244 96.5px,#d6f258 98.5px,#b1f379 125.5px,#aef37c 178px)"></i><i style="top:130px;background:linear-gradient(90deg,#c4f666 0,#b5f475 10.5px,#b7f473 49.5px,#bef56c 64.5px,#d7f157 83.5px,#efea47 85.5px,#ee7a2c 87.5px,#e75325 88.5px,#c82719 89.5px,#c42619 91.5px,#c72619 92.5px,#e54b24 93.5px,#ec712b 94.5px,#f2a535 95.5px,#f0e545 96.5px,#d8f157 98.5px,#b9f471 126.5px,#b4f476 178px)"></i><i style="top:131px;background:linear-gradient(90deg,#c4f566 0,#b5f475 10.5px,#b8f472 50.5px,#c0f56a 65.5px,#d7f157 83.5px,#eeeb48 85.5px,#f2ca3d 86.5px,#ee7c2d 87.5px,#e75425 88.5px,#c92719 89.5px,#c42619 91.5px,#c72619 92.5px,#e54b24 93.5px,#ec722b 94.5px,#f0e645 96.5px,#d7f157 98.5px,#b8f472 126.5px,#b2f378 178px)"></i><i style="top:132px;background:linear-gradient(90deg,#c3f567 0,#b4f476 10.5px,#b9f471 50.5px,#c0f56a 64.5px,#d8f157 83.5px,#eceb49 85.5px,#f2d03e 86.5px,#ef802d 87.5px,#e85626 88.5px,#ca2719 89.5px,#c42619 91.5px,#c72619 92.5px,#e54b24 93.5px,#ed742b 94.5px,#f0e946 96.5px,#d8f157 98.5px,#b7f473 127.5px,#b1f379 178px)"></i><i style="top:133px;background:linear-gradient(90deg,#c5f665 0,#b6f474 10.5px,#baf470 48.5px,#c3f567 64.5px,#dbf054 83.5px,#eceb49 85.5px,#f2d23f 86.5px,#ef832e 87.5px,#e85726 88.5px,#cb2719 89.5px,#c42619 91.5px,#c72619 92.5px,#e54b24 93.5px,#ed762c 94.5px,#f0ea46 96.5px,#dcf054 98.5px,#bdf56d 127.5px,#b5f475 178px)"></i><i style="top:134px;background:linear-gradient(90deg,#c8f662 0,#b9f471 10.5px,#bdf56d 48.5px,#caf561 67.5px,#e3ee4f 84.5px,#ebeb49 85.5px,#f2d440 86.5px,#f0852e 87.5px,#e85726 88.5px,#cb2719 89.5px,#c42619 91.5px,#c72619 92.5px,#e54b24 93.5px,#ed772c 94.5px,#f3c53b 95.5px,#efea46 96.5px,#e6ed4d 97.5px,#c5f665 125.5px,#baf470 178px)"></i><i style="top:135px;background:linear-gradient(90deg,#c8f662 0,#b9f471 10.5px,#bef56c 48.5px,#cbf560 67.5px,#e3ee4f 84.5px,#ebeb49 85.5px,#f2d340 86.5px,#ef852e 87.5px,#e85726 88.5px,#cb2719 89.5px,#c42619 91.5px,#c72619 92.5px,#e54b24 93.5px,#ed772c 94.5px,#f3c43b 95.5px,#f0ea46 96.5px,#e6ed4d 97.5px,#c4f666 125.5px,#b9f471 178px)"></i><i style="top:136px;background:linear-gradient(90deg,#caf661 0,#bbf46f 10.5px,#c1f569 48.5px,#cff45d 68.5px,#eaec4a 85.5px,#f1d941 86.5px,#f18f30 87.5px,#e85a27 88.5px,#cb2719 89.5px,#c42619 91.5px,#c72619 92.5px,#e64c24 93.5px,#ee7d2d 94.5px,#f2cd3e 95.5px,#edeb48 96.5px,#ccf55f 121.5px,#bdf56d 178px)"></i><i style="top:137px;background:linear-gradient(90deg,#c6f664 0,#b8f472 10.5px,#c1f569 51.5px,#cff45d 70.5px,#e9ec4b 85.5px,#f1dd42 86.5px,#e95d27 88.5px,#cb2719 89.5px,#c42619 91.5px,#c72619 92.5px,#e64d24 93.5px,#ef852e 94.5px,#f2d33f 95.5px,#eceb49 96.5px,#e4ee4f 97.5px,#bff56b 127.5px,#b4f476 178px)"></i><i style="top:138px;background:linear-gradient(90deg,#c7f663 0,#baf470 10.5px,#c2f568 47.5px,#cff45d 67.5px,#e8ec4b 85.5px,#f1e143 86.5px,#f2af37 87.5px,#e96028 88.5px,#cb2719 89.5px,#c42619 91.5px,#c72619 92.5px,#e64e24 93.5px,#f1d741 95.5px,#ebec4a 96.5px,#d1f35b 111.5px,#c3f567 127.5px,#b6f474 178px)"></i><i style="top:139px;background:linear-gradient(90deg,#cbf560 0,#bef56c 10.5px,#c5f665 42.5px,#d1f35b 64.5px,#eeeb48 85.5px,#f0e344 86.5px,#f3b538 87.5px,#ea6328 88.5px,#cb2719 89.5px,#c42619 91.5px,#c72619 92.5px,#e75025 93.5px,#f29b33 94.5px,#f1da41 95.5px,#efea47 96.5px,#d1f35c 123.5px,#c0f56a 178px)"></i><i style="top:140px;background:linear-gradient(90deg,#ccf560 0,#bff56b 10.5px,#caf561 49.5px,#d5f259 66.5px,#f0ea46 85.5px,#f1e344 86.5px,#f2b337 87.5px,#ea6228 88.5px,#ca2719 89.5px,#c42619 91.5px,#c72619 92.5px,#e75025 93.5px,#f1d941 95.5px,#f0e946 96.5px,#d1f35c 124.5px,#bff56b 178px)"></i><i style="top:141px;background:linear-gradient(90deg,#caf661 0,#bdf56d 10.5px,#cbf560 50.5px,#efea47 85.5px,#f0e745 86.5px,#f3bd39 87.5px,#eb6829 88.5px,#ca2719 89.5px,#c42619 91.5px,#c72619 92.5px,#e75325 93.5px,#f2aa36 94.5px,#f1de43 95.5px,#efea47 96.5px,#cdf55f 124.5px,#baf470 178px)"></i><i style="top:142px;background:linear-gradient(90deg,#caf560 0,#bff56b 10.5px,#ccf560 47.5px,#f0e344 86.5px,#f3c23b 87.5px,#eb6c2a 88.5px,#c92719 89.5px,#c42619 91.5px,#c72619 92.5px,#e85626 93.5px,#f2b137 94.5px,#f1e244 95.5px,#f0e545 96.5px,#cff45d 125.5px,#bcf56e 178px)"></i><i style="top:143px;background:linear-gradient(90deg,#ccf55f 0,#c0f56a 10.5px,#ccf55f 44.5px,#d9f156 64.5px,#f0ea46 80.5px,#f1db42 86.5px,#f3c63c 87.5px,#ec702b 88.5px,#c92719 89.5px,#c42619 91.5px,#c72619 92.5px,#e85926 93.5px,#f3b738 94.5px,#f1db42 95.5px,#f0ea46 101.5px,#d2f35b 126.5px,#bef56c 178px)"></i><i style="top:144px;background:linear-gradient(90deg,#cff45d 0,#c4f666 10.5px,#cdf55f 37.5px,#dbf055 60.5px,#f0ea46 76.5px,#f2c93d 87.5px,#ed772c 88.5px,#c92719 89.5px,#c42619 91.5px,#c72619 92.5px,#e95d27 93.5px,#f3bd39 94.5px,#f2c93d 95.5px,#f0ea46 107.5px,#d8f157 131.5px,#c6f664 178px)"></i><i style="top:145px;background:linear-gradient(90deg,#d0f45d 0,#c5f665 10.5px,#cdf55f 34.5px,#dbf055 58.5px,#efea46 74.5px,#f3c43b 87.5px,#ed792c 88.5px,#c92719 89.5px,#c42619 91.5px,#c72619 92.5px,#e95f27 93.5px,#f3bf3a 94.5px,#f0e946 108.5px,#d8f157 133.5px,#c6f664 178px)"></i><i style="top:146px;background:linear-gradient(90deg,#cef45e 0,#c4f666 10.5px,#cdf45e 34.5px,#ddf053 59.5px,#f0ea46 74.5px,#f3c33b 87.5px,#ee7c2d 88.5px,#c92719 89.5px,#c42619 91.5px,#c72619 92.5px,#e96128 93.5px,#f3c13a 94.5px,#f0e946 107.5px,#d5f259 133.5px,#c2f568 178px)"></i><i style="top:147px;background:linear-gradient(90deg,#d0f45c 0,#c6f664 10.5px,#cdf45e 30.5px,#f0e846 72.5px,#f3b838 87.5px,#f0892f 88.5px,#c82719 89.5px,#c42619 91.5px,#c72619 92.5px,#eb6829 93.5px,#f3b838 94.5px,#f0e846 110.5px,#d6f258 138.5px,#c6f664 178px)"></i><i style="top:148px;background:linear-gradient(90deg,#d0f45c 0,#c7f663 10.5px,#cef45e 28.5px,#f0ea46 70.5px,#f2b337 87.5px,#f19531 88.5px,#c82619 89.5px,#c42619 91.5px,#c72619 92.5px,#ec6f2a 93.5px,#f2b237 94.5px,#f0e846 111.5px,#d6f258 139.5px,#c5f665 178px)"></i><i style="top:149px;background:linear-gradient(90deg,#d1f35c 0,#c8f662 10.5px,#cef45e 26.5px,#f0ea46 68.5px,#f2aa36 87.5px,#f19932 88.5px,#c82619 89.5px,#c42619 91.5px,#c72619 92.5px,#ed772c 93.5px,#f2aa36 94.5px,#f0e845 113.5px,#d6f258 142.5px,#c7f663 178px)"></i><i style="top:150px;background:linear-gradient(90deg,#d1f35b 0,#c9f661 10.5px,#cef45e 24.5px,#f0e845 67.5px,#f29d33 88.5px,#c82619 89.5px,#c42619 91.5px,#c72619 92.5px,#ef812e 93.5px,#f2a234 94.5px,#f0e846 115.5px,#d6f258 144.5px,#c8f662 178px)"></i><i style="top:151px;background:linear-gradient(90deg,#d1f35b 0,#c9f661 10.5px,#cef45e 23.5px,#f0ea46 65.5px,#f29c33 88.5px,#c82619 89.5px,#c42619 91.5px,#c72619 92.5px,#ef802d 93.5px,#f29d33 94.5px,#f0e946 116.5px,#d6f258 145.5px,#c7f663 178px)"></i><i style="top:152px;background:linear-gradient(90deg,#d4f25a 0,#cbf560 10.5px,#cff45d 21.5px,#f0e946 63.5px,#f18f30 88.5px,#c82719 89.5px,#c42619 91.5px,#c72619 92.5px,#ef7f2d 93.5px,#f19030 94.5px,#f0e745 120.5px,#cbf560 178px)"></i><i style="top:153px;background:linear-gradient(90deg,#d5f259 0,#ccf55f 10.5px,#d0f35c 21.5px,#f0e946 61.5px,#f3c53b 72.5px,#f19431 83.5px,#f0892f 88.5px,#c92719 89.5px,#c42619 91.5px,#c72619 92.5px,#ee7d2d 93.5px,#f0892f 94.5px,#f19030 98.5px,#f3c13a 110.5px,#f1e144 121.5px,#f0ea46 125.5px,#cdf45e 178px)"></i><i style="top:154px;background:linear-gradient(90deg,#d6f258 0,#cdf55f 10.5px,#d1f35c 20.5px,#f0e845 60.5px,#f3c43b 71.5px,#f18e30 83.5px,#ef852e 88.5px,#c92719 89.5px,#c42619 91.5px,#c72619 92.5px,#ee7c2d 93.5px,#ef852e 94.5px,#f19030 100.5px,#f3bf3a 111.5px,#f1dc42 121.5px,#efea47 128.5px,#cff45d 178px)"></i><i style="top:155px;background:linear-gradient(90deg,#d6f258 0,#d1f35c 19.5px,#f0e845 59.5px,#f3c13a 71.5px,#f18d30 82.5px,#ef812e 88.5px,#c92719 89.5px,#c42619 91.5px,#c72619 92.5px,#ee7b2d 93.5px,#ef812e 94.5px,#f18f30 101.5px,#f3c23a 113.5px,#f1db42 122.5px,#f0ea46 129.5px,#d0f45d 178px)"></i><i style="top:156px;background:linear-gradient(90deg,#d3f35a 0,#cef45d 18.5px,#f0e946 60.5px,#f3c63c 71.5px,#f19231 83.5px,#f0892f 88.5px,#ca2719 89.5px,#c42619 91.5px,#c72619 92.5px,#ee7a2c 93.5px,#f08a2f 94.5px,#f0e845 121.5px,#c9f661 178px)"></i><i style="top:157px;background:linear-gradient(90deg,#d0f45d 0,#ccf55f 17.5px,#f0e846 62.5px,#f19030 88.5px,#ca2719 89.5px,#c42619 91.5px,#c72619 92.5px,#ed792c 93.5px,#f19331 94.5px,#f0ea46 117.5px,#d3f35a 144.5px,#c2f568 178px)"></i><i style="top:158px;background:linear-gradient(90deg,#d2f35b 0,#cef45e 18.5px,#f0ea46 60.5px,#f2c83c 71.5px,#f19531 83.5px,#f08b2f 88.5px,#ca2719 89.5px,#c42619 91.5px,#c72619 92.5px,#ed782c 93.5px,#f18c30 94.5px,#f0e845 119.5px,#d5f259 147.5px,#c6f664 178px)"></i><i style="top:159px;background:linear-gradient(90deg,#d4f35a 0,#cff45d 19.5px,#f0ea46 59.5px,#f3c33b 71.5px,#f18e30 83.5px,#f0852e 88.5px,#ca2719 89.5px,#c42619 91.5px,#c72619 92.5px,#ed782c 93.5px,#f0862f 94.5px,#f19030 99.5px,#f3c03a 110.5px,#f0e845 123.5px,#cbf560 178px)"></i><i style="top:160px;background:linear-gradient(90deg,#d4f25a 0,#d0f45d 19.5px,#f0ea46 59.5px,#f3c33b 71.5px,#f19131 82.5px,#ef852e 88.5px,#ca2719 89.5px,#c42619 91.5px,#c72619 92.5px,#ed782c 93.5px,#f0852e 94.5px,#f18e30 99.5px,#f3c23b 111.5px,#f0e645 123.5px,#ccf55f 178px)"></i><i style="top:161px;background:linear-gradient(90deg,#d5f259 0,#ccf55f 10.5px,#d0f35c 20.5px,#f0ea46 59.5px,#f3c23b 71.5px,#f18f30 82.5px,#ef832e 88.5px,#ca2719 89.5px,#c42619 91.5px,#c72619 92.5px,#ee7a2c 93.5px,#ef832e 94.5px,#f18f30 100.5px,#f3c23b 112.5px,#f1df43 122.5px,#f0ea46 127.5px,#cef45e 178px)"></i><i style="top:162px;background:linear-gradient(90deg,#d5f259 0,#ccf55f 10.5px,#d0f45c 20.5px,#f0e946 60.5px,#f3c13a 72.5px,#f18e30 83.5px,#f0852e 88.5px,#c92719 89.5px,#c42619 91.5px,#c72619 92.5px,#ee7b2d 93.5px,#f0852e 94.5px,#f18e30 99.5px,#f3c13a 111.5px,#f1e043 122.5px,#efea47 127.5px,#cef45e 178px)"></i><i style="top:163px;background:linear-gradient(90deg,#d2f35b 0,#caf561 10.5px,#cff45d 21.5px,#f0ea46 62.5px,#f18d30 88.5px,#c92719 89.5px,#c42619 91.5px,#c72619 92.5px,#ee7e2d 93.5px,#f18e30 94.5px,#f0e845 120.5px,#caf661 178px)"></i><i style="top:164px;background:linear-gradient(90deg,#d1f35c 0,#c8f662 10.5px,#cef45e 22.5px,#f0ea46 64.5px,#f19832 88.5px,#c82619 89.5px,#c42619 91.5px,#c72619 92.5px,#ef812e 93.5px,#f19932 94.5px,#f0e845 116.5px,#d5f259 145.5px,#c6f664 178px)"></i></div>
<div id="cb"></div>
<svg width="685" height="382" viewBox="0 0 685 382"><defs><linearGradient id="pkL" x1="0" x2="1" y1="0" y2="0"><stop offset="0" stop-color="#f4a08c" stop-opacity="0"/><stop offset="0.55" stop-color="#f4a08c" stop-opacity="0.18"/><stop offset="1" stop-color="#ee8a74" stop-opacity="0.42"/></linearGradient><linearGradient id="pkR" x1="0" x2="1" y1="0" y2="0"><stop offset="0" stop-color="#ee8a74" stop-opacity="0.42"/><stop offset="0.45" stop-color="#f4a08c" stop-opacity="0.18"/><stop offset="1" stop-color="#f4a08c" stop-opacity="0"/></linearGradient><linearGradient id="grnF" x1="0" x2="0" y1="0" y2="1"><stop offset="0" stop-color="#b2dcae"/><stop offset="0.22" stop-color="#86c484"/><stop offset="0.42" stop-color="#4aa24c"/><stop offset="0.55" stop-color="#3d9a42"/><stop offset="0.8" stop-color="#82c480"/><stop offset="1" stop-color="#b8e0b4"/></linearGradient><linearGradient id="cbG" x1="0" x2="0" y1="0" y2="1"><stop offset="0" stop-color="#1d5a24"/><stop offset="0.35" stop-color="#3f8f45"/><stop offset="0.7" stop-color="#a6d29f"/><stop offset="1" stop-color="#ffffff"/></linearGradient><linearGradient id="cbR" x1="0" x2="0" y1="0" y2="1"><stop offset="0" stop-color="#4a0a08"/><stop offset="0.3" stop-color="#b02818"/><stop offset="0.6" stop-color="#e86a48"/><stop offset="1" stop-color="#fdf2ec"/></linearGradient><marker id="arR" viewBox="0 0 10 10" refX="9" refY="5" markerWidth="5" markerHeight="5" orient="auto"><path d="M0 1 L10 5 L0 9z" fill="#e8452e"/></marker><marker id="arK" viewBox="0 0 10 10" refX="9" refY="5" markerWidth="4.5" markerHeight="4.5" orient="auto"><path d="M0 1 L10 5 L0 9z" fill="#000"/></marker><clipPath id="cd"><rect x="58.5" y="230.3" width="126.5" height="147"/></clipPath><clipPath id="ce"><rect x="284" y="229" width="127.5" height="148"/></clipPath><clipPath id="cf"><rect x="495" y="228.3" width="126.5" height="147"/></clipPath><linearGradient id="rdF" x1="0" x2="1" y1="0" y2="0"><stop offset="0" stop-color="#e8573c" stop-opacity="0.75"/><stop offset="1" stop-color="#f4a08c" stop-opacity="0"/></linearGradient><filter id="bl1" x="-50%" y="-50%" width="200%" height="200%"><feGaussianBlur stdDeviation="0.9"/></filter></defs><g id="gfx"><rect x="35.5" y="8.5" width="177" height="165" fill="none" stroke="#676767" stroke-width="1.05"/><line x1="32.8" y1="8.5" x2="35.5" y2="8.5" stroke="#676767" stroke-width="1"/><line x1="32.8" y1="36" x2="35.5" y2="36" stroke="#676767" stroke-width="1"/><line x1="32.8" y1="63.5" x2="35.5" y2="63.5" stroke="#676767" stroke-width="1"/><line x1="32.8" y1="91" x2="35.5" y2="91" stroke="#676767" stroke-width="1"/><line x1="32.8" y1="118.5" x2="35.5" y2="118.5" stroke="#676767" stroke-width="1"/><line x1="32.8" y1="146" x2="35.5" y2="146" stroke="#676767" stroke-width="1"/><line x1="32.8" y1="173.5" x2="35.5" y2="173.5" stroke="#676767" stroke-width="1"/><line x1="57.6" y1="173.5" x2="57.6" y2="175.7" stroke="#676767" stroke-width="1"/><line x1="79.8" y1="173.5" x2="79.8" y2="175.7" stroke="#676767" stroke-width="1"/><line x1="102" y1="173.5" x2="102" y2="175.7" stroke="#676767" stroke-width="1"/><line x1="124.2" y1="173.5" x2="124.2" y2="175.7" stroke="#676767" stroke-width="1"/><line x1="146.4" y1="173.5" x2="146.4" y2="175.7" stroke="#676767" stroke-width="1"/><line x1="168.6" y1="173.5" x2="168.6" y2="175.7" stroke="#676767" stroke-width="1"/><line x1="190.8" y1="173.5" x2="190.8" y2="175.7" stroke="#676767" stroke-width="1"/><line x1="212.5" y1="173.5" x2="212.5" y2="175.7" stroke="#676767" stroke-width="1"/><text y="28.5" font-size="13.6" font-family="Liberation Serif" stroke="#000" stroke-width="0.3"><tspan x="42.3" font-style="italic">t</tspan><tspan x="64.5">150</tspan><tspan x="86.9">fs</tspan></text><rect x="50.5" y="23.2" width="8.8" height="0.9" fill="#000"/><rect x="50.5" y="26.2" width="8.8" height="0.9" fill="#000"/><rect x="245.5" y="8.5" width="177" height="165" fill="none" stroke="#676767" stroke-width="1.05"/><line x1="242.8" y1="8.5" x2="245.5" y2="8.5" stroke="#676767" stroke-width="1"/><line x1="242.8" y1="36" x2="245.5" y2="36" stroke="#676767" stroke-width="1"/><line x1="242.8" y1="63.5" x2="245.5" y2="63.5" stroke="#676767" stroke-width="1"/><line x1="242.8" y1="91" x2="245.5" y2="91" stroke="#676767" stroke-width="1"/><line x1="242.8" y1="118.5" x2="245.5" y2="118.5" stroke="#676767" stroke-width="1"/><line x1="242.8" y1="146" x2="245.5" y2="146" stroke="#676767" stroke-width="1"/><line x1="242.8" y1="173.5" x2="245.5" y2="173.5" stroke="#676767" stroke-width="1"/><line x1="267.6" y1="173.5" x2="267.6" y2="175.7" stroke="#676767" stroke-width="1"/><line x1="289.8" y1="173.5" x2="289.8" y2="175.7" stroke="#676767" stroke-width="1"/><line x1="312" y1="173.5" x2="312" y2="175.7" stroke="#676767" stroke-width="1"/><line x1="334.2" y1="173.5" x2="334.2" y2="175.7" stroke="#676767" stroke-width="1"/><line x1="356.4" y1="173.5" x2="356.4" y2="175.7" stroke="#676767" stroke-width="1"/><line x1="378.6" y1="173.5" x2="378.6" y2="175.7" stroke="#676767" stroke-width="1"/><line x1="400.8" y1="173.5" x2="400.8" y2="175.7" stroke="#676767" stroke-width="1"/><line x1="422.5" y1="173.5" x2="422.5" y2="175.7" stroke="#676767" stroke-width="1"/><text y="28.5" font-size="13.6" font-family="Liberation Serif" stroke="#000" stroke-width="0.3"><tspan x="255.6" font-style="italic">t</tspan><tspan x="277.8">175</tspan><tspan x="300.2">fs</tspan></text><rect x="263.8" y="23.2" width="8.8" height="0.9" fill="#000"/><rect x="263.8" y="26.2" width="8.8" height="0.9" fill="#000"/><rect x="455.5" y="8.5" width="177" height="165" fill="none" stroke="#676767" stroke-width="1.05"/><line x1="452.8" y1="8.5" x2="455.5" y2="8.5" stroke="#676767" stroke-width="1"/><line x1="452.8" y1="36" x2="455.5" y2="36" stroke="#676767" stroke-width="1"/><line x1="452.8" y1="63.5" x2="455.5" y2="63.5" stroke="#676767" stroke-width="1"/><line x1="452.8" y1="91" x2="455.5" y2="91" stroke="#676767" stroke-width="1"/><line x1="452.8" y1="118.5" x2="455.5" y2="118.5" stroke="#676767" stroke-width="1"/><line x1="452.8" y1="146" x2="455.5" y2="146" stroke="#676767" stroke-width="1"/><line x1="452.8" y1="173.5" x2="455.5" y2="173.5" stroke="#676767" stroke-width="1"/><line x1="477.6" y1="173.5" x2="477.6" y2="175.7" stroke="#676767" stroke-width="1"/><line x1="499.8" y1="173.5" x2="499.8" y2="175.7" stroke="#676767" stroke-width="1"/><line x1="522" y1="173.5" x2="522" y2="175.7" stroke="#676767" stroke-width="1"/><line x1="544.2" y1="173.5" x2="544.2" y2="175.7" stroke="#676767" stroke-width="1"/><line x1="566.4" y1="173.5" x2="566.4" y2="175.7" stroke="#676767" stroke-width="1"/><line x1="588.6" y1="173.5" x2="588.6" y2="175.7" stroke="#676767" stroke-width="1"/><line x1="610.8" y1="173.5" x2="610.8" y2="175.7" stroke="#676767" stroke-width="1"/><line x1="632.5" y1="173.5" x2="632.5" y2="175.7" stroke="#676767" stroke-width="1"/><text y="28.5" font-size="13.6" font-family="Liberation Serif" stroke="#000" stroke-width="0.3"><tspan x="461.7" font-style="italic">t</tspan><tspan x="483.9">200</tspan><tspan x="506.3">fs</tspan></text><rect x="469.9" y="23.2" width="8.8" height="0.9" fill="#000"/><rect x="469.9" y="26.2" width="8.8" height="0.9" fill="#000"/><line x1="386" y1="119.5" x2="381.4" y2="98.5" stroke="#000" stroke-width="0.9" marker-end="url(#arK)"/><line x1="578.9" y1="113.6" x2="573.8" y2="92.2" stroke="#000" stroke-width="0.9" marker-end="url(#arK)"/><rect x="640" y="4" width="9" height="168" fill="none" stroke="#666" stroke-width="0.8"/><line x1="649" y1="4" x2="651" y2="4" stroke="#333" stroke-width="0.8"/><line x1="649" y1="32" x2="651" y2="32" stroke="#333" stroke-width="0.8"/><line x1="649" y1="60" x2="651" y2="60" stroke="#333" stroke-width="0.8"/><line x1="649" y1="88" x2="651" y2="88" stroke="#333" stroke-width="0.8"/><line x1="649" y1="116" x2="651" y2="116" stroke="#333" stroke-width="0.8"/><line x1="649" y1="144" x2="651" y2="144" stroke="#333" stroke-width="0.8"/><line x1="649" y1="172" x2="651" y2="172" stroke="#333" stroke-width="0.8"/><rect x="58.5" y="230.3" width="126.5" height="147" fill="none" stroke="#676767" stroke-width="1.1"/><line x1="56.3" y1="230.3" x2="58.5" y2="230.3" stroke="#676767" stroke-width="1"/><line x1="56.3" y1="254.8" x2="58.5" y2="254.8" stroke="#676767" stroke-width="1"/><line x1="56.3" y1="279.3" x2="58.5" y2="279.3" stroke="#676767" stroke-width="1"/><line x1="56.3" y1="303.8" x2="58.5" y2="303.8" stroke="#676767" stroke-width="1"/><line x1="56.3" y1="328.3" x2="58.5" y2="328.3" stroke="#676767" stroke-width="1"/><line x1="56.3" y1="352.8" x2="58.5" y2="352.8" stroke="#676767" stroke-width="1"/><line x1="56.3" y1="377.3" x2="58.5" y2="377.3" stroke="#676767" stroke-width="1"/><line x1="58.55" y1="228.1" x2="58.55" y2="230.3" stroke="#676767" stroke-width="1"/><line x1="58.55" y1="377.3" x2="58.55" y2="378.8" stroke="#999" stroke-width="0.8"/><line x1="79.2" y1="228.1" x2="79.2" y2="230.3" stroke="#676767" stroke-width="1"/><line x1="79.2" y1="377.3" x2="79.2" y2="378.8" stroke="#999" stroke-width="0.8"/><line x1="99.85" y1="228.1" x2="99.85" y2="230.3" stroke="#676767" stroke-width="1"/><line x1="99.85" y1="377.3" x2="99.85" y2="378.8" stroke="#999" stroke-width="0.8"/><line x1="120.5" y1="228.1" x2="120.5" y2="230.3" stroke="#676767" stroke-width="1"/><line x1="120.5" y1="377.3" x2="120.5" y2="378.8" stroke="#999" stroke-width="0.8"/><line x1="141.15" y1="228.1" x2="141.15" y2="230.3" stroke="#676767" stroke-width="1"/><line x1="141.15" y1="377.3" x2="141.15" y2="378.8" stroke="#999" stroke-width="0.8"/><line x1="161.8" y1="228.1" x2="161.8" y2="230.3" stroke="#676767" stroke-width="1"/><line x1="161.8" y1="377.3" x2="161.8" y2="378.8" stroke="#999" stroke-width="0.8"/><line x1="182.45" y1="228.1" x2="182.45" y2="230.3" stroke="#676767" stroke-width="1"/><line x1="182.45" y1="377.3" x2="182.45" y2="378.8" stroke="#999" stroke-width="0.8"/><rect x="284" y="229" width="127.5" height="148" fill="none" stroke="#676767" stroke-width="1.1"/><line x1="281.8" y1="229" x2="284" y2="229" stroke="#676767" stroke-width="1"/><line x1="281.8" y1="253.667" x2="284" y2="253.667" stroke="#676767" stroke-width="1"/><line x1="281.8" y1="278.333" x2="284" y2="278.333" stroke="#676767" stroke-width="1"/><line x1="281.8" y1="303" x2="284" y2="303" stroke="#676767" stroke-width="1"/><line x1="281.8" y1="327.667" x2="284" y2="327.667" stroke="#676767" stroke-width="1"/><line x1="281.8" y1="352.333" x2="284" y2="352.333" stroke="#676767" stroke-width="1"/><line x1="281.8" y1="377" x2="284" y2="377" stroke="#676767" stroke-width="1"/><line x1="285.05" y1="226.8" x2="285.05" y2="229" stroke="#676767" stroke-width="1"/><line x1="285.05" y1="377" x2="285.05" y2="378.5" stroke="#999" stroke-width="0.8"/><line x1="300.8" y1="226.8" x2="300.8" y2="229" stroke="#676767" stroke-width="1"/><line x1="300.8" y1="377" x2="300.8" y2="378.5" stroke="#999" stroke-width="0.8"/><line x1="316.55" y1="226.8" x2="316.55" y2="229" stroke="#676767" stroke-width="1"/><line x1="316.55" y1="377" x2="316.55" y2="378.5" stroke="#999" stroke-width="0.8"/><line x1="332.3" y1="226.8" x2="332.3" y2="229" stroke="#676767" stroke-width="1"/><line x1="332.3" y1="377" x2="332.3" y2="378.5" stroke="#999" stroke-width="0.8"/><line x1="348.05" y1="226.8" x2="348.05" y2="229" stroke="#676767" stroke-width="1"/><line x1="348.05" y1="377" x2="348.05" y2="378.5" stroke="#999" stroke-width="0.8"/><line x1="363.8" y1="226.8" x2="363.8" y2="229" stroke="#676767" stroke-width="1"/><line x1="363.8" y1="377" x2="363.8" y2="378.5" stroke="#999" stroke-width="0.8"/><line x1="379.55" y1="226.8" x2="379.55" y2="229" stroke="#676767" stroke-width="1"/><line x1="379.55" y1="377" x2="379.55" y2="378.5" stroke="#999" stroke-width="0.8"/><line x1="395.3" y1="226.8" x2="395.3" y2="229" stroke="#676767" stroke-width="1"/><line x1="395.3" y1="377" x2="395.3" y2="378.5" stroke="#999" stroke-width="0.8"/><line x1="411.05" y1="226.8" x2="411.05" y2="229" stroke="#676767" stroke-width="1"/><line x1="411.05" y1="377" x2="411.05" y2="378.5" stroke="#999" stroke-width="0.8"/><rect x="495" y="228.3" width="126.5" height="147" fill="none" stroke="#676767" stroke-width="1.1"/><line x1="492.8" y1="228.3" x2="495" y2="228.3" stroke="#676767" stroke-width="1"/><line x1="492.8" y1="252.8" x2="495" y2="252.8" stroke="#676767" stroke-width="1"/><line x1="492.8" y1="277.3" x2="495" y2="277.3" stroke="#676767" stroke-width="1"/><line x1="492.8" y1="301.8" x2="495" y2="301.8" stroke="#676767" stroke-width="1"/><line x1="492.8" y1="326.3" x2="495" y2="326.3" stroke="#676767" stroke-width="1"/><line x1="492.8" y1="350.8" x2="495" y2="350.8" stroke="#676767" stroke-width="1"/><line x1="492.8" y1="375.3" x2="495" y2="375.3" stroke="#676767" stroke-width="1"/><line x1="495.6" y1="226.1" x2="495.6" y2="228.3" stroke="#676767" stroke-width="1"/><line x1="495.6" y1="375.3" x2="495.6" y2="376.8" stroke="#999" stroke-width="0.8"/><line x1="511.6" y1="226.1" x2="511.6" y2="228.3" stroke="#676767" stroke-width="1"/><line x1="511.6" y1="375.3" x2="511.6" y2="376.8" stroke="#999" stroke-width="0.8"/><line x1="527.6" y1="226.1" x2="527.6" y2="228.3" stroke="#676767" stroke-width="1"/><line x1="527.6" y1="375.3" x2="527.6" y2="376.8" stroke="#999" stroke-width="0.8"/><line x1="543.6" y1="226.1" x2="543.6" y2="228.3" stroke="#676767" stroke-width="1"/><line x1="543.6" y1="375.3" x2="543.6" y2="376.8" stroke="#999" stroke-width="0.8"/><line x1="559.6" y1="226.1" x2="559.6" y2="228.3" stroke="#676767" stroke-width="1"/><line x1="559.6" y1="375.3" x2="559.6" y2="376.8" stroke="#999" stroke-width="0.8"/><line x1="575.6" y1="226.1" x2="575.6" y2="228.3" stroke="#676767" stroke-width="1"/><line x1="575.6" y1="375.3" x2="575.6" y2="376.8" stroke="#999" stroke-width="0.8"/><line x1="591.6" y1="226.1" x2="591.6" y2="228.3" stroke="#676767" stroke-width="1"/><line x1="591.6" y1="375.3" x2="591.6" y2="376.8" stroke="#999" stroke-width="0.8"/><line x1="607.6" y1="226.1" x2="607.6" y2="228.3" stroke="#676767" stroke-width="1"/><line x1="607.6" y1="375.3" x2="607.6" y2="376.8" stroke="#999" stroke-width="0.8"/><g clip-path="url(#cd)"><path d="M112.3 230 L119 230 L119.3 300 L119 377.3 L114.5 377.3 L113.5 300 Z" fill="url(#pkL)"/><path d="M124.7 230 L131.8 230 L131.5 300 L130.5 377.3 L124.7 377.3 Z" fill="url(#pkR)"/><path d="M141.9 230 L147.5 230 L149 300 L148.1 377.3 L142.3 377.3 L143 300 Z" fill="#80c47e"/><line x1="121.6" y1="236.5" x2="121.9" y2="369" stroke="#8a8a8a" stroke-width="0.9"/><path d="M122.1 268 L122.6 268 L123.6 290 L124.2 318 L123.4 345 L122.4 345 L121.9 318 L121.9 290 Z" fill="#c42a1c"/><path d="M58.5 354.9 L60.1 355.3 L61.6 355.8 L63.2 355.5 L64.7 356.1 L66.3 355.6 L67.8 356.8 L68.9 358.0 L70.0 358.4 L71.1 358.8 L72.4 359.2 L73.7 360.4 L75.0 361.0 L76.3 361.4 L77.6 361.1 L78.9 360.5 L80.3 360.3 L81.6 359.5 L82.9 359.1 L84.2 359.4 L85.5 359.2 L86.8 359.5 L87.8 361.0 L88.8 361.8 L89.7 362.7 L90.7 364.0 L91.7 364.4 L92.7 365.5 L93.7 366.5 L94.7 367.3 L95.8 368.0 L96.9 369.8 L98.0 370.0 L99.1 370.0 L100.1 367.3 L101.2 368.2 L102.5 367.2 L103.8 368.1 L105.1 368.2 L105.9 366.8 L106.8 365.9 L107.6 364.7 L108.4 363.4 L110.4 362.7 L110.9 365.0 L111.3 364.4 L111.8 365.9 L112.3 367.3 L113.4 367.6 L114.5 365.9 L115.6 364.7 L116.5 364.0 L117.3 362.2 L118.2 361.4 L118.5 359.3 L118.9 359.2 L119.2 358.0 L119.6 356.8 L120.1 357.7 L120.6 360.0 L120.7 361.0 L120.8 362.6 L120.9 363.5 L121.1 365.3 L121.2 366.7 L121.3 368.0 L121.3 366.8 L121.4 365.3 L121.4 364.6 L121.5 363.6 L121.5 362.0 L121.5 360.2 L121.6 359.8 L121.6 357.9 L121.6 357.4 L121.7 355.1 L121.7 355.0 L121.8 353.2 L121.8 352.0" fill="none" stroke="#5a5a5a" stroke-width="0.75"/><path d="M125.5 313.3 L125.9 312.2 L126.2 310.6 L126.6 309.5 L126.9 307.2 L127.3 308.4 L127.6 306.8 L128.0 305.0 L128.4 303.7 L128.8 303.1 L129.2 301.7 L129.7 300.0 L130.1 299.7 L130.5 298.0 L131.1 296.6 L131.7 295.4 L132.3 294.4 L132.9 295.1 L133.4 297.0 L133.9 297.8 L134.5 299.0 L134.9 300.5 L135.3 301.0 L135.8 302.6 L136.2 303.2 L136.6 305.3 L137.0 306.0 L137.6 307.4 L138.1 308.7 L138.7 310.0 L139.3 310.4 L139.8 312.7 L140.4 313.5 L140.9 315.8 L141.4 314.9 L141.9 316.0 L142.3 317.3 L142.8 319.8 L143.3 320.5 L144.1 321.8 L144.8 323.5 L145.6 324.5 L146.3 325.3 L147.2 326.3 L148.1 327.3 L149.0 328.0 L150.1 328.6 L151.1 329.8 L152.2 330.0 L153.0 330.7 L153.7 332.4 L154.5 334.0 L155.1 335.2 L155.7 337.1 L156.3 336.8 L156.9 338.3 L157.6 338.9 L158.3 340.5 L159.0 342.0 L159.9 343.6 L160.7 344.1 L161.6 345.3 L162.8 345.6 L164.0 344.5 L165.0 342.7 L166.0 343.0 L167.3 343.6 L168.7 343.0 L169.8 344.3 L171.0 344.5 L173.0 345.5 L174.4 345.2 L175.8 346.5 L177.4 346.8 L179.0 347.0 L180.3 347.9 L181.5 347.5 L182.8 347.7 L185.0 347.0" fill="none" stroke="#5a5a5a" stroke-width="0.75"/></g><line x1="114.5" y1="295.5" x2="121.6" y2="299.6" stroke="#000" stroke-width="0.9" marker-end="url(#arK)"/><line x1="133.7" y1="270.1" x2="123.3" y2="279.8" stroke="#e8452e" stroke-width="0.9" marker-end="url(#arR)"/><line x1="107" y1="338.1" x2="117.5" y2="341.6" stroke="#e8452e" stroke-width="0.9" marker-end="url(#arR)"/><line x1="110" y1="339.6" x2="127" y2="350.8" stroke="#e8452e" stroke-width="0.9" marker-end="url(#arR)"/><g clip-path="url(#ce)"><path d="M327.8 229 L328.9 229 L329.8 300 L329.5 377 L328.4 377 L328.6 300 Z" fill="#f6b4a4" opacity="0.45"/><path d="M335 229 L336 229 L339.3 300 L336.8 377 L335.8 377 L338.3 300 Z" fill="#f6b4a4" opacity="0.45"/><path d="M351.6 229 Q 364.5 303 351.8 377 L 356.3 377 Q 369.2 303 356.1 229 Z" fill="#86c884"/><line x1="332" y1="235" x2="332.6" y2="362" stroke="#c4c4c4" stroke-width="1.4"/><path d="M332.4 267 Q 339.5 300 332.4 335 L 331.7 335 Q 333.2 300 331.9 267 Z" fill="#f2a590" opacity="0.6" filter="url(#bl1)"/><path d="M332.3 268.5 Q 338.8 300 332.3 334 L 331.8 334 Q 333.5 300 331.9 268.5 Z" fill="#d83a24"/><path d="M333.5 275 Q 340 300 333 332" fill="none" stroke="#f39a84" stroke-width="1.2" opacity="0.8"/><path d="M284.0 352.8 L285.5 354.3 L287.0 353.5 L288.5 352.3 L290.0 354.0 L291.5 353.5 L293.0 352.5 L294.6 351.9 L296.1 352.0 L297.1 352.6 L298.0 353.5 L299.0 354.5 L300.1 354.1 L301.1 355.7 L302.2 356.5 L303.5 356.4 L304.9 359.0 L306.2 357.5 L307.1 358.5 L308.1 359.0 L309.0 360.0 L310.1 361.0 L311.1 362.0 L312.2 363.5 L313.1 363.7 L314.1 364.8 L315.1 366.0 L316.0 366.5 L317.1 367.4 L318.2 369.1 L319.3 369.6 L320.0 368.3 L320.8 367.2 L321.5 366.0 L322.2 365.7 L322.9 364.0 L323.6 362.3 L324.3 361.5 L325.1 360.4 L325.9 359.8 L326.6 359.6 L327.4 357.5 L328.4 356.7 L329.4 356.0 L330.4 355.4 L331.7 355.8 L333.0 355.0 L333.1 353.2 L333.1 352.2 L333.1 351.5 L333.2 350.0 L333.2 348.4 L333.3 347.4 L333.3 344.2 L333.4 344.4 L333.4 343.7 L333.4 341.4 L333.3 339.8 L333.3 339.6 L333.3 338.6 L333.3 336.7 L333.3 335.1 L333.2 334.5 L333.2 333.2 L333.2 332.0" fill="none" stroke="#5a5a5a" stroke-width="0.75"/><path d="M335.1 321.8 L335.6 322.8 L336.0 324.5 L336.5 326.0 L337.0 328.4 L337.4 329.4 L337.9 330.5 L338.2 328.3 L338.6 328.0 L338.9 326.4 L339.3 325.6 L339.6 323.4 L340.0 323.0 L340.3 321.9 L340.6 320.7 L340.9 320.2 L341.1 318.3 L341.4 317.2 L341.7 314.9 L342.0 314.5 L342.3 314.5 L342.6 311.0 L342.9 310.8 L343.8 310.3 L344.8 308.5 L345.7 307.6 L346.6 308.3 L347.5 309.9 L349.3 308.5 L350.5 309.3 L351.6 310.8 L353.0 309.5 L353.9 310.1 L354.7 311.7 L355.6 312.5 L356.6 313.7 L357.6 315.0 L358.1 316.9 L358.6 316.2 L359.0 318.4 L359.5 319.5 L360.0 320.2 L360.6 322.3 L361.1 321.9 L361.6 324.2 L362.7 324.8 L363.9 325.8 L365.0 326.5 L366.2 326.3 L367.5 328.2 L368.7 328.2 L370.4 328.8 L372.0 329.2 L373.3 330.1 L374.5 330.4 L375.8 330.2 L376.9 330.8 L378.0 332.5 L379.4 333.0 L380.8 334.3 L382.2 334.4 L383.6 335.0 L385.0 334.8 L386.5 335.4 L387.9 334.7 L389.4 334.8 L390.9 335.3 L392.2 335.1 L393.4 335.5 L394.7 335.9 L396.0 336.3 L397.4 336.4 L398.8 337.8 L400.2 336.6 L401.6 336.9 L403.0 337.3 L404.3 337.4 L405.7 336.4 L407.0 336.8 L408.5 336.8 L410.0 337.3 L411.5 337.5" fill="none" stroke="#5a5a5a" stroke-width="0.75"/></g><g clip-path="url(#cf)"><path d="M541.8 266 L546 268 L553 294 L550.5 298 L541.8 290 Z" fill="#f6b4a2" opacity="0.45" filter="url(#bl1)"/><path d="M541.6 269 L544.8 270.5 L548.5 283 L552 294 L550.3 295.5 L544.5 288 L541.6 286 Z" fill="#ea6446" opacity="0.8" filter="url(#bl1)"/><path d="M543 285 L549 290 L551 305 L548.5 318 L543 320 Z" fill="#f6b8a6" opacity="0.45" filter="url(#bl1)"/><path d="M546.5 316 L548.2 318.5 L544.3 331 L542 331 L542 326 Z" fill="#e8502f" opacity="0.85" filter="url(#bl1)"/><line x1="544.4" y1="280" x2="544.4" y2="322" stroke="#b8b8b8" stroke-width="0.8"/><path d="M539.8 300 L538.6 340 L539.5 376" fill="none" stroke="#f4a08c" stroke-width="0.7" opacity="0.6"/><path d="M538.2 228.3 L542.5 237 L546.7 228.3" fill="none" stroke="#e8573c" stroke-width="0.9" opacity="0.8"/><path d="M538.3 375.3 L542.5 357.5 L546.6 375.3" fill="none" stroke="#e8573c" stroke-width="0.9" opacity="0.8"/><path d="M546 233 Q 573 300 547.5 372" fill="none" stroke="#f4a08c" stroke-width="0.6" opacity="0.4"/><path d="M566.9 226.0 L570.9 245.0 L575.4 260.0 L580.0 275.0 L583.9 290.0 L584.8 300.0 L584.2 310.0 L581.6 325.0 L578.2 340.0 L573.3 355.0 L566.8 377.0 L573.2 377.0 L578.7 355.0 L582.8 340.0 L585.4 325.0 L587.4 310.0 L587.8 300.0 L587.1 290.0 L584.0 275.0 L580.6 260.0 L577.1 245.0 L574.1 226.0 Z" fill="url(#grnF)"/><line x1="542.3" y1="230" x2="542.6" y2="366.6" stroke="#555" stroke-width="0.9"/><path d="M495.0 338.4 L495.5 338.7 L496.0 339.2 L496.5 340.9 L497.0 342.0 L497.6 343.1 L498.2 344.5 L498.9 344.5 L499.5 345.2 L500.3 345.4 L501.2 345.8 L502.0 347.0 L503.0 348.3 L504.0 348.5 L505.0 349.5 L506.0 348.0 L506.6 348.9 L507.2 348.5 L507.9 349.4 L508.5 350.8 L509.1 352.8 L509.8 352.6 L510.4 351.9 L511.0 354.0 L511.5 354.9 L512.0 355.1 L512.5 356.5 L513.0 358.0 L513.5 358.4 L513.9 359.1 L514.4 360.8 L514.8 361.2 L515.3 362.0 L515.9 360.6 L516.4 360.3 L517.0 359.0 L517.4 358.7 L517.8 355.9 L518.2 356.0 L518.6 355.3 L519.2 353.7 L519.8 353.5 L520.4 351.9 L521.0 352.0 L521.8 351.4 L522.6 350.8 L523.5 350.0 L524.3 349.7 L524.9 349.7 L525.4 350.9 L526.0 352.0 L526.5 352.2 L527.0 353.0 L527.5 355.2 L528.0 356.0 L529.0 356.0 L529.9 357.6 L530.3 357.6 L530.7 356.3 L531.2 353.3 L531.6 354.1 L532.0 353.0 L532.4 351.2 L532.8 351.2 L533.2 350.2 L533.6 347.8 L534.0 348.2 L534.4 347.4 L534.7 346.3 L535.0 346.4 L535.4 343.9 L535.7 344.4 L536.0 343.0 L536.4 341.3 L536.7 340.9 L537.1 339.6 L537.4 340.4 L537.8 338.4 L538.0 337.9 L538.2 338.5 L538.4 336.2 L538.6 335.5 L538.8 334.6 L539.0 332.7 L539.2 332.2 L539.4 332.4 L539.6 330.5 L539.9 331.1 L540.2 332.4 L540.6 333.2 L540.9 334.6 L541.2 335.0 L541.3 335.6 L541.3 336.7 L541.4 337.9 L541.5 338.7 L541.6 338.9 L541.6 341.1 L541.7 340.4 L541.8 341.4 L541.9 342.2 L541.9 344.8 L542.0 345.0" fill="none" stroke="#5a5a5a" stroke-width="0.75"/><path d="M543.4 321.5 L544.5 323.0 L545.5 323.0 L546.7 324.7 L547.9 323.8 L548.4 320.9 L549.0 321.8 L549.5 321.7 L550.0 320.0 L550.4 320.0 L550.9 318.5 L551.3 317.0 L551.6 317.1 L552.0 315.2 L552.3 314.4 L552.7 313.1 L553.0 312.0 L553.4 310.2 L553.9 309.4 L554.3 309.3 L554.7 308.0 L555.6 308.6 L556.5 310.0 L557.2 311.7 L558.0 311.4 L559.0 313.2 L560.0 313.0 L560.7 315.2 L561.4 314.8 L561.6 313.8 L561.8 313.9 L562.0 311.2 L562.1 310.3 L562.3 310.0 L562.5 309.0 L562.7 308.3 L562.9 306.0 L563.1 305.0 L563.3 305.6 L563.5 303.8 L563.7 303.5 L563.9 303.5 L564.1 302.0 L564.4 301.0 L564.6 300.0 L564.8 299.6 L565.0 298.0 L565.3 296.9 L565.7 296.9 L566.0 294.8 L566.3 294.0 L566.7 292.7 L567.0 292.3 L567.2 291.8 L567.5 290.5 L567.8 288.9 L568.0 290.2 L568.2 287.5 L568.5 286.7 L568.8 286.2 L569.0 285.0 L569.4 285.4 L569.8 283.1 L570.2 282.9 L570.5 281.6 L570.9 279.5 L571.3 280.3 L571.7 279.6 L572.1 278.0 L572.7 278.5 L573.4 279.3 L574.0 280.0 L574.6 279.7 L575.3 280.6 L575.9 282.6 L576.7 283.0 L577.5 284.0 L578.1 285.7 L578.7 286.4 L579.0 287.0 L579.2 288.5 L579.5 289.9 L579.7 290.2 L580.0 291.0 L580.1 292.4 L580.3 294.0 L580.5 293.0 L580.6 294.9 L581.4 295.0 L582.2 292.6 L583.0 293.5 L584.1 293.6 L585.3 293.0 L585.8 294.1 L586.3 294.5 L586.8 295.0 L587.3 296.8 L587.8 297.6 L588.2 298.2 L588.6 299.5 L589.1 299.6 L589.5 301.5 L590.0 302.0 L590.4 302.1 L590.9 303.5 L591.3 304.3 L591.7 306.4 L592.1 305.2 L592.6 306.8 L593.0 308.0 L594.0 308.7 L595.0 307.2 L596.0 307.5 L597.0 306.5 L597.9 307.5 L598.9 306.9 L599.8 307.6 L600.8 306.9 L601.6 307.0 L602.4 308.6 L603.2 309.7 L604.0 310.0 L604.8 311.5 L605.5 310.7 L606.2 313.3 L607.0 313.0 L607.7 313.0 L608.4 313.3 L609.1 314.5 L609.8 315.9 L610.3 315.3 L610.9 314.2 L611.5 314.1 L612.0 313.0 L612.9 313.0 L613.8 312.4 L614.6 311.6 L615.5 311.4 L616.1 313.4 L616.8 311.0 L617.4 312.0 L618.0 314.0 L618.7 314.4 L619.4 314.7 L620.1 314.5 L620.8 316.6 L621.5 318.0" fill="none" stroke="#5a5a5a" stroke-width="0.75"/></g><rect x="628" y="228" width="3.6" height="66.4" fill="url(#cbG)" stroke="#999" stroke-width="0.4"/><rect x="628" y="311.2" width="3.6" height="66.2" fill="url(#cbR)" stroke="#999" stroke-width="0.4"/></g><g id="txt" stroke-width="0.12"><text id="xt0_0" x="79.20" y="186.80" font-size="11.4" text-anchor="middle" font-family="Liberation Sans" fill="#000" stroke="#000" >-50</text><text id="xt0_1" x="124.30" y="186.80" font-size="11.4" text-anchor="middle" font-family="Liberation Sans" fill="#000" stroke="#000" >0</text><text id="xt0_2" x="167.10" y="186.80" font-size="11.4" text-anchor="middle" font-family="Liberation Sans" fill="#000" stroke="#000" >50</text><text id="xl0" x="124.90" y="206.30" font-size="13.4" text-anchor="middle" font-family="Liberation Serif" fill="#000" stroke="#000" ><tspan font-style="italic">x</tspan> [nm]</text><text id="xt1_0" x="290.90" y="186.80" font-size="11.4" text-anchor="middle" font-family="Liberation Sans" fill="#000" stroke="#000" >-50</text><text id="xt1_1" x="335.20" y="186.80" font-size="11.4" text-anchor="middle" font-family="Liberation Sans" fill="#000" stroke="#000" >0</text><text id="xt1_2" x="378.80" y="186.80" font-size="11.4" text-anchor="middle" font-family="Liberation Sans" fill="#000" stroke="#000" >50</text><text id="xl1" x="336.50" y="206.30" font-size="13.4" text-anchor="middle" font-family="Liberation Serif" fill="#000" stroke="#000" ><tspan font-style="italic">x</tspan> [nm]</text><text id="xt2_0" x="502.00" y="186.80" font-size="11.4" text-anchor="middle" font-family="Liberation Sans" fill="#000" stroke="#000" >-50</text><text id="xt2_1" x="545.90" y="186.80" font-size="11.4" text-anchor="middle" font-family="Liberation Sans" fill="#000" stroke="#000" >0</text><text id="xt2_2" x="589.80" y="186.80" font-size="11.4" text-anchor="middle" font-family="Liberation Sans" fill="#000" stroke="#000" >50</text><text id="xl2" x="547.90" y="206.30" font-size="13.4" text-anchor="middle" font-family="Liberation Serif" fill="#000" stroke="#000" ><tspan font-style="italic">x</tspan> [nm]</text><text id="ay10" x="28.70" y="42.44" font-size="11.4" text-anchor="end" font-family="Liberation Sans" fill="#000" stroke="#000" >10</text><text id="ay0" x="27.90" y="95.60" font-size="11.4" text-anchor="end" font-family="Liberation Sans" fill="#000" stroke="#000" >0</text><text id="aym10" x="28.20" y="149.40" font-size="11.4" text-anchor="end" font-family="Liberation Sans" fill="#000" stroke="#000" >-10</text><text id="ayl" transform="translate(11.00,93.90) rotate(-90)" font-size="14" text-anchor="middle" font-family="Liberation Serif" fill="#000" stroke="#000" ><tspan font-style="italic">y</tspan> [<tspan font-style="italic">μ</tspan>m]</text><text id="pa" x="0.80" y="16.40" font-size="14.5" text-anchor="start" font-family="Liberation Sans" fill="#000" stroke="#000" >(a)</text><text id="pb" x="221.60" y="16.40" font-size="14.5" text-anchor="start" font-family="Liberation Sans" fill="#000" stroke="#000" >(b)</text><text id="pc" x="432.20" y="16.00" font-size="14.5" text-anchor="start" font-family="Liberation Sans" fill="#000" stroke="#000" >(c)</text><text id="pd" x="10.50" y="233.00" font-size="14.5" text-anchor="start" font-family="Liberation Sans" fill="#000" stroke="#000" >(d)</text><text id="pe" x="235.60" y="233.20" font-size="14.5" text-anchor="start" font-family="Liberation Sans" fill="#000" stroke="#000" >(e)</text><text id="pf" x="447.80" y="233.20" font-size="14.5" text-anchor="start" font-family="Liberation Sans" fill="#000" stroke="#000" >(f)</text><text id="eb1" x="371.90" y="132.60" font-size="11.5" text-anchor="start" font-family="Liberation Sans" fill="#000" stroke="#000" >Electron</text><text id="eb2" x="373.30" y="149.50" font-size="11.5" text-anchor="start" font-family="Liberation Sans" fill="#000" stroke="#000" >blowout</text><text id="ed1" x="584.60" y="127.70" font-size="11.5" text-anchor="middle" font-family="Liberation Sans" fill="#000" stroke="#000" >Electron</text><text id="ed2" x="584.60" y="138.90" font-size="11.5" text-anchor="middle" font-family="Liberation Sans" fill="#000" stroke="#000" >depletion</text><text id="ed3" x="584.20" y="149.90" font-size="11.5" text-anchor="middle" font-family="Liberation Sans" fill="#000" stroke="#000" >region</text><text id="cb0" x="654.10" y="9.30" font-size="11.4" text-anchor="start" font-family="Liberation Sans" fill="#000" stroke="#000" >3</text><text id="cb1" x="654.60" y="37.10" font-size="11.4" text-anchor="start" font-family="Liberation Sans" fill="#000" stroke="#000" >2</text><text id="cb2" x="653.30" y="64.10" font-size="11.4" text-anchor="start" font-family="Liberation Sans" fill="#000" stroke="#000" >1</text><text id="cb3" x="655.10" y="93.40" font-size="11.4" text-anchor="start" font-family="Liberation Sans" fill="#000" stroke="#000" >0</text><text id="cb4" x="652.10" y="121.30" font-size="11.4" text-anchor="start" font-family="Liberation Sans" fill="#000" stroke="#000" >-1</text><text id="cb5" x="652.10" y="149.70" font-size="11.4" text-anchor="start" font-family="Liberation Sans" fill="#000" stroke="#000" >-2</text><text id="cb6" x="652.10" y="175.00" font-size="11.4" text-anchor="start" font-family="Liberation Sans" fill="#000" stroke="#000" >-3</text><text id="cbl" transform="translate(680.40,86.80) rotate(-90)" font-size="14.4" text-anchor="middle" font-family="Liberation Serif" fill="#000" stroke="#000" >log<tspan font-size="10" dy="2.5">10</tspan><tspan dy="-2.5">(n</tspan><tspan font-size="10" dy="2.5">e</tspan><tspan dy="-2.5">/n</tspan><tspan font-size="10" dy="2.5">c</tspan><tspan dy="-2.5">)</tspan></text><text id="bx0_0" x="76.60" y="226.50" font-size="11.4" text-anchor="middle" font-family="Liberation Sans" fill="#000" stroke="#000" >-1000</text><text id="bx0_1" x="119.40" y="226.50" font-size="11.4" text-anchor="middle" font-family="Liberation Sans" fill="#000" stroke="#000" >0</text><text id="bx0_2" x="161.80" y="226.50" font-size="11.4" text-anchor="middle" font-family="Liberation Sans" fill="#000" stroke="#000" >1000</text><text id="by0_0" x="44.30" y="259.50" font-size="11.4" text-anchor="middle" font-family="Liberation Sans" fill="#000" stroke="#000" >10</text><text id="by0_1" x="44.40" y="307.70" font-size="11.4" text-anchor="middle" font-family="Liberation Sans" fill="#000" stroke="#000" >0</text><text id="by0_2" x="40.80" y="355.20" font-size="11.4" text-anchor="middle" font-family="Liberation Sans" fill="#000" stroke="#000" >-10</text><text id="byl0" transform="translate(30.40,305.70) rotate(-90)" font-size="14" text-anchor="middle" font-family="Liberation Serif" fill="#000" stroke="#000" ><tspan font-style="italic">y</tspan> [<tspan font-style="italic">μ</tspan>m]</text><text id="bx1_0" x="297.30" y="225.30" font-size="11.4" text-anchor="middle" font-family="Liberation Sans" fill="#000" stroke="#000" >-1000</text><text id="bx1_1" x="331.60" y="225.30" font-size="11.4" text-anchor="middle" font-family="Liberation Sans" fill="#000" stroke="#000" >0</text><text id="bx1_2" x="363.40" y="225.30" font-size="11.4" text-anchor="middle" font-family="Liberation Sans" fill="#000" stroke="#000" >1000</text><text id="bx1_3" x="396.80" y="225.30" font-size="11.4" text-anchor="middle" font-family="Liberation Sans" fill="#000" stroke="#000" >2000</text><text id="by1_0" x="269.80" y="260.57" font-size="11.4" text-anchor="middle" font-family="Liberation Sans" fill="#000" stroke="#000" >10</text><text id="by1_1" x="269.20" y="308.30" font-size="11.4" text-anchor="middle" font-family="Liberation Sans" fill="#000" stroke="#000" >0</text><text id="by1_2" x="266.10" y="356.43" font-size="11.4" text-anchor="middle" font-family="Liberation Sans" fill="#000" stroke="#000" >-10</text><text id="byl1" transform="translate(255.90,304.30) rotate(-90)" font-size="14" text-anchor="middle" font-family="Liberation Serif" fill="#000" stroke="#000" ><tspan font-style="italic">y</tspan> [<tspan font-style="italic">μ</tspan>m]</text><text id="bx2_0" x="509.10" y="223.80" font-size="11.4" text-anchor="middle" font-family="Liberation Sans" fill="#000" stroke="#000" >-1000</text><text id="bx2_1" x="543.70" y="223.80" font-size="11.4" text-anchor="middle" font-family="Liberation Sans" fill="#000" stroke="#000" >0</text><text id="bx2_2" x="575.10" y="223.70" font-size="11.4" text-anchor="middle" font-family="Liberation Sans" fill="#000" stroke="#000" >1000</text><text id="bx2_3" x="609.00" y="223.70" font-size="11.4" text-anchor="middle" font-family="Liberation Sans" fill="#000" stroke="#000" >2000</text><text id="by2_0" x="480.80" y="259.30" font-size="11.4" text-anchor="middle" font-family="Liberation Sans" fill="#000" stroke="#000" >10</text><text id="by2_1" x="480.20" y="307.70" font-size="11.4" text-anchor="middle" font-family="Liberation Sans" fill="#000" stroke="#000" >0</text><text id="by2_2" x="477.10" y="356.50" font-size="11.4" text-anchor="middle" font-family="Liberation Sans" fill="#000" stroke="#000" >-10</text><text id="byl2" transform="translate(466.90,303.70) rotate(-90)" font-size="14" text-anchor="middle" font-family="Liberation Serif" fill="#000" stroke="#000" ><tspan font-style="italic">y</tspan> [<tspan font-style="italic">μ</tspan>m]</text><text id="dR" x="109.00" y="248.30" font-size="11" text-anchor="start" font-family="Liberation Sans" fill="#000" stroke="#000" >R</text><text id="dP" x="131.00" y="288.60" font-size="11" text-anchor="start" font-family="Liberation Sans" fill="#000" stroke="#000" >P</text><text id="dT" x="108.40" y="299.00" font-size="11" text-anchor="start" font-family="Liberation Sans" fill="#000" stroke="#000" >T</text><text id="dL1" x="172.20" y="260.30" font-size="8.8" text-anchor="end" font-family="Liberation Sans" fill="#e8452e" stroke="#e8452e" >Laser</text><text id="dL2" x="172.00" y="268.00" font-size="8.8" text-anchor="end" font-family="Liberation Sans" fill="#e8452e" stroke="#e8452e" >expansion</text><text id="dPE" x="61.90" y="336.00" font-size="8.8" text-anchor="start" font-family="Liberation Sans" fill="#e8452e" stroke="#e8452e" >Pre-expansion</text><text id="dEx" x="162.90" y="338.10" font-size="14" text-anchor="start" font-family="Liberation Serif" fill="#000" stroke="#000" font-style="italic">E<tspan font-size="10" dy="3">x</tspan></text><text id="eR" x="322.70" y="246.10" font-size="11" text-anchor="start" font-family="Liberation Sans" fill="#000" stroke="#000" >R</text><text id="eP" x="344.10" y="304.90" font-size="11" text-anchor="start" font-family="Liberation Sans" fill="#000" stroke="#000" >P</text><text id="eT" x="333.70" y="321.20" font-size="11" text-anchor="start" font-family="Liberation Sans" fill="#000" stroke="#000" >T</text><text id="fR" x="531.90" y="248.60" font-size="11" text-anchor="start" font-family="Liberation Sans" fill="#000" stroke="#000" >R</text><text id="fP" x="566.60" y="276.50" font-size="11" text-anchor="start" font-family="Liberation Sans" fill="#000" stroke="#000" >P</text><text id="fT" x="553.40" y="305.00" font-size="11" text-anchor="start" font-family="Liberation Sans" fill="#000" stroke="#000" >T</text><text id="g1" x="635.70" y="233.30" font-size="11.4" text-anchor="start" font-family="Liberation Sans" fill="#3e8e3a" stroke="#3e8e3a" >1</text><text id="g0" x="636.40" y="264.40" font-size="11.4" text-anchor="start" font-family="Liberation Sans" fill="#3e8e3a" stroke="#3e8e3a" >0</text><text id="g-2" x="636.90" y="296.20" font-size="11.4" text-anchor="start" font-family="Liberation Sans" fill="#3e8e3a" stroke="#3e8e3a" >-2</text><text id="r1" x="635.70" y="318.30" font-size="11.4" text-anchor="start" font-family="Liberation Sans" fill="#e8452e" stroke="#e8452e" >1</text><text id="r0" x="636.40" y="349.60" font-size="11.4" text-anchor="start" font-family="Liberation Sans" fill="#e8452e" stroke="#e8452e" >0</text><text id="r-2" x="636.90" y="381.00" font-size="11.4" text-anchor="start" font-family="Liberation Sans" fill="#e8452e" stroke="#e8452e" >-2</text><text id="gl" transform="translate(666.60,254.80) rotate(-90)" font-size="14" text-anchor="middle" font-family="Liberation Serif" fill="#3e8e3a" stroke="#3e8e3a" >log<tspan font-size="9.5" dy="2">10</tspan><tspan dy="-2">(n</tspan><tspan font-size="9.5" dy="2">H+</tspan><tspan dy="-2">/n</tspan><tspan font-size="9.5" dy="2">c</tspan><tspan dy="-2">)</tspan></text><text id="rl" transform="translate(669.80,342.10) rotate(-90)" font-size="13.8" text-anchor="middle" font-family="Liberation Serif" fill="#e8452e" stroke="#e8452e" >log<tspan font-size="9.5" dy="2.5">10</tspan><tspan dy="-2.5">(n</tspan><tspan font-size="9.5" dy="2.5">C</tspan><tspan font-size="7" dy="2">6+</tspan><tspan dy="-4.5">/n</tspan><tspan font-size="9.5" dy="2.5">c</tspan><tspan dy="-2.5">)</tspan></text></g></svg>
</body></html>
